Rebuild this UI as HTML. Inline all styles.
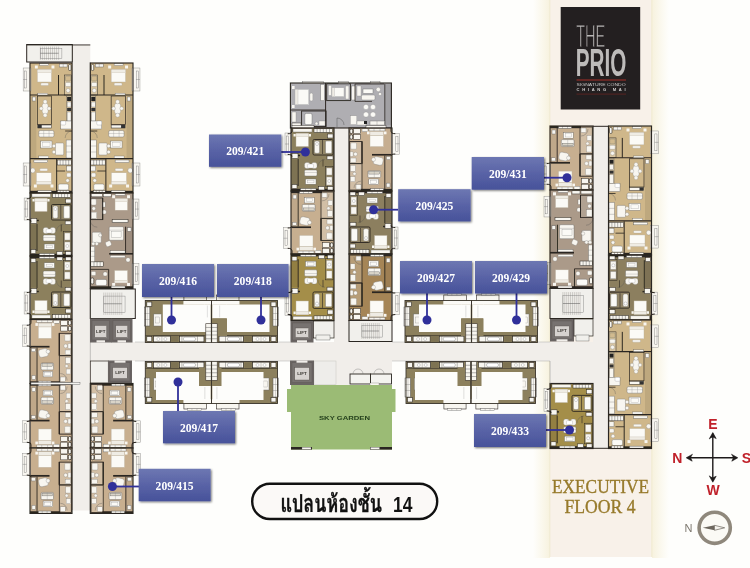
<!DOCTYPE html>
<html lang="th"><head><meta charset="utf-8"><title>แปลนห้องชั้น 14</title>
<style>
html,body{margin:0;padding:0;background:#fefefc;}
body{width:750px;height:568px;overflow:hidden;position:relative;font-family:"Liberation Sans","Loma","Noto Sans Thai","DejaVu Sans",sans-serif;}
svg{position:absolute;left:0;top:0;display:block;}
</style></head><body>
<svg width="750" height="568" viewBox="0 0 750 568">
<defs>
<linearGradient id="lg" x1="0" y1="0" x2="0" y2="1"><stop offset="0" stop-color="#6d77b2"/><stop offset="0.5" stop-color="#5963a6"/><stop offset="1" stop-color="#47529a"/></linearGradient>
<filter id="sh" x="-10%" y="-10%" width="125%" height="135%"><feGaussianBlur in="SourceAlpha" stdDeviation="1.2"/><feOffset dx="0.6" dy="1.4"/><feComponentTransfer><feFuncA type="linear" slope="0.55"/></feComponentTransfer><feMerge><feMergeNode/><feMergeNode in="SourceGraphic"/></feMerge></filter>
<filter id="soft" x="0" y="0" width="100%" height="100%"><feGaussianBlur stdDeviation="0.6"/></filter>
<linearGradient id="bandL" x1="0" y1="0" x2="1" y2="0"><stop offset="0" stop-color="#f8f3e0" stop-opacity="0"/><stop offset="1" stop-color="#f7f2de" stop-opacity="1"/></linearGradient>
<linearGradient id="bandR" x1="0" y1="0" x2="1" y2="0"><stop offset="0" stop-color="#f7f2de" stop-opacity="1"/><stop offset="1" stop-color="#f8f3e0" stop-opacity="0"/></linearGradient>
</defs>
<rect width="750" height="568" fill="#fefefc"/>
<!-- executive band -->
<rect x="533" y="0" width="17" height="558" fill="url(#bandL)"/>
<rect x="652" y="0" width="17" height="558" fill="url(#bandR)"/>
<rect x="549.5" y="0" width="102.5" height="557" fill="#f8f1e9"/>
<line x1="549.8" y1="0" x2="549.8" y2="557" stroke="#efe8cc" stroke-width="0.8"/>
<line x1="651.8" y1="0" x2="651.8" y2="557" stroke="#efe8cc" stroke-width="0.8"/>
<g filter="url(#soft)">
<rect x="72.30" y="44.50" width="18.00" height="466.00" fill="#f1eeea"/>
<rect x="72.00" y="342.00" width="540.00" height="19.00" fill="#f1eeea"/>
<rect x="334.00" y="128.00" width="15.00" height="257.00" fill="#f1eeea"/>
<rect x="593.00" y="126.00" width="15.50" height="322.00" fill="#f1eeea"/>
<rect x="550.00" y="361.00" width="43.00" height="22.50" fill="#f1eeea"/>
<rect x="336.00" y="360.00" width="56.00" height="14.50" fill="#f1eeea"/>
<rect x="314.00" y="361.00" width="22.00" height="23.50" fill="#eeedea" stroke="#c8c6c0" stroke-width="0.50"/>
<line x1="72.30" y1="44.50" x2="72.30" y2="510.00" stroke="#777" stroke-width="0.40"/>
<line x1="90.30" y1="62.00" x2="90.30" y2="510.00" stroke="#777" stroke-width="0.40"/>
<line x1="135.00" y1="342.00" x2="290.00" y2="342.00" stroke="#999" stroke-width="0.40"/>
<line x1="135.00" y1="361.00" x2="290.00" y2="361.00" stroke="#999" stroke-width="0.40"/>
<line x1="392.00" y1="342.00" x2="550.00" y2="342.00" stroke="#999" stroke-width="0.40"/>
<line x1="392.00" y1="361.00" x2="550.00" y2="361.00" stroke="#999" stroke-width="0.40"/>
<rect x="26.70" y="44.50" width="45.60" height="17.50" fill="#f1f0ec" stroke="#2b2620" stroke-width="1.00"/><line x1="40.38" y1="46.60" x2="40.38" y2="59.90" stroke="#8a8680" stroke-width="0.35"/><line x1="42.41" y1="46.60" x2="42.41" y2="59.90" stroke="#8a8680" stroke-width="0.35"/><line x1="44.43" y1="46.60" x2="44.43" y2="59.90" stroke="#8a8680" stroke-width="0.35"/><line x1="46.46" y1="46.60" x2="46.46" y2="59.90" stroke="#8a8680" stroke-width="0.35"/><line x1="48.49" y1="46.60" x2="48.49" y2="59.90" stroke="#8a8680" stroke-width="0.35"/><line x1="50.51" y1="46.60" x2="50.51" y2="59.90" stroke="#8a8680" stroke-width="0.35"/><line x1="52.54" y1="46.60" x2="52.54" y2="59.90" stroke="#8a8680" stroke-width="0.35"/><line x1="54.57" y1="46.60" x2="54.57" y2="59.90" stroke="#8a8680" stroke-width="0.35"/><line x1="56.59" y1="46.60" x2="56.59" y2="59.90" stroke="#8a8680" stroke-width="0.35"/><line x1="58.62" y1="46.60" x2="58.62" y2="59.90" stroke="#8a8680" stroke-width="0.35"/><rect x="40.38" y="48.70" width="21.52" height="9.62" fill="none" stroke="#777" stroke-width="0.40"/><line x1="40.38" y1="53.25" x2="58.62" y2="53.25" stroke="#555" stroke-width="0.50"/>
<rect x="26.70" y="44.50" width="63.60" height="0.90" fill="#2b2620"/>
<g transform="matrix(0.97674 0 0 1.00000 30.000 63.000)"><rect x="0.00" y="0.00" width="43.00" height="130.00" fill="#cfb78a"/><rect x="-7.00" y="5.00" width="8.00" height="23.00" fill="#f8f6f0" stroke="#8a8a88" stroke-width="0.45"/><rect x="-5.50" y="8.00" width="2.20" height="17.00" fill="none" stroke="#777" stroke-width="0.40"/><line x1="-7.00" y1="16.50" x2="-3.00" y2="16.50" stroke="#777" stroke-width="0.40"/><rect x="-7.00" y="100.00" width="8.00" height="23.00" fill="#f8f6f0" stroke="#8a8a88" stroke-width="0.45"/><rect x="-5.50" y="103.00" width="2.20" height="17.00" fill="none" stroke="#777" stroke-width="0.40"/><line x1="-7.00" y1="111.50" x2="-3.00" y2="111.50" stroke="#777" stroke-width="0.40"/><rect x="7.50" y="6.50" width="14.50" height="12.50" fill="#fbfaf6" stroke="#b8ae9c" stroke-width="0.40"/><rect x="7.50" y="6.50" width="14.50" height="3.00" fill="#efece4" stroke="#b8ae9c" stroke-width="0.30"/><rect x="5.00" y="2.50" width="3.00" height="3.00" fill="#f8f6f0"/><rect x="22.00" y="2.50" width="3.00" height="3.00" fill="#f8f6f0"/><rect x="11.00" y="20.00" width="8.00" height="2.40" fill="#f8f6f0" stroke="#999" stroke-width="0.30" rx="1.00"/><rect x="10.00" y="0.40" width="9.00" height="2.20" fill="#f8f6f0" stroke="#666" stroke-width="0.40"/><rect x="30.00" y="1.00" width="8.00" height="3.00" fill="#f8f6f0" stroke="#555" stroke-width="0.40"/><line x1="34.00" y1="1.00" x2="34.00" y2="4.00" stroke="#555" stroke-width="0.30"/><rect x="39.50" y="1.50" width="2.50" height="6.00" fill="#f8f6f0" stroke="#2b2620" stroke-width="0.60" rx="1.00"/><rect x="35.50" y="12.00" width="7.00" height="20.00" fill="#d8c5a1" stroke="#2b2620" stroke-width="0.50"/><rect x="36.30" y="13.00" width="5.50" height="5.00" fill="#d1ba8f" stroke="#776" stroke-width="0.40" rx="1.00"/><rect x="36.30" y="19.50" width="5.50" height="4.00" fill="#f8f6f0" stroke="#777" stroke-width="0.30" rx="1.00"/><circle cx="39.00" cy="27.50" r="2.00" fill="#f8f6f0" stroke="#777" stroke-width="0.30"/><line x1="29.20" y1="12.00" x2="29.20" y2="32.00" stroke="#2b2620" stroke-width="1.00"/><line x1="0.00" y1="32.00" x2="43.00" y2="32.00" stroke="#2b2620" stroke-width="1.10"/><rect x="8.00" y="30.20" width="10.00" height="1.80" fill="#f8f6f0" stroke="#555" stroke-width="0.30"/><rect x="0.50" y="33.00" width="6.00" height="62.00" fill="#bea87e"/><rect x="2.50" y="34.00" width="3.30" height="4.00" fill="#f8f6f0" stroke="#666" stroke-width="0.40"/><rect x="7.50" y="33.00" width="14.50" height="28.50" fill="none" stroke="#2b2620" stroke-width="0.70"/><rect x="12.50" y="40.00" width="6.00" height="11.00" fill="#f8f6f0" stroke="#888" stroke-width="0.30" rx="2.50"/><circle cx="15.50" cy="38.80" r="2.00" fill="#f8f6f0" stroke="#888" stroke-width="0.30"/><circle cx="15.50" cy="52.20" r="2.00" fill="#f8f6f0" stroke="#888" stroke-width="0.30"/><circle cx="11.50" cy="45.50" r="1.80" fill="#f8f6f0" stroke="#888" stroke-width="0.30"/><circle cx="19.50" cy="45.50" r="1.80" fill="#f8f6f0" stroke="#888" stroke-width="0.30"/><rect x="37.50" y="33.00" width="5.00" height="26.00" fill="#d8c5a1" stroke="#555" stroke-width="0.40"/><rect x="38.00" y="34.00" width="4.00" height="4.00" fill="#222"/><rect x="38.00" y="39.00" width="4.00" height="5.00" fill="#f8f6f0" stroke="#555" stroke-width="0.30"/><rect x="38.00" y="45.00" width="4.00" height="3.00" fill="#333"/><rect x="38.00" y="49.00" width="4.00" height="9.00" fill="#f8f6f0" stroke="#555" stroke-width="0.30"/><rect x="31.50" y="58.00" width="11.00" height="8.00" fill="#f8f6f0" stroke="#666" stroke-width="0.40"/><rect x="31.50" y="58.00" width="5.00" height="4.00" fill="#fff" stroke="#888" stroke-width="0.30" rx="1.00"/><rect x="8.00" y="62.00" width="14.00" height="3.00" fill="#f8f6f0" stroke="#2b2620" stroke-width="0.50"/><rect x="8.00" y="62.00" width="4.00" height="3.00" fill="#333"/><path d="M43 68 A7 7 0 0 0 36 75" fill="none" stroke="#555" stroke-width="0.35"/><line x1="36.00" y1="68.00" x2="43.00" y2="68.00" stroke="#2b2620" stroke-width="0.80"/><rect x="9.00" y="67.50" width="15.50" height="6.50" fill="#f8f6f0" stroke="#666" stroke-width="0.40" rx="1.50"/><line x1="9.00" y1="70.50" x2="24.50" y2="70.50" stroke="#888" stroke-width="0.30"/><line x1="14.00" y1="67.50" x2="14.00" y2="74.00" stroke="#888" stroke-width="0.30"/><line x1="19.50" y1="67.50" x2="19.50" y2="74.00" stroke="#888" stroke-width="0.30"/><rect x="11.00" y="78.00" width="11.50" height="7.00" fill="#fbfaf6" stroke="#666" stroke-width="0.40"/><rect x="13.00" y="79.50" width="7.50" height="4.00" fill="none" stroke="#999" stroke-width="0.30"/><rect x="26.00" y="80.00" width="8.50" height="12.00" fill="#f8f6f0" stroke="#777" stroke-width="0.40" rx="1.00"/><circle cx="24.50" cy="83.00" r="1.80" fill="#f8f6f0" stroke="#777" stroke-width="0.30"/><circle cx="24.50" cy="89.00" r="1.80" fill="#f8f6f0" stroke="#777" stroke-width="0.30"/><rect x="37.00" y="77.00" width="5.50" height="18.00" fill="#f8f6f0" stroke="#666" stroke-width="0.40"/><line x1="37.00" y1="83.00" x2="42.50" y2="83.00" stroke="#666" stroke-width="0.30"/><line x1="37.00" y1="89.00" x2="42.50" y2="89.00" stroke="#666" stroke-width="0.30"/><rect x="9.00" y="93.00" width="10.00" height="2.20" fill="#f8f6f0" stroke="#555" stroke-width="0.30"/><line x1="0.00" y1="95.70" x2="43.00" y2="95.70" stroke="#2b2620" stroke-width="1.20"/><rect x="4.00" y="97.00" width="14.00" height="2.60" fill="#f8f6f0" stroke="#555" stroke-width="0.40"/><rect x="10.00" y="105.50" width="8.00" height="2.40" fill="#f8f6f0" stroke="#999" stroke-width="0.30" rx="1.00"/><rect x="6.50" y="109.80" width="15.30" height="11.50" fill="#fbfaf6" stroke="#b8ae9c" stroke-width="0.40"/><rect x="6.50" y="118.30" width="15.30" height="3.00" fill="#efece4" stroke="#b8ae9c" stroke-width="0.30"/><rect x="4.00" y="121.50" width="3.00" height="3.00" fill="#f8f6f0"/><rect x="21.00" y="121.50" width="3.00" height="3.00" fill="#f8f6f0"/><circle cx="2.80" cy="107.50" r="2.40" fill="#f8f6f0" stroke="#777" stroke-width="0.30"/><line x1="27.30" y1="96.00" x2="27.30" y2="130.00" stroke="#2b2620" stroke-width="1.00"/><rect x="28.00" y="97.00" width="14.50" height="5.00" fill="#f8f6f0" stroke="#2b2620" stroke-width="0.50"/><line x1="30.90" y1="97.00" x2="30.90" y2="102.00" stroke="#444" stroke-width="0.40"/><line x1="33.80" y1="97.00" x2="33.80" y2="102.00" stroke="#444" stroke-width="0.40"/><line x1="36.70" y1="97.00" x2="36.70" y2="102.00" stroke="#444" stroke-width="0.40"/><line x1="39.60" y1="97.00" x2="39.60" y2="102.00" stroke="#444" stroke-width="0.40"/><line x1="27.30" y1="108.00" x2="36.00" y2="108.00" stroke="#2b2620" stroke-width="0.80"/><rect x="37.50" y="103.00" width="5.00" height="5.00" fill="#f8f6f0" stroke="#555" stroke-width="0.40"/><rect x="37.50" y="110.00" width="4.50" height="4.00" fill="#f8f6f0" stroke="#777" stroke-width="0.30" rx="1.00"/><circle cx="38.50" cy="117.50" r="1.80" fill="#f8f6f0" stroke="#777" stroke-width="0.30"/><rect x="29.00" y="121.00" width="10.50" height="6.00" fill="#fbfaf6" stroke="#666" stroke-width="0.40" rx="1.50"/><rect x="0.00" y="127.80" width="43.00" height="2.20" fill="#2b2620"/><rect x="8.00" y="127.60" width="14.00" height="2.20" fill="#f8f6f0" stroke="#555" stroke-width="0.40"/><rect x="28.00" y="127.40" width="12.00" height="2.40" fill="#f8f6f0" stroke="#2b2620" stroke-width="0.40"/><line x1="31.00" y1="127.40" x2="31.00" y2="129.80" stroke="#444" stroke-width="0.40"/><line x1="34.00" y1="127.40" x2="34.00" y2="129.80" stroke="#444" stroke-width="0.40"/><line x1="37.00" y1="127.40" x2="37.00" y2="129.80" stroke="#444" stroke-width="0.40"/><rect x="0.00" y="0.00" width="43.00" height="130.00" fill="none" stroke="#2b2620" stroke-width="1.15"/></g>
<g transform="matrix(-0.99302 0 0 1.00000 133.000 63.000)"><rect x="0.00" y="0.00" width="43.00" height="130.00" fill="#cfb78a"/><rect x="-7.00" y="5.00" width="8.00" height="23.00" fill="#f8f6f0" stroke="#8a8a88" stroke-width="0.45"/><rect x="-5.50" y="8.00" width="2.20" height="17.00" fill="none" stroke="#777" stroke-width="0.40"/><line x1="-7.00" y1="16.50" x2="-3.00" y2="16.50" stroke="#777" stroke-width="0.40"/><rect x="-7.00" y="100.00" width="8.00" height="23.00" fill="#f8f6f0" stroke="#8a8a88" stroke-width="0.45"/><rect x="-5.50" y="103.00" width="2.20" height="17.00" fill="none" stroke="#777" stroke-width="0.40"/><line x1="-7.00" y1="111.50" x2="-3.00" y2="111.50" stroke="#777" stroke-width="0.40"/><rect x="7.50" y="6.50" width="14.50" height="12.50" fill="#fbfaf6" stroke="#b8ae9c" stroke-width="0.40"/><rect x="7.50" y="6.50" width="14.50" height="3.00" fill="#efece4" stroke="#b8ae9c" stroke-width="0.30"/><rect x="5.00" y="2.50" width="3.00" height="3.00" fill="#f8f6f0"/><rect x="22.00" y="2.50" width="3.00" height="3.00" fill="#f8f6f0"/><rect x="11.00" y="20.00" width="8.00" height="2.40" fill="#f8f6f0" stroke="#999" stroke-width="0.30" rx="1.00"/><rect x="10.00" y="0.40" width="9.00" height="2.20" fill="#f8f6f0" stroke="#666" stroke-width="0.40"/><rect x="30.00" y="1.00" width="8.00" height="3.00" fill="#f8f6f0" stroke="#555" stroke-width="0.40"/><line x1="34.00" y1="1.00" x2="34.00" y2="4.00" stroke="#555" stroke-width="0.30"/><rect x="39.50" y="1.50" width="2.50" height="6.00" fill="#f8f6f0" stroke="#2b2620" stroke-width="0.60" rx="1.00"/><rect x="35.50" y="12.00" width="7.00" height="20.00" fill="#d8c5a1" stroke="#2b2620" stroke-width="0.50"/><rect x="36.30" y="13.00" width="5.50" height="5.00" fill="#d1ba8f" stroke="#776" stroke-width="0.40" rx="1.00"/><rect x="36.30" y="19.50" width="5.50" height="4.00" fill="#f8f6f0" stroke="#777" stroke-width="0.30" rx="1.00"/><circle cx="39.00" cy="27.50" r="2.00" fill="#f8f6f0" stroke="#777" stroke-width="0.30"/><line x1="29.20" y1="12.00" x2="29.20" y2="32.00" stroke="#2b2620" stroke-width="1.00"/><line x1="0.00" y1="32.00" x2="43.00" y2="32.00" stroke="#2b2620" stroke-width="1.10"/><rect x="8.00" y="30.20" width="10.00" height="1.80" fill="#f8f6f0" stroke="#555" stroke-width="0.30"/><rect x="0.50" y="33.00" width="6.00" height="62.00" fill="#bea87e"/><rect x="2.50" y="34.00" width="3.30" height="4.00" fill="#f8f6f0" stroke="#666" stroke-width="0.40"/><rect x="7.50" y="33.00" width="14.50" height="28.50" fill="none" stroke="#2b2620" stroke-width="0.70"/><rect x="12.50" y="40.00" width="6.00" height="11.00" fill="#f8f6f0" stroke="#888" stroke-width="0.30" rx="2.50"/><circle cx="15.50" cy="38.80" r="2.00" fill="#f8f6f0" stroke="#888" stroke-width="0.30"/><circle cx="15.50" cy="52.20" r="2.00" fill="#f8f6f0" stroke="#888" stroke-width="0.30"/><circle cx="11.50" cy="45.50" r="1.80" fill="#f8f6f0" stroke="#888" stroke-width="0.30"/><circle cx="19.50" cy="45.50" r="1.80" fill="#f8f6f0" stroke="#888" stroke-width="0.30"/><rect x="37.50" y="33.00" width="5.00" height="26.00" fill="#d8c5a1" stroke="#555" stroke-width="0.40"/><rect x="38.00" y="34.00" width="4.00" height="4.00" fill="#222"/><rect x="38.00" y="39.00" width="4.00" height="5.00" fill="#f8f6f0" stroke="#555" stroke-width="0.30"/><rect x="38.00" y="45.00" width="4.00" height="3.00" fill="#333"/><rect x="38.00" y="49.00" width="4.00" height="9.00" fill="#f8f6f0" stroke="#555" stroke-width="0.30"/><rect x="31.50" y="58.00" width="11.00" height="8.00" fill="#f8f6f0" stroke="#666" stroke-width="0.40"/><rect x="31.50" y="58.00" width="5.00" height="4.00" fill="#fff" stroke="#888" stroke-width="0.30" rx="1.00"/><rect x="8.00" y="62.00" width="14.00" height="3.00" fill="#f8f6f0" stroke="#2b2620" stroke-width="0.50"/><rect x="8.00" y="62.00" width="4.00" height="3.00" fill="#333"/><path d="M43 68 A7 7 0 0 0 36 75" fill="none" stroke="#555" stroke-width="0.35"/><line x1="36.00" y1="68.00" x2="43.00" y2="68.00" stroke="#2b2620" stroke-width="0.80"/><rect x="9.00" y="67.50" width="15.50" height="6.50" fill="#f8f6f0" stroke="#666" stroke-width="0.40" rx="1.50"/><line x1="9.00" y1="70.50" x2="24.50" y2="70.50" stroke="#888" stroke-width="0.30"/><line x1="14.00" y1="67.50" x2="14.00" y2="74.00" stroke="#888" stroke-width="0.30"/><line x1="19.50" y1="67.50" x2="19.50" y2="74.00" stroke="#888" stroke-width="0.30"/><rect x="11.00" y="78.00" width="11.50" height="7.00" fill="#fbfaf6" stroke="#666" stroke-width="0.40"/><rect x="13.00" y="79.50" width="7.50" height="4.00" fill="none" stroke="#999" stroke-width="0.30"/><rect x="26.00" y="80.00" width="8.50" height="12.00" fill="#f8f6f0" stroke="#777" stroke-width="0.40" rx="1.00"/><circle cx="24.50" cy="83.00" r="1.80" fill="#f8f6f0" stroke="#777" stroke-width="0.30"/><circle cx="24.50" cy="89.00" r="1.80" fill="#f8f6f0" stroke="#777" stroke-width="0.30"/><rect x="37.00" y="77.00" width="5.50" height="18.00" fill="#f8f6f0" stroke="#666" stroke-width="0.40"/><line x1="37.00" y1="83.00" x2="42.50" y2="83.00" stroke="#666" stroke-width="0.30"/><line x1="37.00" y1="89.00" x2="42.50" y2="89.00" stroke="#666" stroke-width="0.30"/><rect x="9.00" y="93.00" width="10.00" height="2.20" fill="#f8f6f0" stroke="#555" stroke-width="0.30"/><line x1="0.00" y1="95.70" x2="43.00" y2="95.70" stroke="#2b2620" stroke-width="1.20"/><rect x="4.00" y="97.00" width="14.00" height="2.60" fill="#f8f6f0" stroke="#555" stroke-width="0.40"/><rect x="10.00" y="105.50" width="8.00" height="2.40" fill="#f8f6f0" stroke="#999" stroke-width="0.30" rx="1.00"/><rect x="6.50" y="109.80" width="15.30" height="11.50" fill="#fbfaf6" stroke="#b8ae9c" stroke-width="0.40"/><rect x="6.50" y="118.30" width="15.30" height="3.00" fill="#efece4" stroke="#b8ae9c" stroke-width="0.30"/><rect x="4.00" y="121.50" width="3.00" height="3.00" fill="#f8f6f0"/><rect x="21.00" y="121.50" width="3.00" height="3.00" fill="#f8f6f0"/><circle cx="2.80" cy="107.50" r="2.40" fill="#f8f6f0" stroke="#777" stroke-width="0.30"/><line x1="27.30" y1="96.00" x2="27.30" y2="130.00" stroke="#2b2620" stroke-width="1.00"/><rect x="28.00" y="97.00" width="14.50" height="5.00" fill="#f8f6f0" stroke="#2b2620" stroke-width="0.50"/><line x1="30.90" y1="97.00" x2="30.90" y2="102.00" stroke="#444" stroke-width="0.40"/><line x1="33.80" y1="97.00" x2="33.80" y2="102.00" stroke="#444" stroke-width="0.40"/><line x1="36.70" y1="97.00" x2="36.70" y2="102.00" stroke="#444" stroke-width="0.40"/><line x1="39.60" y1="97.00" x2="39.60" y2="102.00" stroke="#444" stroke-width="0.40"/><line x1="27.30" y1="108.00" x2="36.00" y2="108.00" stroke="#2b2620" stroke-width="0.80"/><rect x="37.50" y="103.00" width="5.00" height="5.00" fill="#f8f6f0" stroke="#555" stroke-width="0.40"/><rect x="37.50" y="110.00" width="4.50" height="4.00" fill="#f8f6f0" stroke="#777" stroke-width="0.30" rx="1.00"/><circle cx="38.50" cy="117.50" r="1.80" fill="#f8f6f0" stroke="#777" stroke-width="0.30"/><rect x="29.00" y="121.00" width="10.50" height="6.00" fill="#fbfaf6" stroke="#666" stroke-width="0.40" rx="1.50"/><rect x="0.00" y="127.80" width="43.00" height="2.20" fill="#2b2620"/><rect x="8.00" y="127.60" width="14.00" height="2.20" fill="#f8f6f0" stroke="#555" stroke-width="0.40"/><rect x="28.00" y="127.40" width="12.00" height="2.40" fill="#f8f6f0" stroke="#2b2620" stroke-width="0.40"/><line x1="31.00" y1="127.40" x2="31.00" y2="129.80" stroke="#444" stroke-width="0.40"/><line x1="34.00" y1="127.40" x2="34.00" y2="129.80" stroke="#444" stroke-width="0.40"/><line x1="37.00" y1="127.40" x2="37.00" y2="129.80" stroke="#444" stroke-width="0.40"/><rect x="0.00" y="0.00" width="43.00" height="130.00" fill="none" stroke="#2b2620" stroke-width="1.15"/></g>
<g transform="matrix(0.97674 0 0 1.00000 30.000 193.000)"><rect x="0.00" y="0.00" width="43.00" height="63.00" fill="#8c805d"/><rect x="-6.00" y="5.00" width="6.50" height="22.00" fill="#f8f6f0" stroke="#8a8a88" stroke-width="0.45"/><rect x="-4.50" y="8.00" width="2.20" height="16.00" fill="none" stroke="#777" stroke-width="0.40"/><line x1="-6.00" y1="16.00" x2="-2.00" y2="16.00" stroke="#777" stroke-width="0.40"/><rect x="2.00" y="0.80" width="19.00" height="3.20" fill="#f8f6f0" stroke="#666" stroke-width="0.40"/><rect x="23.00" y="0.80" width="18.50" height="3.60" fill="#f8f6f0" stroke="#2b2620" stroke-width="0.50"/><line x1="26.10" y1="0.80" x2="26.10" y2="4.40" stroke="#444" stroke-width="0.40"/><line x1="29.20" y1="0.80" x2="29.20" y2="4.40" stroke="#444" stroke-width="0.40"/><line x1="32.30" y1="0.80" x2="32.30" y2="4.40" stroke="#444" stroke-width="0.40"/><line x1="35.40" y1="0.80" x2="35.40" y2="4.40" stroke="#444" stroke-width="0.40"/><line x1="38.50" y1="0.80" x2="38.50" y2="4.40" stroke="#444" stroke-width="0.40"/><rect x="5.00" y="5.50" width="12.50" height="13.00" fill="#fbfaf6" stroke="#b8ae9c" stroke-width="0.40"/><rect x="5.00" y="5.50" width="12.50" height="3.00" fill="#efece4" stroke="#b8ae9c" stroke-width="0.30"/><rect x="2.50" y="6.00" width="2.20" height="2.50" fill="#f8f6f0"/><rect x="17.80" y="6.00" width="2.20" height="2.50" fill="#f8f6f0"/><rect x="22.00" y="11.50" width="20.00" height="15.50" fill="#948868" stroke="#2b2620" stroke-width="0.90" rx="1.20"/><rect x="23.50" y="13.00" width="5.00" height="12.30" fill="#f8f6f0" stroke="#777" stroke-width="0.40" rx="1.50"/><circle cx="26.00" cy="16.00" r="1.50" fill="#fff" stroke="#777" stroke-width="0.30"/><rect x="34.50" y="13.00" width="6.30" height="12.30" fill="#fbfaf6" stroke="#666" stroke-width="0.40" rx="1.00"/><line x1="31.50" y1="12.00" x2="31.50" y2="26.00" stroke="#2b2620" stroke-width="0.60"/><rect x="36.50" y="6.00" width="5.50" height="4.00" fill="#f8f6f0" stroke="#2b2620" stroke-width="0.50"/><rect x="36.00" y="28.00" width="6.00" height="3.60" fill="#f8f6f0" stroke="#2b2620" stroke-width="0.50"/><line x1="0.00" y1="27.50" x2="9.00" y2="27.50" stroke="#2b2620" stroke-width="1.40"/><rect x="1.00" y="25.50" width="6.00" height="5.00" fill="#f8f6f0" stroke="#2b2620" stroke-width="0.50"/><rect x="0.50" y="31.50" width="6.50" height="26.50" fill="#7e7353"/><line x1="7.20" y1="31.00" x2="7.20" y2="58.00" stroke="#2b2620" stroke-width="0.90"/><rect x="13.50" y="34.50" width="5.50" height="6.00" fill="#f8f6f0" stroke="#777" stroke-width="0.30" rx="2.00"/><rect x="20.50" y="34.50" width="5.50" height="6.00" fill="#f8f6f0" stroke="#777" stroke-width="0.30" rx="2.00"/><rect x="16.50" y="36.00" width="6.00" height="4.00" fill="#fff" stroke="#999" stroke-width="0.30" rx="1.00"/><rect x="13.50" y="42.00" width="12.50" height="6.00" fill="#f8f6f0" stroke="#666" stroke-width="0.40" rx="1.20"/><line x1="13.50" y1="44.50" x2="26.00" y2="44.50" stroke="#888" stroke-width="0.30"/><rect x="14.50" y="51.00" width="10.50" height="5.20" fill="#fbfaf6" stroke="#666" stroke-width="0.40"/><rect x="16.50" y="52.30" width="6.50" height="2.60" fill="none" stroke="#999" stroke-width="0.30"/><rect x="34.50" y="38.50" width="7.50" height="20.00" fill="#948868" stroke="#2b2620" stroke-width="0.50"/><rect x="35.50" y="40.00" width="5.50" height="7.00" fill="#f8f6f0" stroke="#777" stroke-width="0.30"/><rect x="35.50" y="49.00" width="5.50" height="8.00" fill="#f8f6f0" stroke="#777" stroke-width="0.30"/><circle cx="38.20" cy="53.00" r="1.50" fill="#fff" stroke="#777" stroke-width="0.30"/><path d="M34 31.5 A7 7 0 0 0 27 38.5" fill="none" stroke="#555" stroke-width="0.35"/><line x1="32.00" y1="31.50" x2="32.00" y2="38.50" stroke="#2b2620" stroke-width="0.60"/><rect x="0.00" y="60.80" width="43.00" height="2.20" fill="#2b2620"/><rect x="9.50" y="60.60" width="15.50" height="2.20" fill="#f8f6f0" stroke="#555" stroke-width="0.40"/><line x1="14.50" y1="60.60" x2="14.50" y2="62.80" stroke="#555" stroke-width="0.30"/><line x1="20.00" y1="60.60" x2="20.00" y2="62.80" stroke="#555" stroke-width="0.30"/><rect x="1.00" y="56.50" width="5.00" height="4.00" fill="#f8f6f0" stroke="#2b2620" stroke-width="0.50"/><rect x="36.50" y="58.50" width="5.50" height="3.50" fill="#f8f6f0" stroke="#2b2620" stroke-width="0.50"/><rect x="27.50" y="58.50" width="6.00" height="3.50" fill="#f8f6f0" stroke="#2b2620" stroke-width="0.50"/><path d="M-3.3 5.8 Q1 5.8 1 3 V0 M-3.3 26.4 Q1 26.4 1 28.5" fill="none" stroke="#2b2620" stroke-width="1.0"/><rect x="0.00" y="0.00" width="43.00" height="63.00" fill="none" stroke="#2b2620" stroke-width="1.15"/></g>
<g transform="matrix(0.97674 0 0 -1.00000 30.000 319.000)"><rect x="0.00" y="0.00" width="43.00" height="63.00" fill="#8c805d"/><rect x="-6.00" y="5.00" width="6.50" height="22.00" fill="#f8f6f0" stroke="#8a8a88" stroke-width="0.45"/><rect x="-4.50" y="8.00" width="2.20" height="16.00" fill="none" stroke="#777" stroke-width="0.40"/><line x1="-6.00" y1="16.00" x2="-2.00" y2="16.00" stroke="#777" stroke-width="0.40"/><rect x="2.00" y="0.80" width="19.00" height="3.20" fill="#f8f6f0" stroke="#666" stroke-width="0.40"/><rect x="23.00" y="0.80" width="18.50" height="3.60" fill="#f8f6f0" stroke="#2b2620" stroke-width="0.50"/><line x1="26.10" y1="0.80" x2="26.10" y2="4.40" stroke="#444" stroke-width="0.40"/><line x1="29.20" y1="0.80" x2="29.20" y2="4.40" stroke="#444" stroke-width="0.40"/><line x1="32.30" y1="0.80" x2="32.30" y2="4.40" stroke="#444" stroke-width="0.40"/><line x1="35.40" y1="0.80" x2="35.40" y2="4.40" stroke="#444" stroke-width="0.40"/><line x1="38.50" y1="0.80" x2="38.50" y2="4.40" stroke="#444" stroke-width="0.40"/><rect x="5.00" y="5.50" width="12.50" height="13.00" fill="#fbfaf6" stroke="#b8ae9c" stroke-width="0.40"/><rect x="5.00" y="5.50" width="12.50" height="3.00" fill="#efece4" stroke="#b8ae9c" stroke-width="0.30"/><rect x="2.50" y="6.00" width="2.20" height="2.50" fill="#f8f6f0"/><rect x="17.80" y="6.00" width="2.20" height="2.50" fill="#f8f6f0"/><rect x="22.00" y="11.50" width="20.00" height="15.50" fill="#948868" stroke="#2b2620" stroke-width="0.90" rx="1.20"/><rect x="23.50" y="13.00" width="5.00" height="12.30" fill="#f8f6f0" stroke="#777" stroke-width="0.40" rx="1.50"/><circle cx="26.00" cy="16.00" r="1.50" fill="#fff" stroke="#777" stroke-width="0.30"/><rect x="34.50" y="13.00" width="6.30" height="12.30" fill="#fbfaf6" stroke="#666" stroke-width="0.40" rx="1.00"/><line x1="31.50" y1="12.00" x2="31.50" y2="26.00" stroke="#2b2620" stroke-width="0.60"/><rect x="36.50" y="6.00" width="5.50" height="4.00" fill="#f8f6f0" stroke="#2b2620" stroke-width="0.50"/><rect x="36.00" y="28.00" width="6.00" height="3.60" fill="#f8f6f0" stroke="#2b2620" stroke-width="0.50"/><line x1="0.00" y1="27.50" x2="9.00" y2="27.50" stroke="#2b2620" stroke-width="1.40"/><rect x="1.00" y="25.50" width="6.00" height="5.00" fill="#f8f6f0" stroke="#2b2620" stroke-width="0.50"/><rect x="0.50" y="31.50" width="6.50" height="26.50" fill="#7e7353"/><line x1="7.20" y1="31.00" x2="7.20" y2="58.00" stroke="#2b2620" stroke-width="0.90"/><rect x="13.50" y="34.50" width="5.50" height="6.00" fill="#f8f6f0" stroke="#777" stroke-width="0.30" rx="2.00"/><rect x="20.50" y="34.50" width="5.50" height="6.00" fill="#f8f6f0" stroke="#777" stroke-width="0.30" rx="2.00"/><rect x="16.50" y="36.00" width="6.00" height="4.00" fill="#fff" stroke="#999" stroke-width="0.30" rx="1.00"/><rect x="13.50" y="42.00" width="12.50" height="6.00" fill="#f8f6f0" stroke="#666" stroke-width="0.40" rx="1.20"/><line x1="13.50" y1="44.50" x2="26.00" y2="44.50" stroke="#888" stroke-width="0.30"/><rect x="14.50" y="51.00" width="10.50" height="5.20" fill="#fbfaf6" stroke="#666" stroke-width="0.40"/><rect x="16.50" y="52.30" width="6.50" height="2.60" fill="none" stroke="#999" stroke-width="0.30"/><rect x="34.50" y="38.50" width="7.50" height="20.00" fill="#948868" stroke="#2b2620" stroke-width="0.50"/><rect x="35.50" y="40.00" width="5.50" height="7.00" fill="#f8f6f0" stroke="#777" stroke-width="0.30"/><rect x="35.50" y="49.00" width="5.50" height="8.00" fill="#f8f6f0" stroke="#777" stroke-width="0.30"/><circle cx="38.20" cy="53.00" r="1.50" fill="#fff" stroke="#777" stroke-width="0.30"/><path d="M34 31.5 A7 7 0 0 0 27 38.5" fill="none" stroke="#555" stroke-width="0.35"/><line x1="32.00" y1="31.50" x2="32.00" y2="38.50" stroke="#2b2620" stroke-width="0.60"/><rect x="0.00" y="60.80" width="43.00" height="2.20" fill="#2b2620"/><rect x="9.50" y="60.60" width="15.50" height="2.20" fill="#f8f6f0" stroke="#555" stroke-width="0.40"/><line x1="14.50" y1="60.60" x2="14.50" y2="62.80" stroke="#555" stroke-width="0.30"/><line x1="20.00" y1="60.60" x2="20.00" y2="62.80" stroke="#555" stroke-width="0.30"/><rect x="1.00" y="56.50" width="5.00" height="4.00" fill="#f8f6f0" stroke="#2b2620" stroke-width="0.50"/><rect x="36.50" y="58.50" width="5.50" height="3.50" fill="#f8f6f0" stroke="#2b2620" stroke-width="0.50"/><rect x="27.50" y="58.50" width="6.00" height="3.50" fill="#f8f6f0" stroke="#2b2620" stroke-width="0.50"/><path d="M-3.3 5.8 Q1 5.8 1 3 V0 M-3.3 26.4 Q1 26.4 1 28.5" fill="none" stroke="#2b2620" stroke-width="1.0"/><rect x="0.00" y="0.00" width="43.00" height="63.00" fill="none" stroke="#2b2620" stroke-width="1.15"/></g>
<g transform="matrix(-0.99302 0 0 1.00526 133.000 193.000)"><rect x="0.00" y="0.00" width="43.00" height="95.00" fill="#ab9a89"/><rect x="-6.00" y="6.00" width="7.00" height="20.00" fill="#f8f6f0" stroke="#8a8a88" stroke-width="0.45"/><rect x="-4.50" y="9.00" width="2.20" height="14.00" fill="none" stroke="#777" stroke-width="0.40"/><line x1="-6.00" y1="16.00" x2="-2.00" y2="16.00" stroke="#777" stroke-width="0.40"/><rect x="-6.00" y="70.00" width="7.00" height="21.00" fill="#f8f6f0" stroke="#8a8a88" stroke-width="0.45"/><rect x="-4.50" y="73.00" width="2.20" height="15.00" fill="none" stroke="#777" stroke-width="0.40"/><line x1="-6.00" y1="80.50" x2="-2.00" y2="80.50" stroke="#777" stroke-width="0.40"/><rect x="5.50" y="5.60" width="12.60" height="11.50" fill="#fbfaf6" stroke="#b8ae9c" stroke-width="0.40"/><rect x="5.50" y="5.60" width="12.60" height="2.80" fill="#efece4" stroke="#b8ae9c" stroke-width="0.30"/><rect x="3.00" y="2.20" width="3.00" height="3.00" fill="#f8f6f0"/><rect x="18.00" y="2.20" width="3.00" height="3.00" fill="#f8f6f0"/><rect x="8.00" y="0.40" width="10.00" height="2.00" fill="#f8f6f0" stroke="#666" stroke-width="0.40"/><rect x="22.00" y="0.80" width="8.00" height="3.00" fill="#f8f6f0" stroke="#2b2620" stroke-width="0.40"/><rect x="31.00" y="0.80" width="11.00" height="3.00" fill="#f8f6f0" stroke="#2b2620" stroke-width="0.40"/><rect x="30.50" y="5.00" width="12.00" height="21.50" fill="#b1a292" stroke="#2b2620" stroke-width="0.80"/><rect x="37.00" y="6.00" width="5.00" height="6.00" fill="#f8f6f0" stroke="#777" stroke-width="0.30" rx="1.00"/><circle cx="39.50" cy="15.50" r="1.80" fill="#f8f6f0" stroke="#777" stroke-width="0.30"/><rect x="36.50" y="19.00" width="5.50" height="6.50" fill="#f8f6f0" stroke="#777" stroke-width="0.30"/><rect x="28.00" y="9.00" width="2.50" height="5.00" fill="#f8f6f0" stroke="#666" stroke-width="0.30"/><rect x="27.00" y="17.00" width="4.00" height="4.00" fill="#f8f6f0" stroke="#777" stroke-width="0.30" rx="1.50"/><line x1="30.50" y1="5.00" x2="30.50" y2="26.50" stroke="#2b2620" stroke-width="1.00"/><rect x="5.00" y="26.50" width="16.00" height="3.00" fill="#f8f6f0" stroke="#2b2620" stroke-width="0.50"/><path d="M43 27 A7 7 0 0 1 36 34" fill="none" stroke="#555" stroke-width="0.35"/><rect x="1.00" y="33.50" width="6.50" height="26.50" fill="#9d8d7e"/><line x1="7.50" y1="33.50" x2="7.50" y2="60.00" stroke="#2b2620" stroke-width="0.90"/><rect x="2.00" y="34.50" width="3.50" height="3.50" fill="#f8f6f0" stroke="#666" stroke-width="0.40"/><rect x="9.50" y="33.50" width="14.50" height="13.50" fill="#f8f6f0" stroke="#666" stroke-width="0.40" rx="1.20"/><rect x="12.00" y="38.00" width="10.00" height="6.00" fill="#fbfaf6" stroke="#888" stroke-width="0.30"/><line x1="9.50" y1="37.00" x2="24.00" y2="37.00" stroke="#888" stroke-width="0.30"/><rect x="22.00" y="48.00" width="5.50" height="5.00" fill="#f8f6f0" stroke="#777" stroke-width="0.30" rx="1.50" transform="rotate(25 24.7 50.5)"/><rect x="32.00" y="39.00" width="9.00" height="10.50" fill="#f8f6f0" stroke="#777" stroke-width="0.40" rx="1.00"/><circle cx="33.00" cy="42.00" r="1.70" fill="#f8f6f0" stroke="#777" stroke-width="0.30"/><circle cx="36.50" cy="50.50" r="1.70" fill="#f8f6f0" stroke="#777" stroke-width="0.30"/><circle cx="40.00" cy="50.50" r="1.70" fill="#f8f6f0" stroke="#777" stroke-width="0.30"/><rect x="38.50" y="53.00" width="4.00" height="16.00" fill="#f8f6f0" stroke="#666" stroke-width="0.40"/><line x1="38.50" y1="58.00" x2="42.50" y2="58.00" stroke="#666" stroke-width="0.30"/><line x1="38.50" y1="63.00" x2="42.50" y2="63.00" stroke="#666" stroke-width="0.30"/><rect x="8.00" y="57.50" width="15.00" height="2.20" fill="#f8f6f0" stroke="#555" stroke-width="0.30"/><line x1="0.00" y1="60.50" x2="24.00" y2="60.50" stroke="#2b2620" stroke-width="1.60"/><rect x="8.00" y="62.20" width="15.00" height="2.20" fill="#f8f6f0" stroke="#555" stroke-width="0.30"/><circle cx="5.00" cy="66.50" r="2.20" fill="#f8f6f0" stroke="#777" stroke-width="0.30"/><rect x="5.50" y="77.00" width="13.00" height="12.50" fill="#fbfaf6" stroke="#b8ae9c" stroke-width="0.40"/><rect x="5.50" y="86.70" width="13.00" height="2.80" fill="#efece4" stroke="#b8ae9c" stroke-width="0.30"/><rect x="3.00" y="89.50" width="3.00" height="3.00" fill="#f8f6f0"/><rect x="18.00" y="89.50" width="3.00" height="3.00" fill="#f8f6f0"/><rect x="30.00" y="68.50" width="12.50" height="4.50" fill="#f8f6f0" stroke="#2b2620" stroke-width="0.50"/><line x1="33.10" y1="68.50" x2="33.10" y2="73.00" stroke="#444" stroke-width="0.40"/><line x1="36.20" y1="68.50" x2="36.20" y2="73.00" stroke="#444" stroke-width="0.40"/><line x1="39.30" y1="68.50" x2="39.30" y2="73.00" stroke="#444" stroke-width="0.40"/><line x1="24.50" y1="76.00" x2="43.00" y2="76.00" stroke="#2b2620" stroke-width="0.80"/><line x1="24.50" y1="76.00" x2="24.50" y2="95.00" stroke="#2b2620" stroke-width="0.90"/><rect x="37.50" y="78.00" width="4.50" height="4.00" fill="#f8f6f0" stroke="#777" stroke-width="0.30" rx="1.00"/><rect x="26.00" y="78.50" width="4.00" height="4.00" fill="#f8f6f0" stroke="#777" stroke-width="0.30" rx="1.50"/><rect x="39.50" y="84.50" width="3.00" height="6.00" fill="#f8f6f0" stroke="#2b2620" stroke-width="0.60" rx="1.20"/><rect x="26.50" y="86.00" width="11.00" height="6.00" fill="#fbfaf6" stroke="#666" stroke-width="0.40" rx="1.50"/><rect x="0.00" y="92.80" width="43.00" height="2.20" fill="#2b2620"/><rect x="8.00" y="92.60" width="14.00" height="2.20" fill="#f8f6f0" stroke="#555" stroke-width="0.40"/><rect x="0.00" y="0.00" width="43.00" height="95.00" fill="none" stroke="#2b2620" stroke-width="1.15"/></g>
<rect x="90.30" y="289.00" width="45.00" height="29.50" fill="#f1f0ec" stroke="#2b2620" stroke-width="1.00"/><line x1="103.80" y1="292.54" x2="103.80" y2="314.96" stroke="#8a8680" stroke-width="0.35"/><line x1="105.80" y1="292.54" x2="105.80" y2="314.96" stroke="#8a8680" stroke-width="0.35"/><line x1="107.80" y1="292.54" x2="107.80" y2="314.96" stroke="#8a8680" stroke-width="0.35"/><line x1="109.80" y1="292.54" x2="109.80" y2="314.96" stroke="#8a8680" stroke-width="0.35"/><line x1="111.80" y1="292.54" x2="111.80" y2="314.96" stroke="#8a8680" stroke-width="0.35"/><line x1="113.80" y1="292.54" x2="113.80" y2="314.96" stroke="#8a8680" stroke-width="0.35"/><line x1="115.80" y1="292.54" x2="115.80" y2="314.96" stroke="#8a8680" stroke-width="0.35"/><line x1="117.80" y1="292.54" x2="117.80" y2="314.96" stroke="#8a8680" stroke-width="0.35"/><line x1="119.80" y1="292.54" x2="119.80" y2="314.96" stroke="#8a8680" stroke-width="0.35"/><line x1="121.80" y1="292.54" x2="121.80" y2="314.96" stroke="#8a8680" stroke-width="0.35"/><rect x="103.80" y="296.08" width="21.24" height="16.23" fill="none" stroke="#777" stroke-width="0.40"/><line x1="103.80" y1="303.75" x2="121.80" y2="303.75" stroke="#555" stroke-width="0.50"/>
<rect x="90.00" y="318.50" width="21.50" height="24.00" fill="#6a6563"/><rect x="92.00" y="320.50" width="17.50" height="19.50" fill="#777270" stroke="#5c5755" stroke-width="0.40"/><rect x="94.80" y="325.50" width="11.90" height="12.00" fill="#d6d2cf" stroke="#55504c" stroke-width="0.40"/><text x="100.75" y="332.60" font-family="Liberation Sans,sans-serif" font-size="3.2" font-weight="bold" fill="#3a3632" text-anchor="middle" textLength="9.4" lengthAdjust="spacingAndGlyphs">LIFT</text><rect x="96.50" y="340.30" width="8.50" height="2.20" fill="#f1eeea"/>
<rect x="111.00" y="318.50" width="21.50" height="24.00" fill="#6a6563"/><rect x="113.00" y="320.50" width="17.50" height="19.50" fill="#777270" stroke="#5c5755" stroke-width="0.40"/><rect x="115.80" y="325.50" width="11.90" height="12.00" fill="#d6d2cf" stroke="#55504c" stroke-width="0.40"/><text x="121.75" y="332.60" font-family="Liberation Sans,sans-serif" font-size="3.2" font-weight="bold" fill="#3a3632" text-anchor="middle" textLength="9.4" lengthAdjust="spacingAndGlyphs">LIFT</text><rect x="117.50" y="340.30" width="8.50" height="2.20" fill="#f1eeea"/>
<rect x="90.30" y="361.00" width="18.00" height="22.00" fill="#f1f0ec" stroke="#2b2620" stroke-width="0.70"/>
<rect x="108.00" y="360.50" width="24.00" height="23.00" fill="#6a6563"/><rect x="110.00" y="362.50" width="20.00" height="18.50" fill="#777270" stroke="#5c5755" stroke-width="0.40"/><rect x="112.80" y="367.50" width="14.40" height="11.00" fill="#d6d2cf" stroke="#55504c" stroke-width="0.40"/><text x="120.00" y="374.10" font-family="Liberation Sans,sans-serif" font-size="3.2" font-weight="bold" fill="#3a3632" text-anchor="middle" textLength="9.4" lengthAdjust="spacingAndGlyphs">LIFT</text><rect x="114.50" y="360.50" width="11.00" height="2.20" fill="#f1eeea"/>
<g transform="matrix(0.97674 0 0 1.00000 30.000 319.500)"><rect x="0.00" y="0.00" width="43.00" height="64.00" fill="#c8af8f"/><rect x="-7.50" y="5.50" width="8.00" height="21.50" fill="#f8f6f0" stroke="#8a8a88" stroke-width="0.45"/><rect x="-6.00" y="8.50" width="2.20" height="15.50" fill="none" stroke="#777" stroke-width="0.40"/><line x1="-7.50" y1="16.00" x2="-3.50" y2="16.00" stroke="#777" stroke-width="0.40"/><rect x="7.00" y="0.60" width="16.00" height="2.40" fill="#f8f6f0" stroke="#666" stroke-width="0.40"/><line x1="12.00" y1="0.60" x2="12.00" y2="3.00" stroke="#666" stroke-width="0.30"/><line x1="18.00" y1="0.60" x2="18.00" y2="3.00" stroke="#666" stroke-width="0.30"/><rect x="31.50" y="0.80" width="7.00" height="5.00" fill="#f8f6f0" stroke="#2b2620" stroke-width="0.50"/><rect x="31.50" y="6.60" width="7.00" height="5.00" fill="#f8f6f0" stroke="#2b2620" stroke-width="0.50"/><rect x="39.20" y="1.00" width="3.00" height="4.60" fill="#f8f6f0" stroke="#2b2620" stroke-width="0.80" rx="1.30"/><rect x="39.20" y="6.80" width="3.00" height="4.60" fill="#f8f6f0" stroke="#2b2620" stroke-width="0.80" rx="1.30"/><rect x="24.00" y="0.80" width="6.00" height="3.00" fill="#f8f6f0" stroke="#666" stroke-width="0.40"/><rect x="8.50" y="7.40" width="13.50" height="11.50" fill="#fbfaf6" stroke="#b8ae9c" stroke-width="0.40"/><rect x="8.50" y="3.60" width="13.50" height="3.80" fill="#efece4" stroke="#b8ae9c" stroke-width="0.30"/><rect x="5.50" y="3.60" width="2.60" height="2.80" fill="#f8f6f0"/><rect x="22.40" y="3.60" width="2.60" height="2.80" fill="#f8f6f0"/><rect x="30.00" y="13.80" width="12.30" height="22.20" fill="#d3bfa5" stroke="#2b2620" stroke-width="0.90"/><line x1="30.00" y1="13.80" x2="30.00" y2="36.00" stroke="#2b2620" stroke-width="1.30"/><rect x="35.50" y="15.00" width="5.80" height="6.50" fill="#f8f6f0" stroke="#777" stroke-width="0.30" rx="1.00"/><circle cx="36.50" cy="26.50" r="1.90" fill="#f8f6f0" stroke="#777" stroke-width="0.30"/><rect x="38.80" y="24.00" width="3.00" height="5.00" fill="#f8f6f0" stroke="#777" stroke-width="0.30" rx="1.00"/><rect x="36.00" y="30.50" width="5.50" height="4.50" fill="#f8f6f0" stroke="#777" stroke-width="0.30"/><line x1="0.50" y1="27.20" x2="20.00" y2="27.20" stroke="#2b2620" stroke-width="1.70"/><rect x="9.00" y="29.50" width="9.50" height="8.00" fill="#f8f6f0" stroke="#777" stroke-width="0.35" rx="2.50" transform="rotate(-12 13.7 33.5)"/><circle cx="18.50" cy="32.00" r="2.00" fill="#f8f6f0" stroke="#777" stroke-width="0.30"/><rect x="30.00" y="36.30" width="12.30" height="26.70" fill="#d3bfa5" stroke="#2b2620" stroke-width="0.80"/><rect x="36.50" y="38.00" width="5.00" height="6.00" fill="#f8f6f0" stroke="#777" stroke-width="0.30"/><circle cx="37.50" cy="46.50" r="1.60" fill="#f8f6f0" stroke="#777" stroke-width="0.30"/><rect x="37.00" y="49.50" width="4.50" height="5.00" fill="#f8f6f0" stroke="#777" stroke-width="0.30"/><path d="M31 54 A7 7 0 0 1 38 61" fill="none" stroke="#555" stroke-width="0.35"/><rect x="31.00" y="57.50" width="5.00" height="4.50" fill="#f8f6f0" stroke="#666" stroke-width="0.30"/><rect x="0.50" y="28.50" width="6.50" height="33.50" fill="#c0a889"/><line x1="7.20" y1="28.00" x2="7.20" y2="62.00" stroke="#2b2620" stroke-width="0.90"/><rect x="2.00" y="56.00" width="3.60" height="4.00" fill="#f8f6f0" stroke="#666" stroke-width="0.40"/><rect x="1.50" y="29.00" width="4.00" height="3.20" fill="#f8f6f0" stroke="#666" stroke-width="0.40"/><rect x="11.30" y="43.40" width="12.80" height="7.00" fill="#f8f6f0" stroke="#555" stroke-width="0.40" rx="1.20"/><rect x="12.30" y="44.20" width="10.80" height="2.60" fill="#d9d4c8" stroke="#444" stroke-width="0.30"/><line x1="17.70" y1="43.40" x2="17.70" y2="50.40" stroke="#888" stroke-width="0.30"/><rect x="13.40" y="51.80" width="9.80" height="5.60" fill="#fbfaf6" stroke="#666" stroke-width="0.40"/><rect x="15.20" y="53.00" width="6.20" height="3.20" fill="none" stroke="#999" stroke-width="0.30"/><rect x="0.00" y="61.80" width="31.00" height="2.20" fill="#2b2620"/><rect x="8.50" y="61.60" width="13.00" height="2.20" fill="#f8f6f0" stroke="#555" stroke-width="0.40"/><line x1="12.50" y1="61.60" x2="12.50" y2="63.80" stroke="#555" stroke-width="0.30"/><line x1="17.50" y1="61.60" x2="17.50" y2="63.80" stroke="#555" stroke-width="0.30"/><path d="M-3.3 5.8 Q1 5.8 1 3 V0 M-3.3 26.4 Q1 26.4 1 28.5" fill="none" stroke="#2b2620" stroke-width="1.0"/><rect x="0.00" y="0.00" width="43.00" height="64.00" fill="none" stroke="#2b2620" stroke-width="1.15"/></g>
<g transform="matrix(0.97674 0 0 -1.00781 30.000 448.000)"><rect x="0.00" y="0.00" width="43.00" height="64.00" fill="#c8af8f"/><rect x="-7.50" y="5.50" width="8.00" height="21.50" fill="#f8f6f0" stroke="#8a8a88" stroke-width="0.45"/><rect x="-6.00" y="8.50" width="2.20" height="15.50" fill="none" stroke="#777" stroke-width="0.40"/><line x1="-7.50" y1="16.00" x2="-3.50" y2="16.00" stroke="#777" stroke-width="0.40"/><rect x="7.00" y="0.60" width="16.00" height="2.40" fill="#f8f6f0" stroke="#666" stroke-width="0.40"/><line x1="12.00" y1="0.60" x2="12.00" y2="3.00" stroke="#666" stroke-width="0.30"/><line x1="18.00" y1="0.60" x2="18.00" y2="3.00" stroke="#666" stroke-width="0.30"/><rect x="31.50" y="0.80" width="7.00" height="5.00" fill="#f8f6f0" stroke="#2b2620" stroke-width="0.50"/><rect x="31.50" y="6.60" width="7.00" height="5.00" fill="#f8f6f0" stroke="#2b2620" stroke-width="0.50"/><rect x="39.20" y="1.00" width="3.00" height="4.60" fill="#f8f6f0" stroke="#2b2620" stroke-width="0.80" rx="1.30"/><rect x="39.20" y="6.80" width="3.00" height="4.60" fill="#f8f6f0" stroke="#2b2620" stroke-width="0.80" rx="1.30"/><rect x="24.00" y="0.80" width="6.00" height="3.00" fill="#f8f6f0" stroke="#666" stroke-width="0.40"/><rect x="8.50" y="7.40" width="13.50" height="11.50" fill="#fbfaf6" stroke="#b8ae9c" stroke-width="0.40"/><rect x="8.50" y="3.60" width="13.50" height="3.80" fill="#efece4" stroke="#b8ae9c" stroke-width="0.30"/><rect x="5.50" y="3.60" width="2.60" height="2.80" fill="#f8f6f0"/><rect x="22.40" y="3.60" width="2.60" height="2.80" fill="#f8f6f0"/><rect x="30.00" y="13.80" width="12.30" height="22.20" fill="#d3bfa5" stroke="#2b2620" stroke-width="0.90"/><line x1="30.00" y1="13.80" x2="30.00" y2="36.00" stroke="#2b2620" stroke-width="1.30"/><rect x="35.50" y="15.00" width="5.80" height="6.50" fill="#f8f6f0" stroke="#777" stroke-width="0.30" rx="1.00"/><circle cx="36.50" cy="26.50" r="1.90" fill="#f8f6f0" stroke="#777" stroke-width="0.30"/><rect x="38.80" y="24.00" width="3.00" height="5.00" fill="#f8f6f0" stroke="#777" stroke-width="0.30" rx="1.00"/><rect x="36.00" y="30.50" width="5.50" height="4.50" fill="#f8f6f0" stroke="#777" stroke-width="0.30"/><line x1="0.50" y1="27.20" x2="20.00" y2="27.20" stroke="#2b2620" stroke-width="1.70"/><rect x="9.00" y="29.50" width="9.50" height="8.00" fill="#f8f6f0" stroke="#777" stroke-width="0.35" rx="2.50" transform="rotate(-12 13.7 33.5)"/><circle cx="18.50" cy="32.00" r="2.00" fill="#f8f6f0" stroke="#777" stroke-width="0.30"/><rect x="30.00" y="36.30" width="12.30" height="26.70" fill="#d3bfa5" stroke="#2b2620" stroke-width="0.80"/><rect x="36.50" y="38.00" width="5.00" height="6.00" fill="#f8f6f0" stroke="#777" stroke-width="0.30"/><circle cx="37.50" cy="46.50" r="1.60" fill="#f8f6f0" stroke="#777" stroke-width="0.30"/><rect x="37.00" y="49.50" width="4.50" height="5.00" fill="#f8f6f0" stroke="#777" stroke-width="0.30"/><path d="M31 54 A7 7 0 0 1 38 61" fill="none" stroke="#555" stroke-width="0.35"/><rect x="31.00" y="57.50" width="5.00" height="4.50" fill="#f8f6f0" stroke="#666" stroke-width="0.30"/><rect x="0.50" y="28.50" width="6.50" height="33.50" fill="#c0a889"/><line x1="7.20" y1="28.00" x2="7.20" y2="62.00" stroke="#2b2620" stroke-width="0.90"/><rect x="2.00" y="56.00" width="3.60" height="4.00" fill="#f8f6f0" stroke="#666" stroke-width="0.40"/><rect x="1.50" y="29.00" width="4.00" height="3.20" fill="#f8f6f0" stroke="#666" stroke-width="0.40"/><rect x="11.30" y="43.40" width="12.80" height="7.00" fill="#f8f6f0" stroke="#555" stroke-width="0.40" rx="1.20"/><rect x="12.30" y="44.20" width="10.80" height="2.60" fill="#d9d4c8" stroke="#444" stroke-width="0.30"/><line x1="17.70" y1="43.40" x2="17.70" y2="50.40" stroke="#888" stroke-width="0.30"/><rect x="13.40" y="51.80" width="9.80" height="5.60" fill="#fbfaf6" stroke="#666" stroke-width="0.40"/><rect x="15.20" y="53.00" width="6.20" height="3.20" fill="none" stroke="#999" stroke-width="0.30"/><rect x="0.00" y="61.80" width="31.00" height="2.20" fill="#2b2620"/><rect x="8.50" y="61.60" width="13.00" height="2.20" fill="#f8f6f0" stroke="#555" stroke-width="0.40"/><line x1="12.50" y1="61.60" x2="12.50" y2="63.80" stroke="#555" stroke-width="0.30"/><line x1="17.50" y1="61.60" x2="17.50" y2="63.80" stroke="#555" stroke-width="0.30"/><path d="M-3.3 5.8 Q1 5.8 1 3 V0 M-3.3 26.4 Q1 26.4 1 28.5" fill="none" stroke="#2b2620" stroke-width="1.0"/><rect x="0.00" y="0.00" width="43.00" height="64.00" fill="none" stroke="#2b2620" stroke-width="1.15"/></g>
<g transform="matrix(0.97674 0 0 1.02344 30.000 448.000)"><rect x="0.00" y="0.00" width="43.00" height="64.00" fill="#c8af8f"/><rect x="-7.50" y="5.50" width="8.00" height="21.50" fill="#f8f6f0" stroke="#8a8a88" stroke-width="0.45"/><rect x="-6.00" y="8.50" width="2.20" height="15.50" fill="none" stroke="#777" stroke-width="0.40"/><line x1="-7.50" y1="16.00" x2="-3.50" y2="16.00" stroke="#777" stroke-width="0.40"/><rect x="7.00" y="0.60" width="16.00" height="2.40" fill="#f8f6f0" stroke="#666" stroke-width="0.40"/><line x1="12.00" y1="0.60" x2="12.00" y2="3.00" stroke="#666" stroke-width="0.30"/><line x1="18.00" y1="0.60" x2="18.00" y2="3.00" stroke="#666" stroke-width="0.30"/><rect x="31.50" y="0.80" width="7.00" height="5.00" fill="#f8f6f0" stroke="#2b2620" stroke-width="0.50"/><rect x="31.50" y="6.60" width="7.00" height="5.00" fill="#f8f6f0" stroke="#2b2620" stroke-width="0.50"/><rect x="39.20" y="1.00" width="3.00" height="4.60" fill="#f8f6f0" stroke="#2b2620" stroke-width="0.80" rx="1.30"/><rect x="39.20" y="6.80" width="3.00" height="4.60" fill="#f8f6f0" stroke="#2b2620" stroke-width="0.80" rx="1.30"/><rect x="24.00" y="0.80" width="6.00" height="3.00" fill="#f8f6f0" stroke="#666" stroke-width="0.40"/><rect x="8.50" y="7.40" width="13.50" height="11.50" fill="#fbfaf6" stroke="#b8ae9c" stroke-width="0.40"/><rect x="8.50" y="3.60" width="13.50" height="3.80" fill="#efece4" stroke="#b8ae9c" stroke-width="0.30"/><rect x="5.50" y="3.60" width="2.60" height="2.80" fill="#f8f6f0"/><rect x="22.40" y="3.60" width="2.60" height="2.80" fill="#f8f6f0"/><rect x="30.00" y="13.80" width="12.30" height="22.20" fill="#d3bfa5" stroke="#2b2620" stroke-width="0.90"/><line x1="30.00" y1="13.80" x2="30.00" y2="36.00" stroke="#2b2620" stroke-width="1.30"/><rect x="35.50" y="15.00" width="5.80" height="6.50" fill="#f8f6f0" stroke="#777" stroke-width="0.30" rx="1.00"/><circle cx="36.50" cy="26.50" r="1.90" fill="#f8f6f0" stroke="#777" stroke-width="0.30"/><rect x="38.80" y="24.00" width="3.00" height="5.00" fill="#f8f6f0" stroke="#777" stroke-width="0.30" rx="1.00"/><rect x="36.00" y="30.50" width="5.50" height="4.50" fill="#f8f6f0" stroke="#777" stroke-width="0.30"/><line x1="0.50" y1="27.20" x2="20.00" y2="27.20" stroke="#2b2620" stroke-width="1.70"/><rect x="9.00" y="29.50" width="9.50" height="8.00" fill="#f8f6f0" stroke="#777" stroke-width="0.35" rx="2.50" transform="rotate(-12 13.7 33.5)"/><circle cx="18.50" cy="32.00" r="2.00" fill="#f8f6f0" stroke="#777" stroke-width="0.30"/><rect x="30.00" y="36.30" width="12.30" height="26.70" fill="#d3bfa5" stroke="#2b2620" stroke-width="0.80"/><rect x="36.50" y="38.00" width="5.00" height="6.00" fill="#f8f6f0" stroke="#777" stroke-width="0.30"/><circle cx="37.50" cy="46.50" r="1.60" fill="#f8f6f0" stroke="#777" stroke-width="0.30"/><rect x="37.00" y="49.50" width="4.50" height="5.00" fill="#f8f6f0" stroke="#777" stroke-width="0.30"/><path d="M31 54 A7 7 0 0 1 38 61" fill="none" stroke="#555" stroke-width="0.35"/><rect x="31.00" y="57.50" width="5.00" height="4.50" fill="#f8f6f0" stroke="#666" stroke-width="0.30"/><rect x="0.50" y="28.50" width="6.50" height="33.50" fill="#c0a889"/><line x1="7.20" y1="28.00" x2="7.20" y2="62.00" stroke="#2b2620" stroke-width="0.90"/><rect x="2.00" y="56.00" width="3.60" height="4.00" fill="#f8f6f0" stroke="#666" stroke-width="0.40"/><rect x="1.50" y="29.00" width="4.00" height="3.20" fill="#f8f6f0" stroke="#666" stroke-width="0.40"/><rect x="11.30" y="43.40" width="12.80" height="7.00" fill="#f8f6f0" stroke="#555" stroke-width="0.40" rx="1.20"/><rect x="12.30" y="44.20" width="10.80" height="2.60" fill="#d9d4c8" stroke="#444" stroke-width="0.30"/><line x1="17.70" y1="43.40" x2="17.70" y2="50.40" stroke="#888" stroke-width="0.30"/><rect x="13.40" y="51.80" width="9.80" height="5.60" fill="#fbfaf6" stroke="#666" stroke-width="0.40"/><rect x="15.20" y="53.00" width="6.20" height="3.20" fill="none" stroke="#999" stroke-width="0.30"/><rect x="0.00" y="61.80" width="31.00" height="2.20" fill="#2b2620"/><rect x="8.50" y="61.60" width="13.00" height="2.20" fill="#f8f6f0" stroke="#555" stroke-width="0.40"/><line x1="12.50" y1="61.60" x2="12.50" y2="63.80" stroke="#555" stroke-width="0.30"/><line x1="17.50" y1="61.60" x2="17.50" y2="63.80" stroke="#555" stroke-width="0.30"/><path d="M-3.3 5.8 Q1 5.8 1 3 V0 M-3.3 26.4 Q1 26.4 1 28.5" fill="none" stroke="#2b2620" stroke-width="1.0"/><rect x="0.00" y="0.00" width="43.00" height="64.00" fill="none" stroke="#2b2620" stroke-width="1.15"/></g>
<g transform="matrix(-0.99302 0 0 -1.00781 133.000 448.000)"><rect x="0.00" y="0.00" width="43.00" height="64.00" fill="#c8af8f"/><rect x="-7.50" y="5.50" width="8.00" height="21.50" fill="#f8f6f0" stroke="#8a8a88" stroke-width="0.45"/><rect x="-6.00" y="8.50" width="2.20" height="15.50" fill="none" stroke="#777" stroke-width="0.40"/><line x1="-7.50" y1="16.00" x2="-3.50" y2="16.00" stroke="#777" stroke-width="0.40"/><rect x="7.00" y="0.60" width="16.00" height="2.40" fill="#f8f6f0" stroke="#666" stroke-width="0.40"/><line x1="12.00" y1="0.60" x2="12.00" y2="3.00" stroke="#666" stroke-width="0.30"/><line x1="18.00" y1="0.60" x2="18.00" y2="3.00" stroke="#666" stroke-width="0.30"/><rect x="31.50" y="0.80" width="7.00" height="5.00" fill="#f8f6f0" stroke="#2b2620" stroke-width="0.50"/><rect x="31.50" y="6.60" width="7.00" height="5.00" fill="#f8f6f0" stroke="#2b2620" stroke-width="0.50"/><rect x="39.20" y="1.00" width="3.00" height="4.60" fill="#f8f6f0" stroke="#2b2620" stroke-width="0.80" rx="1.30"/><rect x="39.20" y="6.80" width="3.00" height="4.60" fill="#f8f6f0" stroke="#2b2620" stroke-width="0.80" rx="1.30"/><rect x="24.00" y="0.80" width="6.00" height="3.00" fill="#f8f6f0" stroke="#666" stroke-width="0.40"/><rect x="8.50" y="7.40" width="13.50" height="11.50" fill="#fbfaf6" stroke="#b8ae9c" stroke-width="0.40"/><rect x="8.50" y="3.60" width="13.50" height="3.80" fill="#efece4" stroke="#b8ae9c" stroke-width="0.30"/><rect x="5.50" y="3.60" width="2.60" height="2.80" fill="#f8f6f0"/><rect x="22.40" y="3.60" width="2.60" height="2.80" fill="#f8f6f0"/><rect x="30.00" y="13.80" width="12.30" height="22.20" fill="#d3bfa5" stroke="#2b2620" stroke-width="0.90"/><line x1="30.00" y1="13.80" x2="30.00" y2="36.00" stroke="#2b2620" stroke-width="1.30"/><rect x="35.50" y="15.00" width="5.80" height="6.50" fill="#f8f6f0" stroke="#777" stroke-width="0.30" rx="1.00"/><circle cx="36.50" cy="26.50" r="1.90" fill="#f8f6f0" stroke="#777" stroke-width="0.30"/><rect x="38.80" y="24.00" width="3.00" height="5.00" fill="#f8f6f0" stroke="#777" stroke-width="0.30" rx="1.00"/><rect x="36.00" y="30.50" width="5.50" height="4.50" fill="#f8f6f0" stroke="#777" stroke-width="0.30"/><line x1="0.50" y1="27.20" x2="20.00" y2="27.20" stroke="#2b2620" stroke-width="1.70"/><rect x="9.00" y="29.50" width="9.50" height="8.00" fill="#f8f6f0" stroke="#777" stroke-width="0.35" rx="2.50" transform="rotate(-12 13.7 33.5)"/><circle cx="18.50" cy="32.00" r="2.00" fill="#f8f6f0" stroke="#777" stroke-width="0.30"/><rect x="30.00" y="36.30" width="12.30" height="26.70" fill="#d3bfa5" stroke="#2b2620" stroke-width="0.80"/><rect x="36.50" y="38.00" width="5.00" height="6.00" fill="#f8f6f0" stroke="#777" stroke-width="0.30"/><circle cx="37.50" cy="46.50" r="1.60" fill="#f8f6f0" stroke="#777" stroke-width="0.30"/><rect x="37.00" y="49.50" width="4.50" height="5.00" fill="#f8f6f0" stroke="#777" stroke-width="0.30"/><path d="M31 54 A7 7 0 0 1 38 61" fill="none" stroke="#555" stroke-width="0.35"/><rect x="31.00" y="57.50" width="5.00" height="4.50" fill="#f8f6f0" stroke="#666" stroke-width="0.30"/><rect x="0.50" y="28.50" width="6.50" height="33.50" fill="#c0a889"/><line x1="7.20" y1="28.00" x2="7.20" y2="62.00" stroke="#2b2620" stroke-width="0.90"/><rect x="2.00" y="56.00" width="3.60" height="4.00" fill="#f8f6f0" stroke="#666" stroke-width="0.40"/><rect x="1.50" y="29.00" width="4.00" height="3.20" fill="#f8f6f0" stroke="#666" stroke-width="0.40"/><rect x="11.30" y="43.40" width="12.80" height="7.00" fill="#f8f6f0" stroke="#555" stroke-width="0.40" rx="1.20"/><rect x="12.30" y="44.20" width="10.80" height="2.60" fill="#d9d4c8" stroke="#444" stroke-width="0.30"/><line x1="17.70" y1="43.40" x2="17.70" y2="50.40" stroke="#888" stroke-width="0.30"/><rect x="13.40" y="51.80" width="9.80" height="5.60" fill="#fbfaf6" stroke="#666" stroke-width="0.40"/><rect x="15.20" y="53.00" width="6.20" height="3.20" fill="none" stroke="#999" stroke-width="0.30"/><rect x="0.00" y="61.80" width="31.00" height="2.20" fill="#2b2620"/><rect x="8.50" y="61.60" width="13.00" height="2.20" fill="#f8f6f0" stroke="#555" stroke-width="0.40"/><line x1="12.50" y1="61.60" x2="12.50" y2="63.80" stroke="#555" stroke-width="0.30"/><line x1="17.50" y1="61.60" x2="17.50" y2="63.80" stroke="#555" stroke-width="0.30"/><path d="M-3.3 5.8 Q1 5.8 1 3 V0 M-3.3 26.4 Q1 26.4 1 28.5" fill="none" stroke="#2b2620" stroke-width="1.0"/><rect x="0.00" y="0.00" width="43.00" height="64.00" fill="none" stroke="#2b2620" stroke-width="1.15"/></g>
<g transform="matrix(-0.99302 0 0 1.02344 133.000 448.000)"><rect x="0.00" y="0.00" width="43.00" height="64.00" fill="#c8af8f"/><rect x="-7.50" y="5.50" width="8.00" height="21.50" fill="#f8f6f0" stroke="#8a8a88" stroke-width="0.45"/><rect x="-6.00" y="8.50" width="2.20" height="15.50" fill="none" stroke="#777" stroke-width="0.40"/><line x1="-7.50" y1="16.00" x2="-3.50" y2="16.00" stroke="#777" stroke-width="0.40"/><rect x="7.00" y="0.60" width="16.00" height="2.40" fill="#f8f6f0" stroke="#666" stroke-width="0.40"/><line x1="12.00" y1="0.60" x2="12.00" y2="3.00" stroke="#666" stroke-width="0.30"/><line x1="18.00" y1="0.60" x2="18.00" y2="3.00" stroke="#666" stroke-width="0.30"/><rect x="31.50" y="0.80" width="7.00" height="5.00" fill="#f8f6f0" stroke="#2b2620" stroke-width="0.50"/><rect x="31.50" y="6.60" width="7.00" height="5.00" fill="#f8f6f0" stroke="#2b2620" stroke-width="0.50"/><rect x="39.20" y="1.00" width="3.00" height="4.60" fill="#f8f6f0" stroke="#2b2620" stroke-width="0.80" rx="1.30"/><rect x="39.20" y="6.80" width="3.00" height="4.60" fill="#f8f6f0" stroke="#2b2620" stroke-width="0.80" rx="1.30"/><rect x="24.00" y="0.80" width="6.00" height="3.00" fill="#f8f6f0" stroke="#666" stroke-width="0.40"/><rect x="8.50" y="7.40" width="13.50" height="11.50" fill="#fbfaf6" stroke="#b8ae9c" stroke-width="0.40"/><rect x="8.50" y="3.60" width="13.50" height="3.80" fill="#efece4" stroke="#b8ae9c" stroke-width="0.30"/><rect x="5.50" y="3.60" width="2.60" height="2.80" fill="#f8f6f0"/><rect x="22.40" y="3.60" width="2.60" height="2.80" fill="#f8f6f0"/><rect x="30.00" y="13.80" width="12.30" height="22.20" fill="#d3bfa5" stroke="#2b2620" stroke-width="0.90"/><line x1="30.00" y1="13.80" x2="30.00" y2="36.00" stroke="#2b2620" stroke-width="1.30"/><rect x="35.50" y="15.00" width="5.80" height="6.50" fill="#f8f6f0" stroke="#777" stroke-width="0.30" rx="1.00"/><circle cx="36.50" cy="26.50" r="1.90" fill="#f8f6f0" stroke="#777" stroke-width="0.30"/><rect x="38.80" y="24.00" width="3.00" height="5.00" fill="#f8f6f0" stroke="#777" stroke-width="0.30" rx="1.00"/><rect x="36.00" y="30.50" width="5.50" height="4.50" fill="#f8f6f0" stroke="#777" stroke-width="0.30"/><line x1="0.50" y1="27.20" x2="20.00" y2="27.20" stroke="#2b2620" stroke-width="1.70"/><rect x="9.00" y="29.50" width="9.50" height="8.00" fill="#f8f6f0" stroke="#777" stroke-width="0.35" rx="2.50" transform="rotate(-12 13.7 33.5)"/><circle cx="18.50" cy="32.00" r="2.00" fill="#f8f6f0" stroke="#777" stroke-width="0.30"/><rect x="30.00" y="36.30" width="12.30" height="26.70" fill="#d3bfa5" stroke="#2b2620" stroke-width="0.80"/><rect x="36.50" y="38.00" width="5.00" height="6.00" fill="#f8f6f0" stroke="#777" stroke-width="0.30"/><circle cx="37.50" cy="46.50" r="1.60" fill="#f8f6f0" stroke="#777" stroke-width="0.30"/><rect x="37.00" y="49.50" width="4.50" height="5.00" fill="#f8f6f0" stroke="#777" stroke-width="0.30"/><path d="M31 54 A7 7 0 0 1 38 61" fill="none" stroke="#555" stroke-width="0.35"/><rect x="31.00" y="57.50" width="5.00" height="4.50" fill="#f8f6f0" stroke="#666" stroke-width="0.30"/><rect x="0.50" y="28.50" width="6.50" height="33.50" fill="#c0a889"/><line x1="7.20" y1="28.00" x2="7.20" y2="62.00" stroke="#2b2620" stroke-width="0.90"/><rect x="2.00" y="56.00" width="3.60" height="4.00" fill="#f8f6f0" stroke="#666" stroke-width="0.40"/><rect x="1.50" y="29.00" width="4.00" height="3.20" fill="#f8f6f0" stroke="#666" stroke-width="0.40"/><rect x="11.30" y="43.40" width="12.80" height="7.00" fill="#f8f6f0" stroke="#555" stroke-width="0.40" rx="1.20"/><rect x="12.30" y="44.20" width="10.80" height="2.60" fill="#d9d4c8" stroke="#444" stroke-width="0.30"/><line x1="17.70" y1="43.40" x2="17.70" y2="50.40" stroke="#888" stroke-width="0.30"/><rect x="13.40" y="51.80" width="9.80" height="5.60" fill="#fbfaf6" stroke="#666" stroke-width="0.40"/><rect x="15.20" y="53.00" width="6.20" height="3.20" fill="none" stroke="#999" stroke-width="0.30"/><rect x="0.00" y="61.80" width="31.00" height="2.20" fill="#2b2620"/><rect x="8.50" y="61.60" width="13.00" height="2.20" fill="#f8f6f0" stroke="#555" stroke-width="0.40"/><line x1="12.50" y1="61.60" x2="12.50" y2="63.80" stroke="#555" stroke-width="0.30"/><line x1="17.50" y1="61.60" x2="17.50" y2="63.80" stroke="#555" stroke-width="0.30"/><path d="M-3.3 5.8 Q1 5.8 1 3 V0 M-3.3 26.4 Q1 26.4 1 28.5" fill="none" stroke="#2b2620" stroke-width="1.0"/><rect x="0.00" y="0.00" width="43.00" height="64.00" fill="none" stroke="#2b2620" stroke-width="1.15"/></g>
<rect x="31.00" y="382.40" width="49.00" height="2.00" fill="#f4f3ef" stroke="#555" stroke-width="0.40"/>
<rect x="290.40" y="83.00" width="101.00" height="45.00" fill="#afaeb2"/><rect x="384.80" y="84.00" width="6.20" height="41.00" fill="#a1a0a3"/><line x1="384.80" y1="84.00" x2="384.80" y2="125.00" stroke="#2b2620" stroke-width="0.80"/><rect x="295.00" y="89.40" width="13.80" height="15.20" fill="#fbfaf6" stroke="#aaa" stroke-width="0.40"/><rect x="295.00" y="89.40" width="3.00" height="15.20" fill="#efece4" stroke="#aaa" stroke-width="0.30"/><rect x="309.80" y="93.00" width="3.00" height="8.00" fill="#f8f6f0" stroke="#888" stroke-width="0.30" rx="1.50"/><rect x="292.00" y="86.00" width="2.60" height="3.00" fill="#f8f6f0"/><rect x="292.00" y="105.00" width="2.60" height="3.00" fill="#f8f6f0"/><rect x="320.80" y="84.60" width="3.40" height="16.00" fill="#f8f6f0" stroke="#777" stroke-width="0.40"/><line x1="325.60" y1="83.00" x2="325.60" y2="127.00" stroke="#2b2620" stroke-width="1.00"/><rect x="326.70" y="83.80" width="23.70" height="16.80" fill="none" stroke="#2b2620" stroke-width="0.90"/><rect x="332.00" y="87.80" width="12.00" height="8.80" fill="#fbfaf6" stroke="#aaa" stroke-width="0.40"/><rect x="332.00" y="87.80" width="2.60" height="8.80" fill="#efece4" stroke="#aaa" stroke-width="0.30"/><rect x="328.50" y="85.50" width="3.00" height="10.00" fill="#f8f6f0" stroke="#888" stroke-width="0.30"/><rect x="345.50" y="86.00" width="3.40" height="13.00" fill="#f8f6f0" stroke="#888" stroke-width="0.30"/><rect x="351.80" y="86.00" width="3.80" height="14.00" fill="#f8f6f0" stroke="#777" stroke-width="0.40"/><path d="M355 101.4 V84 H384" fill="none" stroke="#2b2620" stroke-width="0.8"/><line x1="355.00" y1="101.40" x2="372.00" y2="101.40" stroke="#2b2620" stroke-width="0.80"/><rect x="363.00" y="89.00" width="10.00" height="4.40" fill="#fbfaf6" stroke="#666" stroke-width="0.40"/><rect x="361.50" y="95.00" width="13.50" height="5.00" fill="#f8f6f0" stroke="#777" stroke-width="0.40" rx="1.20"/><rect x="357.00" y="86.00" width="4.00" height="10.00" fill="#f8f6f0" stroke="#888" stroke-width="0.30"/><circle cx="378.30" cy="89.50" r="2.20" fill="#f8f6f0" stroke="#777" stroke-width="0.30"/><circle cx="380.00" cy="94.00" r="1.60" fill="#f8f6f0" stroke="#777" stroke-width="0.30"/><circle cx="366.00" cy="107.00" r="2.60" fill="#fbfaf6" stroke="#888" stroke-width="0.30"/><circle cx="373.00" cy="107.00" r="2.60" fill="#fbfaf6" stroke="#888" stroke-width="0.30"/><circle cx="366.00" cy="114.50" r="2.60" fill="#fbfaf6" stroke="#888" stroke-width="0.30"/><circle cx="373.00" cy="114.50" r="2.60" fill="#fbfaf6" stroke="#888" stroke-width="0.30"/><line x1="290.40" y1="110.00" x2="326.00" y2="110.00" stroke="#2b2620" stroke-width="0.90"/><rect x="301.60" y="111.00" width="24.50" height="15.50" fill="none" stroke="#2b2620" stroke-width="0.90"/><rect x="304.80" y="113.40" width="7.20" height="11.20" fill="#fbfaf6" stroke="#666" stroke-width="0.40" rx="1.50"/><rect x="292.00" y="112.00" width="4.00" height="10.00" fill="#f8f6f0" stroke="#777" stroke-width="0.30"/><rect x="292.00" y="123.00" width="9.00" height="3.00" fill="#f8f6f0" stroke="#2b2620" stroke-width="0.40"/><rect x="315.00" y="122.00" width="3.00" height="3.00" fill="#f8f6f0" stroke="#777" stroke-width="0.30" rx="1.50"/><rect x="319.00" y="121.00" width="6.00" height="4.50" fill="#f8f6f0" stroke="#777" stroke-width="0.30"/><rect x="350.40" y="115.80" width="6.40" height="8.80" fill="#f8f6f0" stroke="#888" stroke-width="0.30"/><rect x="357.00" y="121.00" width="9.00" height="4.00" fill="#f8f6f0" stroke="#777" stroke-width="0.30"/><rect x="364.00" y="121.00" width="3.00" height="3.00" fill="#222"/><rect x="370.00" y="121.00" width="14.50" height="4.00" fill="#f8f6f0" stroke="#666" stroke-width="0.40"/><line x1="377.00" y1="121.00" x2="377.00" y2="125.00" stroke="#666" stroke-width="0.30"/><path d="M337 127 V118 A7 7 0 0 1 344 125" fill="none" stroke="#444" stroke-width="0.4"/><rect x="302.40" y="81.20" width="20.80" height="2.60" fill="#f8f6f0" stroke="#666" stroke-width="0.40"/><rect x="338.40" y="81.20" width="10.40" height="2.60" fill="#f8f6f0" stroke="#666" stroke-width="0.40"/><rect x="370.40" y="81.20" width="9.60" height="2.60" fill="#f8f6f0" stroke="#666" stroke-width="0.40"/><rect x="290.40" y="83.00" width="101.00" height="45.00" fill="none" stroke="#2b2620" stroke-width="1.10"/><rect x="292.00" y="125.50" width="22.00" height="2.50" fill="#f8f6f0" stroke="#2b2620" stroke-width="0.40"/><rect x="366.00" y="125.50" width="20.00" height="2.50" fill="#f8f6f0" stroke="#2b2620" stroke-width="0.40"/>
<g transform="matrix(1.00000 0 0 1.00000 291.000 128.000)"><rect x="0.00" y="0.00" width="43.00" height="63.00" fill="#8c805d"/><rect x="-6.00" y="5.00" width="6.50" height="22.00" fill="#f8f6f0" stroke="#8a8a88" stroke-width="0.45"/><rect x="-4.50" y="8.00" width="2.20" height="16.00" fill="none" stroke="#777" stroke-width="0.40"/><line x1="-6.00" y1="16.00" x2="-2.00" y2="16.00" stroke="#777" stroke-width="0.40"/><rect x="2.00" y="0.80" width="19.00" height="3.20" fill="#f8f6f0" stroke="#666" stroke-width="0.40"/><rect x="23.00" y="0.80" width="18.50" height="3.60" fill="#f8f6f0" stroke="#2b2620" stroke-width="0.50"/><line x1="26.10" y1="0.80" x2="26.10" y2="4.40" stroke="#444" stroke-width="0.40"/><line x1="29.20" y1="0.80" x2="29.20" y2="4.40" stroke="#444" stroke-width="0.40"/><line x1="32.30" y1="0.80" x2="32.30" y2="4.40" stroke="#444" stroke-width="0.40"/><line x1="35.40" y1="0.80" x2="35.40" y2="4.40" stroke="#444" stroke-width="0.40"/><line x1="38.50" y1="0.80" x2="38.50" y2="4.40" stroke="#444" stroke-width="0.40"/><rect x="5.00" y="5.50" width="12.50" height="13.00" fill="#fbfaf6" stroke="#b8ae9c" stroke-width="0.40"/><rect x="5.00" y="5.50" width="12.50" height="3.00" fill="#efece4" stroke="#b8ae9c" stroke-width="0.30"/><rect x="2.50" y="6.00" width="2.20" height="2.50" fill="#f8f6f0"/><rect x="17.80" y="6.00" width="2.20" height="2.50" fill="#f8f6f0"/><rect x="22.00" y="11.50" width="20.00" height="15.50" fill="#948868" stroke="#2b2620" stroke-width="0.90" rx="1.20"/><rect x="23.50" y="13.00" width="5.00" height="12.30" fill="#f8f6f0" stroke="#777" stroke-width="0.40" rx="1.50"/><circle cx="26.00" cy="16.00" r="1.50" fill="#fff" stroke="#777" stroke-width="0.30"/><rect x="34.50" y="13.00" width="6.30" height="12.30" fill="#fbfaf6" stroke="#666" stroke-width="0.40" rx="1.00"/><line x1="31.50" y1="12.00" x2="31.50" y2="26.00" stroke="#2b2620" stroke-width="0.60"/><rect x="36.50" y="6.00" width="5.50" height="4.00" fill="#f8f6f0" stroke="#2b2620" stroke-width="0.50"/><rect x="36.00" y="28.00" width="6.00" height="3.60" fill="#f8f6f0" stroke="#2b2620" stroke-width="0.50"/><line x1="0.00" y1="27.50" x2="9.00" y2="27.50" stroke="#2b2620" stroke-width="1.40"/><rect x="1.00" y="25.50" width="6.00" height="5.00" fill="#f8f6f0" stroke="#2b2620" stroke-width="0.50"/><rect x="0.50" y="31.50" width="6.50" height="26.50" fill="#7e7353"/><line x1="7.20" y1="31.00" x2="7.20" y2="58.00" stroke="#2b2620" stroke-width="0.90"/><rect x="13.50" y="34.50" width="5.50" height="6.00" fill="#f8f6f0" stroke="#777" stroke-width="0.30" rx="2.00"/><rect x="20.50" y="34.50" width="5.50" height="6.00" fill="#f8f6f0" stroke="#777" stroke-width="0.30" rx="2.00"/><rect x="16.50" y="36.00" width="6.00" height="4.00" fill="#fff" stroke="#999" stroke-width="0.30" rx="1.00"/><rect x="13.50" y="42.00" width="12.50" height="6.00" fill="#f8f6f0" stroke="#666" stroke-width="0.40" rx="1.20"/><line x1="13.50" y1="44.50" x2="26.00" y2="44.50" stroke="#888" stroke-width="0.30"/><rect x="14.50" y="51.00" width="10.50" height="5.20" fill="#fbfaf6" stroke="#666" stroke-width="0.40"/><rect x="16.50" y="52.30" width="6.50" height="2.60" fill="none" stroke="#999" stroke-width="0.30"/><rect x="34.50" y="38.50" width="7.50" height="20.00" fill="#948868" stroke="#2b2620" stroke-width="0.50"/><rect x="35.50" y="40.00" width="5.50" height="7.00" fill="#f8f6f0" stroke="#777" stroke-width="0.30"/><rect x="35.50" y="49.00" width="5.50" height="8.00" fill="#f8f6f0" stroke="#777" stroke-width="0.30"/><circle cx="38.20" cy="53.00" r="1.50" fill="#fff" stroke="#777" stroke-width="0.30"/><path d="M34 31.5 A7 7 0 0 0 27 38.5" fill="none" stroke="#555" stroke-width="0.35"/><line x1="32.00" y1="31.50" x2="32.00" y2="38.50" stroke="#2b2620" stroke-width="0.60"/><rect x="0.00" y="60.80" width="43.00" height="2.20" fill="#2b2620"/><rect x="9.50" y="60.60" width="15.50" height="2.20" fill="#f8f6f0" stroke="#555" stroke-width="0.40"/><line x1="14.50" y1="60.60" x2="14.50" y2="62.80" stroke="#555" stroke-width="0.30"/><line x1="20.00" y1="60.60" x2="20.00" y2="62.80" stroke="#555" stroke-width="0.30"/><rect x="1.00" y="56.50" width="5.00" height="4.00" fill="#f8f6f0" stroke="#2b2620" stroke-width="0.50"/><rect x="36.50" y="58.50" width="5.50" height="3.50" fill="#f8f6f0" stroke="#2b2620" stroke-width="0.50"/><rect x="27.50" y="58.50" width="6.00" height="3.50" fill="#f8f6f0" stroke="#2b2620" stroke-width="0.50"/><path d="M-3.3 5.8 Q1 5.8 1 3 V0 M-3.3 26.4 Q1 26.4 1 28.5" fill="none" stroke="#2b2620" stroke-width="1.0"/><rect x="0.00" y="0.00" width="43.00" height="63.00" fill="none" stroke="#2b2620" stroke-width="1.15"/></g>
<g transform="matrix(-1.00000 0 0 0.98438 392.000 128.000)"><rect x="0.00" y="0.00" width="43.00" height="64.00" fill="#c6ae90"/><rect x="-7.50" y="5.50" width="8.00" height="21.50" fill="#f8f6f0" stroke="#8a8a88" stroke-width="0.45"/><rect x="-6.00" y="8.50" width="2.20" height="15.50" fill="none" stroke="#777" stroke-width="0.40"/><line x1="-7.50" y1="16.00" x2="-3.50" y2="16.00" stroke="#777" stroke-width="0.40"/><rect x="7.00" y="0.60" width="16.00" height="2.40" fill="#f8f6f0" stroke="#666" stroke-width="0.40"/><line x1="12.00" y1="0.60" x2="12.00" y2="3.00" stroke="#666" stroke-width="0.30"/><line x1="18.00" y1="0.60" x2="18.00" y2="3.00" stroke="#666" stroke-width="0.30"/><rect x="31.50" y="0.80" width="7.00" height="5.00" fill="#f8f6f0" stroke="#2b2620" stroke-width="0.50"/><rect x="31.50" y="6.60" width="7.00" height="5.00" fill="#f8f6f0" stroke="#2b2620" stroke-width="0.50"/><rect x="39.20" y="1.00" width="3.00" height="4.60" fill="#f8f6f0" stroke="#2b2620" stroke-width="0.80" rx="1.30"/><rect x="39.20" y="6.80" width="3.00" height="4.60" fill="#f8f6f0" stroke="#2b2620" stroke-width="0.80" rx="1.30"/><rect x="24.00" y="0.80" width="6.00" height="3.00" fill="#f8f6f0" stroke="#666" stroke-width="0.40"/><rect x="8.50" y="7.40" width="13.50" height="11.50" fill="#fbfaf6" stroke="#b8ae9c" stroke-width="0.40"/><rect x="8.50" y="3.60" width="13.50" height="3.80" fill="#efece4" stroke="#b8ae9c" stroke-width="0.30"/><rect x="5.50" y="3.60" width="2.60" height="2.80" fill="#f8f6f0"/><rect x="22.40" y="3.60" width="2.60" height="2.80" fill="#f8f6f0"/><rect x="30.00" y="13.80" width="12.30" height="22.20" fill="#d1bea6" stroke="#2b2620" stroke-width="0.90"/><line x1="30.00" y1="13.80" x2="30.00" y2="36.00" stroke="#2b2620" stroke-width="1.30"/><rect x="35.50" y="15.00" width="5.80" height="6.50" fill="#f8f6f0" stroke="#777" stroke-width="0.30" rx="1.00"/><circle cx="36.50" cy="26.50" r="1.90" fill="#f8f6f0" stroke="#777" stroke-width="0.30"/><rect x="38.80" y="24.00" width="3.00" height="5.00" fill="#f8f6f0" stroke="#777" stroke-width="0.30" rx="1.00"/><rect x="36.00" y="30.50" width="5.50" height="4.50" fill="#f8f6f0" stroke="#777" stroke-width="0.30"/><line x1="0.50" y1="27.20" x2="20.00" y2="27.20" stroke="#2b2620" stroke-width="1.70"/><rect x="9.00" y="29.50" width="9.50" height="8.00" fill="#f8f6f0" stroke="#777" stroke-width="0.35" rx="2.50" transform="rotate(-12 13.7 33.5)"/><circle cx="18.50" cy="32.00" r="2.00" fill="#f8f6f0" stroke="#777" stroke-width="0.30"/><rect x="30.00" y="36.30" width="12.30" height="26.70" fill="#d1bea6" stroke="#2b2620" stroke-width="0.80"/><rect x="36.50" y="38.00" width="5.00" height="6.00" fill="#f8f6f0" stroke="#777" stroke-width="0.30"/><circle cx="37.50" cy="46.50" r="1.60" fill="#f8f6f0" stroke="#777" stroke-width="0.30"/><rect x="37.00" y="49.50" width="4.50" height="5.00" fill="#f8f6f0" stroke="#777" stroke-width="0.30"/><path d="M31 54 A7 7 0 0 1 38 61" fill="none" stroke="#555" stroke-width="0.35"/><rect x="31.00" y="57.50" width="5.00" height="4.50" fill="#f8f6f0" stroke="#666" stroke-width="0.30"/><rect x="0.50" y="28.50" width="6.50" height="33.50" fill="#bea78a"/><line x1="7.20" y1="28.00" x2="7.20" y2="62.00" stroke="#2b2620" stroke-width="0.90"/><rect x="2.00" y="56.00" width="3.60" height="4.00" fill="#f8f6f0" stroke="#666" stroke-width="0.40"/><rect x="1.50" y="29.00" width="4.00" height="3.20" fill="#f8f6f0" stroke="#666" stroke-width="0.40"/><rect x="11.30" y="43.40" width="12.80" height="7.00" fill="#f8f6f0" stroke="#555" stroke-width="0.40" rx="1.20"/><rect x="12.30" y="44.20" width="10.80" height="2.60" fill="#d9d4c8" stroke="#444" stroke-width="0.30"/><line x1="17.70" y1="43.40" x2="17.70" y2="50.40" stroke="#888" stroke-width="0.30"/><rect x="13.40" y="51.80" width="9.80" height="5.60" fill="#fbfaf6" stroke="#666" stroke-width="0.40"/><rect x="15.20" y="53.00" width="6.20" height="3.20" fill="none" stroke="#999" stroke-width="0.30"/><rect x="0.00" y="61.80" width="31.00" height="2.20" fill="#2b2620"/><rect x="8.50" y="61.60" width="13.00" height="2.20" fill="#f8f6f0" stroke="#555" stroke-width="0.40"/><line x1="12.50" y1="61.60" x2="12.50" y2="63.80" stroke="#555" stroke-width="0.30"/><line x1="17.50" y1="61.60" x2="17.50" y2="63.80" stroke="#555" stroke-width="0.30"/><path d="M-3.3 5.8 Q1 5.8 1 3 V0 M-3.3 26.4 Q1 26.4 1 28.5" fill="none" stroke="#2b2620" stroke-width="1.0"/><rect x="0.00" y="0.00" width="43.00" height="64.00" fill="none" stroke="#2b2620" stroke-width="1.15"/></g>
<g transform="matrix(1.00000 0 0 -0.98438 291.000 254.000)"><rect x="0.00" y="0.00" width="43.00" height="64.00" fill="#c7af90"/><rect x="-7.50" y="5.50" width="8.00" height="21.50" fill="#f8f6f0" stroke="#8a8a88" stroke-width="0.45"/><rect x="-6.00" y="8.50" width="2.20" height="15.50" fill="none" stroke="#777" stroke-width="0.40"/><line x1="-7.50" y1="16.00" x2="-3.50" y2="16.00" stroke="#777" stroke-width="0.40"/><rect x="7.00" y="0.60" width="16.00" height="2.40" fill="#f8f6f0" stroke="#666" stroke-width="0.40"/><line x1="12.00" y1="0.60" x2="12.00" y2="3.00" stroke="#666" stroke-width="0.30"/><line x1="18.00" y1="0.60" x2="18.00" y2="3.00" stroke="#666" stroke-width="0.30"/><rect x="31.50" y="0.80" width="7.00" height="5.00" fill="#f8f6f0" stroke="#2b2620" stroke-width="0.50"/><rect x="31.50" y="6.60" width="7.00" height="5.00" fill="#f8f6f0" stroke="#2b2620" stroke-width="0.50"/><rect x="39.20" y="1.00" width="3.00" height="4.60" fill="#f8f6f0" stroke="#2b2620" stroke-width="0.80" rx="1.30"/><rect x="39.20" y="6.80" width="3.00" height="4.60" fill="#f8f6f0" stroke="#2b2620" stroke-width="0.80" rx="1.30"/><rect x="24.00" y="0.80" width="6.00" height="3.00" fill="#f8f6f0" stroke="#666" stroke-width="0.40"/><rect x="8.50" y="7.40" width="13.50" height="11.50" fill="#fbfaf6" stroke="#b8ae9c" stroke-width="0.40"/><rect x="8.50" y="3.60" width="13.50" height="3.80" fill="#efece4" stroke="#b8ae9c" stroke-width="0.30"/><rect x="5.50" y="3.60" width="2.60" height="2.80" fill="#f8f6f0"/><rect x="22.40" y="3.60" width="2.60" height="2.80" fill="#f8f6f0"/><rect x="30.00" y="13.80" width="12.30" height="22.20" fill="#d2bfa6" stroke="#2b2620" stroke-width="0.90"/><line x1="30.00" y1="13.80" x2="30.00" y2="36.00" stroke="#2b2620" stroke-width="1.30"/><rect x="35.50" y="15.00" width="5.80" height="6.50" fill="#f8f6f0" stroke="#777" stroke-width="0.30" rx="1.00"/><circle cx="36.50" cy="26.50" r="1.90" fill="#f8f6f0" stroke="#777" stroke-width="0.30"/><rect x="38.80" y="24.00" width="3.00" height="5.00" fill="#f8f6f0" stroke="#777" stroke-width="0.30" rx="1.00"/><rect x="36.00" y="30.50" width="5.50" height="4.50" fill="#f8f6f0" stroke="#777" stroke-width="0.30"/><line x1="0.50" y1="27.20" x2="20.00" y2="27.20" stroke="#2b2620" stroke-width="1.70"/><rect x="9.00" y="29.50" width="9.50" height="8.00" fill="#f8f6f0" stroke="#777" stroke-width="0.35" rx="2.50" transform="rotate(-12 13.7 33.5)"/><circle cx="18.50" cy="32.00" r="2.00" fill="#f8f6f0" stroke="#777" stroke-width="0.30"/><rect x="30.00" y="36.30" width="12.30" height="26.70" fill="#d2bfa6" stroke="#2b2620" stroke-width="0.80"/><rect x="36.50" y="38.00" width="5.00" height="6.00" fill="#f8f6f0" stroke="#777" stroke-width="0.30"/><circle cx="37.50" cy="46.50" r="1.60" fill="#f8f6f0" stroke="#777" stroke-width="0.30"/><rect x="37.00" y="49.50" width="4.50" height="5.00" fill="#f8f6f0" stroke="#777" stroke-width="0.30"/><path d="M31 54 A7 7 0 0 1 38 61" fill="none" stroke="#555" stroke-width="0.35"/><rect x="31.00" y="57.50" width="5.00" height="4.50" fill="#f8f6f0" stroke="#666" stroke-width="0.30"/><rect x="0.50" y="28.50" width="6.50" height="33.50" fill="#bfa88a"/><line x1="7.20" y1="28.00" x2="7.20" y2="62.00" stroke="#2b2620" stroke-width="0.90"/><rect x="2.00" y="56.00" width="3.60" height="4.00" fill="#f8f6f0" stroke="#666" stroke-width="0.40"/><rect x="1.50" y="29.00" width="4.00" height="3.20" fill="#f8f6f0" stroke="#666" stroke-width="0.40"/><rect x="11.30" y="43.40" width="12.80" height="7.00" fill="#f8f6f0" stroke="#555" stroke-width="0.40" rx="1.20"/><rect x="12.30" y="44.20" width="10.80" height="2.60" fill="#d9d4c8" stroke="#444" stroke-width="0.30"/><line x1="17.70" y1="43.40" x2="17.70" y2="50.40" stroke="#888" stroke-width="0.30"/><rect x="13.40" y="51.80" width="9.80" height="5.60" fill="#fbfaf6" stroke="#666" stroke-width="0.40"/><rect x="15.20" y="53.00" width="6.20" height="3.20" fill="none" stroke="#999" stroke-width="0.30"/><rect x="0.00" y="61.80" width="31.00" height="2.20" fill="#2b2620"/><rect x="8.50" y="61.60" width="13.00" height="2.20" fill="#f8f6f0" stroke="#555" stroke-width="0.40"/><line x1="12.50" y1="61.60" x2="12.50" y2="63.80" stroke="#555" stroke-width="0.30"/><line x1="17.50" y1="61.60" x2="17.50" y2="63.80" stroke="#555" stroke-width="0.30"/><path d="M-3.3 5.8 Q1 5.8 1 3 V0 M-3.3 26.4 Q1 26.4 1 28.5" fill="none" stroke="#2b2620" stroke-width="1.0"/><rect x="0.00" y="0.00" width="43.00" height="64.00" fill="none" stroke="#2b2620" stroke-width="1.15"/></g>
<g transform="matrix(-1.00000 0 0 -1.00000 392.000 254.000)"><rect x="0.00" y="0.00" width="43.00" height="63.00" fill="#8c7f5e"/><rect x="-6.00" y="5.00" width="6.50" height="22.00" fill="#f8f6f0" stroke="#8a8a88" stroke-width="0.45"/><rect x="-4.50" y="8.00" width="2.20" height="16.00" fill="none" stroke="#777" stroke-width="0.40"/><line x1="-6.00" y1="16.00" x2="-2.00" y2="16.00" stroke="#777" stroke-width="0.40"/><rect x="2.00" y="0.80" width="19.00" height="3.20" fill="#f8f6f0" stroke="#666" stroke-width="0.40"/><rect x="23.00" y="0.80" width="18.50" height="3.60" fill="#f8f6f0" stroke="#2b2620" stroke-width="0.50"/><line x1="26.10" y1="0.80" x2="26.10" y2="4.40" stroke="#444" stroke-width="0.40"/><line x1="29.20" y1="0.80" x2="29.20" y2="4.40" stroke="#444" stroke-width="0.40"/><line x1="32.30" y1="0.80" x2="32.30" y2="4.40" stroke="#444" stroke-width="0.40"/><line x1="35.40" y1="0.80" x2="35.40" y2="4.40" stroke="#444" stroke-width="0.40"/><line x1="38.50" y1="0.80" x2="38.50" y2="4.40" stroke="#444" stroke-width="0.40"/><rect x="5.00" y="5.50" width="12.50" height="13.00" fill="#fbfaf6" stroke="#b8ae9c" stroke-width="0.40"/><rect x="5.00" y="5.50" width="12.50" height="3.00" fill="#efece4" stroke="#b8ae9c" stroke-width="0.30"/><rect x="2.50" y="6.00" width="2.20" height="2.50" fill="#f8f6f0"/><rect x="17.80" y="6.00" width="2.20" height="2.50" fill="#f8f6f0"/><rect x="22.00" y="11.50" width="20.00" height="15.50" fill="#948769" stroke="#2b2620" stroke-width="0.90" rx="1.20"/><rect x="23.50" y="13.00" width="5.00" height="12.30" fill="#f8f6f0" stroke="#777" stroke-width="0.40" rx="1.50"/><circle cx="26.00" cy="16.00" r="1.50" fill="#fff" stroke="#777" stroke-width="0.30"/><rect x="34.50" y="13.00" width="6.30" height="12.30" fill="#fbfaf6" stroke="#666" stroke-width="0.40" rx="1.00"/><line x1="31.50" y1="12.00" x2="31.50" y2="26.00" stroke="#2b2620" stroke-width="0.60"/><rect x="36.50" y="6.00" width="5.50" height="4.00" fill="#f8f6f0" stroke="#2b2620" stroke-width="0.50"/><rect x="36.00" y="28.00" width="6.00" height="3.60" fill="#f8f6f0" stroke="#2b2620" stroke-width="0.50"/><line x1="0.00" y1="27.50" x2="9.00" y2="27.50" stroke="#2b2620" stroke-width="1.40"/><rect x="1.00" y="25.50" width="6.00" height="5.00" fill="#f8f6f0" stroke="#2b2620" stroke-width="0.50"/><rect x="0.50" y="31.50" width="6.50" height="26.50" fill="#7e7254"/><line x1="7.20" y1="31.00" x2="7.20" y2="58.00" stroke="#2b2620" stroke-width="0.90"/><rect x="13.50" y="34.50" width="5.50" height="6.00" fill="#f8f6f0" stroke="#777" stroke-width="0.30" rx="2.00"/><rect x="20.50" y="34.50" width="5.50" height="6.00" fill="#f8f6f0" stroke="#777" stroke-width="0.30" rx="2.00"/><rect x="16.50" y="36.00" width="6.00" height="4.00" fill="#fff" stroke="#999" stroke-width="0.30" rx="1.00"/><rect x="13.50" y="42.00" width="12.50" height="6.00" fill="#f8f6f0" stroke="#666" stroke-width="0.40" rx="1.20"/><line x1="13.50" y1="44.50" x2="26.00" y2="44.50" stroke="#888" stroke-width="0.30"/><rect x="14.50" y="51.00" width="10.50" height="5.20" fill="#fbfaf6" stroke="#666" stroke-width="0.40"/><rect x="16.50" y="52.30" width="6.50" height="2.60" fill="none" stroke="#999" stroke-width="0.30"/><rect x="34.50" y="38.50" width="7.50" height="20.00" fill="#948769" stroke="#2b2620" stroke-width="0.50"/><rect x="35.50" y="40.00" width="5.50" height="7.00" fill="#f8f6f0" stroke="#777" stroke-width="0.30"/><rect x="35.50" y="49.00" width="5.50" height="8.00" fill="#f8f6f0" stroke="#777" stroke-width="0.30"/><circle cx="38.20" cy="53.00" r="1.50" fill="#fff" stroke="#777" stroke-width="0.30"/><path d="M34 31.5 A7 7 0 0 0 27 38.5" fill="none" stroke="#555" stroke-width="0.35"/><line x1="32.00" y1="31.50" x2="32.00" y2="38.50" stroke="#2b2620" stroke-width="0.60"/><rect x="0.00" y="60.80" width="43.00" height="2.20" fill="#2b2620"/><rect x="9.50" y="60.60" width="15.50" height="2.20" fill="#f8f6f0" stroke="#555" stroke-width="0.40"/><line x1="14.50" y1="60.60" x2="14.50" y2="62.80" stroke="#555" stroke-width="0.30"/><line x1="20.00" y1="60.60" x2="20.00" y2="62.80" stroke="#555" stroke-width="0.30"/><rect x="1.00" y="56.50" width="5.00" height="4.00" fill="#f8f6f0" stroke="#2b2620" stroke-width="0.50"/><rect x="36.50" y="58.50" width="5.50" height="3.50" fill="#f8f6f0" stroke="#2b2620" stroke-width="0.50"/><rect x="27.50" y="58.50" width="6.00" height="3.50" fill="#f8f6f0" stroke="#2b2620" stroke-width="0.50"/><path d="M-3.3 5.8 Q1 5.8 1 3 V0 M-3.3 26.4 Q1 26.4 1 28.5" fill="none" stroke="#2b2620" stroke-width="1.0"/><rect x="0.00" y="0.00" width="43.00" height="63.00" fill="none" stroke="#2b2620" stroke-width="1.15"/></g>
<g transform="matrix(1.00000 0 0 -1.05556 291.000 320.500)"><rect x="0.00" y="0.00" width="43.00" height="63.00" fill="#a48e4a"/><rect x="-6.00" y="5.00" width="6.50" height="22.00" fill="#f8f6f0" stroke="#8a8a88" stroke-width="0.45"/><rect x="-4.50" y="8.00" width="2.20" height="16.00" fill="none" stroke="#777" stroke-width="0.40"/><line x1="-6.00" y1="16.00" x2="-2.00" y2="16.00" stroke="#777" stroke-width="0.40"/><rect x="2.00" y="0.80" width="19.00" height="3.20" fill="#f8f6f0" stroke="#666" stroke-width="0.40"/><rect x="23.00" y="0.80" width="18.50" height="3.60" fill="#f8f6f0" stroke="#2b2620" stroke-width="0.50"/><line x1="26.10" y1="0.80" x2="26.10" y2="4.40" stroke="#444" stroke-width="0.40"/><line x1="29.20" y1="0.80" x2="29.20" y2="4.40" stroke="#444" stroke-width="0.40"/><line x1="32.30" y1="0.80" x2="32.30" y2="4.40" stroke="#444" stroke-width="0.40"/><line x1="35.40" y1="0.80" x2="35.40" y2="4.40" stroke="#444" stroke-width="0.40"/><line x1="38.50" y1="0.80" x2="38.50" y2="4.40" stroke="#444" stroke-width="0.40"/><rect x="5.00" y="5.50" width="12.50" height="13.00" fill="#fbfaf6" stroke="#b8ae9c" stroke-width="0.40"/><rect x="5.00" y="5.50" width="12.50" height="3.00" fill="#efece4" stroke="#b8ae9c" stroke-width="0.30"/><rect x="2.50" y="6.00" width="2.20" height="2.50" fill="#f8f6f0"/><rect x="17.80" y="6.00" width="2.20" height="2.50" fill="#f8f6f0"/><rect x="22.00" y="11.50" width="20.00" height="15.50" fill="#aa9556" stroke="#2b2620" stroke-width="0.90" rx="1.20"/><rect x="23.50" y="13.00" width="5.00" height="12.30" fill="#f8f6f0" stroke="#777" stroke-width="0.40" rx="1.50"/><circle cx="26.00" cy="16.00" r="1.50" fill="#fff" stroke="#777" stroke-width="0.30"/><rect x="34.50" y="13.00" width="6.30" height="12.30" fill="#fbfaf6" stroke="#666" stroke-width="0.40" rx="1.00"/><line x1="31.50" y1="12.00" x2="31.50" y2="26.00" stroke="#2b2620" stroke-width="0.60"/><rect x="36.50" y="6.00" width="5.50" height="4.00" fill="#f8f6f0" stroke="#2b2620" stroke-width="0.50"/><rect x="36.00" y="28.00" width="6.00" height="3.60" fill="#f8f6f0" stroke="#2b2620" stroke-width="0.50"/><line x1="0.00" y1="27.50" x2="9.00" y2="27.50" stroke="#2b2620" stroke-width="1.40"/><rect x="1.00" y="25.50" width="6.00" height="5.00" fill="#f8f6f0" stroke="#2b2620" stroke-width="0.50"/><rect x="0.50" y="31.50" width="6.50" height="26.50" fill="#937f42"/><line x1="7.20" y1="31.00" x2="7.20" y2="58.00" stroke="#2b2620" stroke-width="0.90"/><rect x="13.50" y="34.50" width="5.50" height="6.00" fill="#f8f6f0" stroke="#777" stroke-width="0.30" rx="2.00"/><rect x="20.50" y="34.50" width="5.50" height="6.00" fill="#f8f6f0" stroke="#777" stroke-width="0.30" rx="2.00"/><rect x="16.50" y="36.00" width="6.00" height="4.00" fill="#fff" stroke="#999" stroke-width="0.30" rx="1.00"/><rect x="13.50" y="42.00" width="12.50" height="6.00" fill="#f8f6f0" stroke="#666" stroke-width="0.40" rx="1.20"/><line x1="13.50" y1="44.50" x2="26.00" y2="44.50" stroke="#888" stroke-width="0.30"/><rect x="14.50" y="51.00" width="10.50" height="5.20" fill="#fbfaf6" stroke="#666" stroke-width="0.40"/><rect x="16.50" y="52.30" width="6.50" height="2.60" fill="none" stroke="#999" stroke-width="0.30"/><rect x="34.50" y="38.50" width="7.50" height="20.00" fill="#aa9556" stroke="#2b2620" stroke-width="0.50"/><rect x="35.50" y="40.00" width="5.50" height="7.00" fill="#f8f6f0" stroke="#777" stroke-width="0.30"/><rect x="35.50" y="49.00" width="5.50" height="8.00" fill="#f8f6f0" stroke="#777" stroke-width="0.30"/><circle cx="38.20" cy="53.00" r="1.50" fill="#fff" stroke="#777" stroke-width="0.30"/><path d="M34 31.5 A7 7 0 0 0 27 38.5" fill="none" stroke="#555" stroke-width="0.35"/><line x1="32.00" y1="31.50" x2="32.00" y2="38.50" stroke="#2b2620" stroke-width="0.60"/><rect x="0.00" y="60.80" width="43.00" height="2.20" fill="#2b2620"/><rect x="9.50" y="60.60" width="15.50" height="2.20" fill="#f8f6f0" stroke="#555" stroke-width="0.40"/><line x1="14.50" y1="60.60" x2="14.50" y2="62.80" stroke="#555" stroke-width="0.30"/><line x1="20.00" y1="60.60" x2="20.00" y2="62.80" stroke="#555" stroke-width="0.30"/><rect x="1.00" y="56.50" width="5.00" height="4.00" fill="#f8f6f0" stroke="#2b2620" stroke-width="0.50"/><rect x="36.50" y="58.50" width="5.50" height="3.50" fill="#f8f6f0" stroke="#2b2620" stroke-width="0.50"/><rect x="27.50" y="58.50" width="6.00" height="3.50" fill="#f8f6f0" stroke="#2b2620" stroke-width="0.50"/><path d="M-3.3 5.8 Q1 5.8 1 3 V0 M-3.3 26.4 Q1 26.4 1 28.5" fill="none" stroke="#2b2620" stroke-width="1.0"/><rect x="0.00" y="0.00" width="43.00" height="63.00" fill="none" stroke="#2b2620" stroke-width="1.15"/></g>
<g transform="matrix(-1.00000 0 0 -1.03906 392.000 320.500)"><rect x="0.00" y="0.00" width="43.00" height="64.00" fill="#a58556"/><rect x="-7.50" y="5.50" width="8.00" height="21.50" fill="#f8f6f0" stroke="#8a8a88" stroke-width="0.45"/><rect x="-6.00" y="8.50" width="2.20" height="15.50" fill="none" stroke="#777" stroke-width="0.40"/><line x1="-7.50" y1="16.00" x2="-3.50" y2="16.00" stroke="#777" stroke-width="0.40"/><rect x="7.00" y="0.60" width="16.00" height="2.40" fill="#f8f6f0" stroke="#666" stroke-width="0.40"/><line x1="12.00" y1="0.60" x2="12.00" y2="3.00" stroke="#666" stroke-width="0.30"/><line x1="18.00" y1="0.60" x2="18.00" y2="3.00" stroke="#666" stroke-width="0.30"/><rect x="31.50" y="0.80" width="7.00" height="5.00" fill="#f8f6f0" stroke="#2b2620" stroke-width="0.50"/><rect x="31.50" y="6.60" width="7.00" height="5.00" fill="#f8f6f0" stroke="#2b2620" stroke-width="0.50"/><rect x="39.20" y="1.00" width="3.00" height="4.60" fill="#f8f6f0" stroke="#2b2620" stroke-width="0.80" rx="1.30"/><rect x="39.20" y="6.80" width="3.00" height="4.60" fill="#f8f6f0" stroke="#2b2620" stroke-width="0.80" rx="1.30"/><rect x="24.00" y="0.80" width="6.00" height="3.00" fill="#f8f6f0" stroke="#666" stroke-width="0.40"/><rect x="8.50" y="7.40" width="13.50" height="11.50" fill="#fbfaf6" stroke="#b8ae9c" stroke-width="0.40"/><rect x="8.50" y="3.60" width="13.50" height="3.80" fill="#efece4" stroke="#b8ae9c" stroke-width="0.30"/><rect x="5.50" y="3.60" width="2.60" height="2.80" fill="#f8f6f0"/><rect x="22.40" y="3.60" width="2.60" height="2.80" fill="#f8f6f0"/><rect x="30.00" y="13.80" width="12.30" height="22.20" fill="#b79d77" stroke="#2b2620" stroke-width="0.90"/><line x1="30.00" y1="13.80" x2="30.00" y2="36.00" stroke="#2b2620" stroke-width="1.30"/><rect x="35.50" y="15.00" width="5.80" height="6.50" fill="#f8f6f0" stroke="#777" stroke-width="0.30" rx="1.00"/><circle cx="36.50" cy="26.50" r="1.90" fill="#f8f6f0" stroke="#777" stroke-width="0.30"/><rect x="38.80" y="24.00" width="3.00" height="5.00" fill="#f8f6f0" stroke="#777" stroke-width="0.30" rx="1.00"/><rect x="36.00" y="30.50" width="5.50" height="4.50" fill="#f8f6f0" stroke="#777" stroke-width="0.30"/><line x1="0.50" y1="27.20" x2="20.00" y2="27.20" stroke="#2b2620" stroke-width="1.70"/><rect x="9.00" y="29.50" width="9.50" height="8.00" fill="#f8f6f0" stroke="#777" stroke-width="0.35" rx="2.50" transform="rotate(-12 13.7 33.5)"/><circle cx="18.50" cy="32.00" r="2.00" fill="#f8f6f0" stroke="#777" stroke-width="0.30"/><rect x="30.00" y="36.30" width="12.30" height="26.70" fill="#b79d77" stroke="#2b2620" stroke-width="0.80"/><rect x="36.50" y="38.00" width="5.00" height="6.00" fill="#f8f6f0" stroke="#777" stroke-width="0.30"/><circle cx="37.50" cy="46.50" r="1.60" fill="#f8f6f0" stroke="#777" stroke-width="0.30"/><rect x="37.00" y="49.50" width="4.50" height="5.00" fill="#f8f6f0" stroke="#777" stroke-width="0.30"/><path d="M31 54 A7 7 0 0 1 38 61" fill="none" stroke="#555" stroke-width="0.35"/><rect x="31.00" y="57.50" width="5.00" height="4.50" fill="#f8f6f0" stroke="#666" stroke-width="0.30"/><rect x="0.50" y="28.50" width="6.50" height="33.50" fill="#9e7f52"/><line x1="7.20" y1="28.00" x2="7.20" y2="62.00" stroke="#2b2620" stroke-width="0.90"/><rect x="2.00" y="56.00" width="3.60" height="4.00" fill="#f8f6f0" stroke="#666" stroke-width="0.40"/><rect x="1.50" y="29.00" width="4.00" height="3.20" fill="#f8f6f0" stroke="#666" stroke-width="0.40"/><rect x="11.30" y="43.40" width="12.80" height="7.00" fill="#f8f6f0" stroke="#555" stroke-width="0.40" rx="1.20"/><rect x="12.30" y="44.20" width="10.80" height="2.60" fill="#d9d4c8" stroke="#444" stroke-width="0.30"/><line x1="17.70" y1="43.40" x2="17.70" y2="50.40" stroke="#888" stroke-width="0.30"/><rect x="13.40" y="51.80" width="9.80" height="5.60" fill="#fbfaf6" stroke="#666" stroke-width="0.40"/><rect x="15.20" y="53.00" width="6.20" height="3.20" fill="none" stroke="#999" stroke-width="0.30"/><rect x="0.00" y="61.80" width="31.00" height="2.20" fill="#2b2620"/><rect x="8.50" y="61.60" width="13.00" height="2.20" fill="#f8f6f0" stroke="#555" stroke-width="0.40"/><line x1="12.50" y1="61.60" x2="12.50" y2="63.80" stroke="#555" stroke-width="0.30"/><line x1="17.50" y1="61.60" x2="17.50" y2="63.80" stroke="#555" stroke-width="0.30"/><path d="M-3.3 5.8 Q1 5.8 1 3 V0 M-3.3 26.4 Q1 26.4 1 28.5" fill="none" stroke="#2b2620" stroke-width="1.0"/><rect x="0.00" y="0.00" width="43.00" height="64.00" fill="none" stroke="#2b2620" stroke-width="1.15"/></g>
<rect x="290.50" y="321.00" width="23.00" height="21.50" fill="#6a6563"/><rect x="292.50" y="323.00" width="19.00" height="17.00" fill="#777270" stroke="#5c5755" stroke-width="0.40"/><rect x="295.30" y="328.00" width="13.40" height="9.50" fill="#d6d2cf" stroke="#55504c" stroke-width="0.40"/><text x="302.00" y="333.85" font-family="Liberation Sans,sans-serif" font-size="3.2" font-weight="bold" fill="#3a3632" text-anchor="middle" textLength="9.4" lengthAdjust="spacingAndGlyphs">LIFT</text><rect x="297.00" y="340.30" width="10.00" height="2.20" fill="#f1eeea"/>
<rect x="313.50" y="321.00" width="20.50" height="17.00" fill="#f1f0ec" stroke="#2b2620" stroke-width="0.70"/>
<rect x="316.00" y="335.00" width="14.00" height="5.00" fill="#f1f0ec" stroke="#555" stroke-width="0.40"/>
<rect x="349.00" y="320.50" width="43.00" height="21.00" fill="#f1f0ec" stroke="#2b2620" stroke-width="1.00"/><line x1="361.90" y1="323.02" x2="361.90" y2="338.98" stroke="#8a8680" stroke-width="0.35"/><line x1="363.81" y1="323.02" x2="363.81" y2="338.98" stroke="#8a8680" stroke-width="0.35"/><line x1="365.72" y1="323.02" x2="365.72" y2="338.98" stroke="#8a8680" stroke-width="0.35"/><line x1="367.63" y1="323.02" x2="367.63" y2="338.98" stroke="#8a8680" stroke-width="0.35"/><line x1="369.54" y1="323.02" x2="369.54" y2="338.98" stroke="#8a8680" stroke-width="0.35"/><line x1="371.46" y1="323.02" x2="371.46" y2="338.98" stroke="#8a8680" stroke-width="0.35"/><line x1="373.37" y1="323.02" x2="373.37" y2="338.98" stroke="#8a8680" stroke-width="0.35"/><line x1="375.28" y1="323.02" x2="375.28" y2="338.98" stroke="#8a8680" stroke-width="0.35"/><line x1="377.19" y1="323.02" x2="377.19" y2="338.98" stroke="#8a8680" stroke-width="0.35"/><line x1="379.10" y1="323.02" x2="379.10" y2="338.98" stroke="#8a8680" stroke-width="0.35"/><rect x="361.90" y="325.54" width="20.30" height="11.55" fill="none" stroke="#777" stroke-width="0.40"/><line x1="361.90" y1="331.00" x2="379.10" y2="331.00" stroke="#555" stroke-width="0.50"/>
<rect x="290.00" y="360.50" width="24.00" height="24.50" fill="#6a6563"/><rect x="292.00" y="362.50" width="20.00" height="20.00" fill="#777270" stroke="#5c5755" stroke-width="0.40"/><rect x="294.80" y="367.50" width="14.40" height="12.50" fill="#d6d2cf" stroke="#55504c" stroke-width="0.40"/><text x="302.00" y="374.85" font-family="Liberation Sans,sans-serif" font-size="3.2" font-weight="bold" fill="#3a3632" text-anchor="middle" textLength="9.4" lengthAdjust="spacingAndGlyphs">LIFT</text><rect x="296.50" y="360.50" width="11.00" height="2.20" fill="#f1eeea"/>
<rect x="350.00" y="374.00" width="20.50" height="10.00" fill="#f4f3ef" stroke="#2b2620" stroke-width="0.90"/>
<rect x="370.50" y="374.00" width="21.00" height="10.00" fill="#f4f3ef" stroke="#2b2620" stroke-width="0.90"/>
<path d="M353 374 A5 5 0 0 1 358 369 M363 374 A5 5 0 0 0 358 369 M374 374 A5 5 0 0 1 379 369 M384 374 A5 5 0 0 0 379 369" fill="none" stroke="#666" stroke-width="0.35"/>
<rect x="370.00" y="383.00" width="9.00" height="2.50" fill="#f8f6f0" stroke="#666" stroke-width="0.30"/>
<rect x="291.00" y="385.00" width="101.00" height="64.50" fill="#9bbb75"/>
<rect x="287.00" y="389.00" width="108.50" height="23.00" fill="#9bbb75"/>
<rect x="291.00" y="447.00" width="21.00" height="2.60" fill="#2b2620"/>
<rect x="302.00" y="447.20" width="9.00" height="2.20" fill="#f8f6f0" stroke="#666" stroke-width="0.30"/>
<rect x="370.00" y="447.00" width="22.00" height="2.60" fill="#2b2620"/>
<rect x="370.50" y="447.20" width="9.00" height="2.20" fill="#f8f6f0" stroke="#666" stroke-width="0.30"/>
<g transform="matrix(1.00303 0 0 1.00000 145.300 300.500)"><rect x="0.00" y="0.00" width="66.00" height="42.00" fill="#8c805d"/><rect x="38.50" y="-5.50" width="22.50" height="6.00" fill="#f8f6f0" stroke="#2b2620" stroke-width="0.60"/><rect x="42.00" y="-6.80" width="14.00" height="1.60" fill="#f8f6f0" stroke="#666" stroke-width="0.40"/><line x1="46.50" y1="-6.80" x2="46.50" y2="-5.20" stroke="#666" stroke-width="0.30"/><line x1="51.50" y1="-6.80" x2="51.50" y2="-5.20" stroke="#666" stroke-width="0.30"/><rect x="38.00" y="0.00" width="28.00" height="4.20" fill="#fbfaf6"/><rect x="-1.00" y="6.50" width="5.50" height="19.00" fill="#f8f6f0" stroke="#555" stroke-width="0.50"/><line x1="-1.00" y1="13.00" x2="4.50" y2="13.00" stroke="#666" stroke-width="0.30"/><line x1="-1.00" y1="19.00" x2="4.50" y2="19.00" stroke="#666" stroke-width="0.30"/><line x1="2.00" y1="6.50" x2="2.00" y2="25.50" stroke="#777" stroke-width="0.30"/><rect x="1.50" y="1.50" width="5.00" height="4.50" fill="#f8f6f0" stroke="#2b2620" stroke-width="0.60"/><rect x="1.50" y="36.00" width="5.00" height="5.00" fill="#f8f6f0" stroke="#2b2620" stroke-width="0.60"/><rect x="8.50" y="13.50" width="7.50" height="12.00" fill="#f8f6f0" stroke="#666" stroke-width="0.40"/><rect x="10.30" y="16.50" width="4.00" height="6.00" fill="none" stroke="#888" stroke-width="0.30"/><rect x="8.00" y="35.60" width="17.00" height="5.80" fill="#f8f6f0" stroke="#2b2620" stroke-width="0.70"/><circle cx="13.00" cy="38.50" r="1.50" fill="#fff" stroke="#777" stroke-width="0.30"/><circle cx="20.00" cy="38.50" r="1.50" fill="#fff" stroke="#777" stroke-width="0.30"/><line x1="16.50" y1="35.60" x2="16.50" y2="41.40" stroke="#666" stroke-width="0.30"/><rect x="25.50" y="35.00" width="7.50" height="6.50" fill="#7e7353"/><rect x="34.00" y="35.60" width="24.50" height="5.80" fill="#f8f6f0" stroke="#2b2620" stroke-width="0.70"/><rect x="38.00" y="36.60" width="12.00" height="3.80" fill="#fff" stroke="#666" stroke-width="0.40" rx="1.50"/><line x1="36.50" y1="35.60" x2="36.50" y2="41.40" stroke="#555" stroke-width="0.40"/><line x1="52.00" y1="35.60" x2="52.00" y2="41.40" stroke="#555" stroke-width="0.40"/><line x1="0.00" y1="35.00" x2="60.00" y2="35.00" stroke="#2b2620" stroke-width="0.50"/><rect x="0.00" y="0.00" width="66.00" height="42.00" fill="none" stroke="#3a342c" stroke-width="0.90"/></g>
<g transform="matrix(-1.00000 0 0 1.00000 277.500 300.500)"><rect x="0.00" y="0.00" width="66.00" height="42.00" fill="#8c805d"/><rect x="38.50" y="-5.50" width="22.50" height="6.00" fill="#f8f6f0" stroke="#2b2620" stroke-width="0.60"/><rect x="42.00" y="-6.80" width="14.00" height="1.60" fill="#f8f6f0" stroke="#666" stroke-width="0.40"/><line x1="46.50" y1="-6.80" x2="46.50" y2="-5.20" stroke="#666" stroke-width="0.30"/><line x1="51.50" y1="-6.80" x2="51.50" y2="-5.20" stroke="#666" stroke-width="0.30"/><rect x="38.00" y="0.00" width="28.00" height="4.20" fill="#fbfaf6"/><rect x="-1.00" y="6.50" width="5.50" height="19.00" fill="#f8f6f0" stroke="#555" stroke-width="0.50"/><line x1="-1.00" y1="13.00" x2="4.50" y2="13.00" stroke="#666" stroke-width="0.30"/><line x1="-1.00" y1="19.00" x2="4.50" y2="19.00" stroke="#666" stroke-width="0.30"/><line x1="2.00" y1="6.50" x2="2.00" y2="25.50" stroke="#777" stroke-width="0.30"/><rect x="1.50" y="1.50" width="5.00" height="4.50" fill="#f8f6f0" stroke="#2b2620" stroke-width="0.60"/><rect x="1.50" y="36.00" width="5.00" height="5.00" fill="#f8f6f0" stroke="#2b2620" stroke-width="0.60"/><rect x="8.50" y="13.50" width="7.50" height="12.00" fill="#f8f6f0" stroke="#666" stroke-width="0.40"/><rect x="10.30" y="16.50" width="4.00" height="6.00" fill="none" stroke="#888" stroke-width="0.30"/><rect x="8.00" y="35.60" width="17.00" height="5.80" fill="#f8f6f0" stroke="#2b2620" stroke-width="0.70"/><circle cx="13.00" cy="38.50" r="1.50" fill="#fff" stroke="#777" stroke-width="0.30"/><circle cx="20.00" cy="38.50" r="1.50" fill="#fff" stroke="#777" stroke-width="0.30"/><line x1="16.50" y1="35.60" x2="16.50" y2="41.40" stroke="#666" stroke-width="0.30"/><rect x="25.50" y="35.00" width="7.50" height="6.50" fill="#7e7353"/><rect x="34.00" y="35.60" width="24.50" height="5.80" fill="#f8f6f0" stroke="#2b2620" stroke-width="0.70"/><rect x="38.00" y="36.60" width="12.00" height="3.80" fill="#fff" stroke="#666" stroke-width="0.40" rx="1.50"/><line x1="36.50" y1="35.60" x2="36.50" y2="41.40" stroke="#555" stroke-width="0.40"/><line x1="52.00" y1="35.60" x2="52.00" y2="41.40" stroke="#555" stroke-width="0.40"/><line x1="0.00" y1="35.00" x2="60.00" y2="35.00" stroke="#2b2620" stroke-width="0.50"/><rect x="0.00" y="0.00" width="66.00" height="42.00" fill="none" stroke="#3a342c" stroke-width="0.90"/></g>
<g transform="matrix(1.00303 0 0 -1.00000 145.300 403.500)"><rect x="0.00" y="0.00" width="66.00" height="42.00" fill="#8c805d"/><rect x="38.50" y="-5.50" width="22.50" height="6.00" fill="#f8f6f0" stroke="#2b2620" stroke-width="0.60"/><rect x="42.00" y="-6.80" width="14.00" height="1.60" fill="#f8f6f0" stroke="#666" stroke-width="0.40"/><line x1="46.50" y1="-6.80" x2="46.50" y2="-5.20" stroke="#666" stroke-width="0.30"/><line x1="51.50" y1="-6.80" x2="51.50" y2="-5.20" stroke="#666" stroke-width="0.30"/><rect x="38.00" y="0.00" width="28.00" height="4.20" fill="#fbfaf6"/><rect x="-1.00" y="6.50" width="5.50" height="19.00" fill="#f8f6f0" stroke="#555" stroke-width="0.50"/><line x1="-1.00" y1="13.00" x2="4.50" y2="13.00" stroke="#666" stroke-width="0.30"/><line x1="-1.00" y1="19.00" x2="4.50" y2="19.00" stroke="#666" stroke-width="0.30"/><line x1="2.00" y1="6.50" x2="2.00" y2="25.50" stroke="#777" stroke-width="0.30"/><rect x="1.50" y="1.50" width="5.00" height="4.50" fill="#f8f6f0" stroke="#2b2620" stroke-width="0.60"/><rect x="1.50" y="36.00" width="5.00" height="5.00" fill="#f8f6f0" stroke="#2b2620" stroke-width="0.60"/><rect x="8.50" y="13.50" width="7.50" height="12.00" fill="#f8f6f0" stroke="#666" stroke-width="0.40"/><rect x="10.30" y="16.50" width="4.00" height="6.00" fill="none" stroke="#888" stroke-width="0.30"/><rect x="8.00" y="35.60" width="17.00" height="5.80" fill="#f8f6f0" stroke="#2b2620" stroke-width="0.70"/><circle cx="13.00" cy="38.50" r="1.50" fill="#fff" stroke="#777" stroke-width="0.30"/><circle cx="20.00" cy="38.50" r="1.50" fill="#fff" stroke="#777" stroke-width="0.30"/><line x1="16.50" y1="35.60" x2="16.50" y2="41.40" stroke="#666" stroke-width="0.30"/><rect x="25.50" y="35.00" width="7.50" height="6.50" fill="#7e7353"/><rect x="34.00" y="35.60" width="24.50" height="5.80" fill="#f8f6f0" stroke="#2b2620" stroke-width="0.70"/><rect x="38.00" y="36.60" width="12.00" height="3.80" fill="#fff" stroke="#666" stroke-width="0.40" rx="1.50"/><line x1="36.50" y1="35.60" x2="36.50" y2="41.40" stroke="#555" stroke-width="0.40"/><line x1="52.00" y1="35.60" x2="52.00" y2="41.40" stroke="#555" stroke-width="0.40"/><line x1="0.00" y1="35.00" x2="60.00" y2="35.00" stroke="#2b2620" stroke-width="0.50"/><rect x="0.00" y="0.00" width="66.00" height="42.00" fill="none" stroke="#3a342c" stroke-width="0.90"/></g>
<g transform="matrix(-1.00000 0 0 -1.00000 277.500 403.500)"><rect x="0.00" y="0.00" width="66.00" height="42.00" fill="#8c805d"/><rect x="38.50" y="-5.50" width="22.50" height="6.00" fill="#f8f6f0" stroke="#2b2620" stroke-width="0.60"/><rect x="42.00" y="-6.80" width="14.00" height="1.60" fill="#f8f6f0" stroke="#666" stroke-width="0.40"/><line x1="46.50" y1="-6.80" x2="46.50" y2="-5.20" stroke="#666" stroke-width="0.30"/><line x1="51.50" y1="-6.80" x2="51.50" y2="-5.20" stroke="#666" stroke-width="0.30"/><rect x="38.00" y="0.00" width="28.00" height="4.20" fill="#fbfaf6"/><rect x="-1.00" y="6.50" width="5.50" height="19.00" fill="#f8f6f0" stroke="#555" stroke-width="0.50"/><line x1="-1.00" y1="13.00" x2="4.50" y2="13.00" stroke="#666" stroke-width="0.30"/><line x1="-1.00" y1="19.00" x2="4.50" y2="19.00" stroke="#666" stroke-width="0.30"/><line x1="2.00" y1="6.50" x2="2.00" y2="25.50" stroke="#777" stroke-width="0.30"/><rect x="1.50" y="1.50" width="5.00" height="4.50" fill="#f8f6f0" stroke="#2b2620" stroke-width="0.60"/><rect x="1.50" y="36.00" width="5.00" height="5.00" fill="#f8f6f0" stroke="#2b2620" stroke-width="0.60"/><rect x="8.50" y="13.50" width="7.50" height="12.00" fill="#f8f6f0" stroke="#666" stroke-width="0.40"/><rect x="10.30" y="16.50" width="4.00" height="6.00" fill="none" stroke="#888" stroke-width="0.30"/><rect x="8.00" y="35.60" width="17.00" height="5.80" fill="#f8f6f0" stroke="#2b2620" stroke-width="0.70"/><circle cx="13.00" cy="38.50" r="1.50" fill="#fff" stroke="#777" stroke-width="0.30"/><circle cx="20.00" cy="38.50" r="1.50" fill="#fff" stroke="#777" stroke-width="0.30"/><line x1="16.50" y1="35.60" x2="16.50" y2="41.40" stroke="#666" stroke-width="0.30"/><rect x="25.50" y="35.00" width="7.50" height="6.50" fill="#7e7353"/><rect x="34.00" y="35.60" width="24.50" height="5.80" fill="#f8f6f0" stroke="#2b2620" stroke-width="0.70"/><rect x="38.00" y="36.60" width="12.00" height="3.80" fill="#fff" stroke="#666" stroke-width="0.40" rx="1.50"/><line x1="36.50" y1="35.60" x2="36.50" y2="41.40" stroke="#555" stroke-width="0.40"/><line x1="52.00" y1="35.60" x2="52.00" y2="41.40" stroke="#555" stroke-width="0.40"/><line x1="0.00" y1="35.00" x2="60.00" y2="35.00" stroke="#2b2620" stroke-width="0.50"/><rect x="0.00" y="0.00" width="66.00" height="42.00" fill="none" stroke="#3a342c" stroke-width="0.90"/></g>
<g transform="matrix(1.00758 0 0 1.00000 405.000 300.500)"><rect x="0.00" y="0.00" width="66.00" height="42.00" fill="#8c805d"/><rect x="38.50" y="-5.50" width="22.50" height="6.00" fill="#f8f6f0" stroke="#2b2620" stroke-width="0.60"/><rect x="42.00" y="-6.80" width="14.00" height="1.60" fill="#f8f6f0" stroke="#666" stroke-width="0.40"/><line x1="46.50" y1="-6.80" x2="46.50" y2="-5.20" stroke="#666" stroke-width="0.30"/><line x1="51.50" y1="-6.80" x2="51.50" y2="-5.20" stroke="#666" stroke-width="0.30"/><rect x="38.00" y="0.00" width="28.00" height="4.20" fill="#fbfaf6"/><rect x="-1.00" y="6.50" width="5.50" height="19.00" fill="#f8f6f0" stroke="#555" stroke-width="0.50"/><line x1="-1.00" y1="13.00" x2="4.50" y2="13.00" stroke="#666" stroke-width="0.30"/><line x1="-1.00" y1="19.00" x2="4.50" y2="19.00" stroke="#666" stroke-width="0.30"/><line x1="2.00" y1="6.50" x2="2.00" y2="25.50" stroke="#777" stroke-width="0.30"/><rect x="1.50" y="1.50" width="5.00" height="4.50" fill="#f8f6f0" stroke="#2b2620" stroke-width="0.60"/><rect x="1.50" y="36.00" width="5.00" height="5.00" fill="#f8f6f0" stroke="#2b2620" stroke-width="0.60"/><rect x="8.50" y="13.50" width="7.50" height="12.00" fill="#f8f6f0" stroke="#666" stroke-width="0.40"/><rect x="10.30" y="16.50" width="4.00" height="6.00" fill="none" stroke="#888" stroke-width="0.30"/><rect x="8.00" y="35.60" width="17.00" height="5.80" fill="#f8f6f0" stroke="#2b2620" stroke-width="0.70"/><circle cx="13.00" cy="38.50" r="1.50" fill="#fff" stroke="#777" stroke-width="0.30"/><circle cx="20.00" cy="38.50" r="1.50" fill="#fff" stroke="#777" stroke-width="0.30"/><line x1="16.50" y1="35.60" x2="16.50" y2="41.40" stroke="#666" stroke-width="0.30"/><rect x="25.50" y="35.00" width="7.50" height="6.50" fill="#7e7353"/><rect x="34.00" y="35.60" width="24.50" height="5.80" fill="#f8f6f0" stroke="#2b2620" stroke-width="0.70"/><rect x="38.00" y="36.60" width="12.00" height="3.80" fill="#fff" stroke="#666" stroke-width="0.40" rx="1.50"/><line x1="36.50" y1="35.60" x2="36.50" y2="41.40" stroke="#555" stroke-width="0.40"/><line x1="52.00" y1="35.60" x2="52.00" y2="41.40" stroke="#555" stroke-width="0.40"/><line x1="0.00" y1="35.00" x2="60.00" y2="35.00" stroke="#2b2620" stroke-width="0.50"/><rect x="0.00" y="0.00" width="66.00" height="42.00" fill="none" stroke="#3a342c" stroke-width="0.90"/></g>
<g transform="matrix(-1.00000 0 0 1.00000 537.500 300.500)"><rect x="0.00" y="0.00" width="66.00" height="42.00" fill="#8c805d"/><rect x="38.50" y="-5.50" width="22.50" height="6.00" fill="#f8f6f0" stroke="#2b2620" stroke-width="0.60"/><rect x="42.00" y="-6.80" width="14.00" height="1.60" fill="#f8f6f0" stroke="#666" stroke-width="0.40"/><line x1="46.50" y1="-6.80" x2="46.50" y2="-5.20" stroke="#666" stroke-width="0.30"/><line x1="51.50" y1="-6.80" x2="51.50" y2="-5.20" stroke="#666" stroke-width="0.30"/><rect x="38.00" y="0.00" width="28.00" height="4.20" fill="#fbfaf6"/><rect x="-1.00" y="6.50" width="5.50" height="19.00" fill="#f8f6f0" stroke="#555" stroke-width="0.50"/><line x1="-1.00" y1="13.00" x2="4.50" y2="13.00" stroke="#666" stroke-width="0.30"/><line x1="-1.00" y1="19.00" x2="4.50" y2="19.00" stroke="#666" stroke-width="0.30"/><line x1="2.00" y1="6.50" x2="2.00" y2="25.50" stroke="#777" stroke-width="0.30"/><rect x="1.50" y="1.50" width="5.00" height="4.50" fill="#f8f6f0" stroke="#2b2620" stroke-width="0.60"/><rect x="1.50" y="36.00" width="5.00" height="5.00" fill="#f8f6f0" stroke="#2b2620" stroke-width="0.60"/><rect x="8.50" y="13.50" width="7.50" height="12.00" fill="#f8f6f0" stroke="#666" stroke-width="0.40"/><rect x="10.30" y="16.50" width="4.00" height="6.00" fill="none" stroke="#888" stroke-width="0.30"/><rect x="8.00" y="35.60" width="17.00" height="5.80" fill="#f8f6f0" stroke="#2b2620" stroke-width="0.70"/><circle cx="13.00" cy="38.50" r="1.50" fill="#fff" stroke="#777" stroke-width="0.30"/><circle cx="20.00" cy="38.50" r="1.50" fill="#fff" stroke="#777" stroke-width="0.30"/><line x1="16.50" y1="35.60" x2="16.50" y2="41.40" stroke="#666" stroke-width="0.30"/><rect x="25.50" y="35.00" width="7.50" height="6.50" fill="#7e7353"/><rect x="34.00" y="35.60" width="24.50" height="5.80" fill="#f8f6f0" stroke="#2b2620" stroke-width="0.70"/><rect x="38.00" y="36.60" width="12.00" height="3.80" fill="#fff" stroke="#666" stroke-width="0.40" rx="1.50"/><line x1="36.50" y1="35.60" x2="36.50" y2="41.40" stroke="#555" stroke-width="0.40"/><line x1="52.00" y1="35.60" x2="52.00" y2="41.40" stroke="#555" stroke-width="0.40"/><line x1="0.00" y1="35.00" x2="60.00" y2="35.00" stroke="#2b2620" stroke-width="0.50"/><rect x="0.00" y="0.00" width="66.00" height="42.00" fill="none" stroke="#3a342c" stroke-width="0.90"/></g>
<g transform="matrix(0.98485 0 0 -1.00000 406.000 403.500)"><rect x="0.00" y="0.00" width="66.00" height="42.00" fill="#8c805d"/><rect x="38.50" y="-5.50" width="22.50" height="6.00" fill="#f8f6f0" stroke="#2b2620" stroke-width="0.60"/><rect x="42.00" y="-6.80" width="14.00" height="1.60" fill="#f8f6f0" stroke="#666" stroke-width="0.40"/><line x1="46.50" y1="-6.80" x2="46.50" y2="-5.20" stroke="#666" stroke-width="0.30"/><line x1="51.50" y1="-6.80" x2="51.50" y2="-5.20" stroke="#666" stroke-width="0.30"/><rect x="38.00" y="0.00" width="28.00" height="4.20" fill="#fbfaf6"/><rect x="-1.00" y="6.50" width="5.50" height="19.00" fill="#f8f6f0" stroke="#555" stroke-width="0.50"/><line x1="-1.00" y1="13.00" x2="4.50" y2="13.00" stroke="#666" stroke-width="0.30"/><line x1="-1.00" y1="19.00" x2="4.50" y2="19.00" stroke="#666" stroke-width="0.30"/><line x1="2.00" y1="6.50" x2="2.00" y2="25.50" stroke="#777" stroke-width="0.30"/><rect x="1.50" y="1.50" width="5.00" height="4.50" fill="#f8f6f0" stroke="#2b2620" stroke-width="0.60"/><rect x="1.50" y="36.00" width="5.00" height="5.00" fill="#f8f6f0" stroke="#2b2620" stroke-width="0.60"/><rect x="8.50" y="13.50" width="7.50" height="12.00" fill="#f8f6f0" stroke="#666" stroke-width="0.40"/><rect x="10.30" y="16.50" width="4.00" height="6.00" fill="none" stroke="#888" stroke-width="0.30"/><rect x="8.00" y="35.60" width="17.00" height="5.80" fill="#f8f6f0" stroke="#2b2620" stroke-width="0.70"/><circle cx="13.00" cy="38.50" r="1.50" fill="#fff" stroke="#777" stroke-width="0.30"/><circle cx="20.00" cy="38.50" r="1.50" fill="#fff" stroke="#777" stroke-width="0.30"/><line x1="16.50" y1="35.60" x2="16.50" y2="41.40" stroke="#666" stroke-width="0.30"/><rect x="25.50" y="35.00" width="7.50" height="6.50" fill="#7e7353"/><rect x="34.00" y="35.60" width="24.50" height="5.80" fill="#f8f6f0" stroke="#2b2620" stroke-width="0.70"/><rect x="38.00" y="36.60" width="12.00" height="3.80" fill="#fff" stroke="#666" stroke-width="0.40" rx="1.50"/><line x1="36.50" y1="35.60" x2="36.50" y2="41.40" stroke="#555" stroke-width="0.40"/><line x1="52.00" y1="35.60" x2="52.00" y2="41.40" stroke="#555" stroke-width="0.40"/><line x1="0.00" y1="35.00" x2="60.00" y2="35.00" stroke="#2b2620" stroke-width="0.50"/><rect x="0.00" y="0.00" width="66.00" height="42.00" fill="none" stroke="#3a342c" stroke-width="0.90"/></g>
<g transform="matrix(-0.97727 0 0 -1.00000 535.500 403.500)"><rect x="0.00" y="0.00" width="66.00" height="42.00" fill="#8c805d"/><rect x="38.50" y="-5.50" width="22.50" height="6.00" fill="#f8f6f0" stroke="#2b2620" stroke-width="0.60"/><rect x="42.00" y="-6.80" width="14.00" height="1.60" fill="#f8f6f0" stroke="#666" stroke-width="0.40"/><line x1="46.50" y1="-6.80" x2="46.50" y2="-5.20" stroke="#666" stroke-width="0.30"/><line x1="51.50" y1="-6.80" x2="51.50" y2="-5.20" stroke="#666" stroke-width="0.30"/><rect x="38.00" y="0.00" width="28.00" height="4.20" fill="#fbfaf6"/><rect x="-1.00" y="6.50" width="5.50" height="19.00" fill="#f8f6f0" stroke="#555" stroke-width="0.50"/><line x1="-1.00" y1="13.00" x2="4.50" y2="13.00" stroke="#666" stroke-width="0.30"/><line x1="-1.00" y1="19.00" x2="4.50" y2="19.00" stroke="#666" stroke-width="0.30"/><line x1="2.00" y1="6.50" x2="2.00" y2="25.50" stroke="#777" stroke-width="0.30"/><rect x="1.50" y="1.50" width="5.00" height="4.50" fill="#f8f6f0" stroke="#2b2620" stroke-width="0.60"/><rect x="1.50" y="36.00" width="5.00" height="5.00" fill="#f8f6f0" stroke="#2b2620" stroke-width="0.60"/><rect x="8.50" y="13.50" width="7.50" height="12.00" fill="#f8f6f0" stroke="#666" stroke-width="0.40"/><rect x="10.30" y="16.50" width="4.00" height="6.00" fill="none" stroke="#888" stroke-width="0.30"/><rect x="8.00" y="35.60" width="17.00" height="5.80" fill="#f8f6f0" stroke="#2b2620" stroke-width="0.70"/><circle cx="13.00" cy="38.50" r="1.50" fill="#fff" stroke="#777" stroke-width="0.30"/><circle cx="20.00" cy="38.50" r="1.50" fill="#fff" stroke="#777" stroke-width="0.30"/><line x1="16.50" y1="35.60" x2="16.50" y2="41.40" stroke="#666" stroke-width="0.30"/><rect x="25.50" y="35.00" width="7.50" height="6.50" fill="#7e7353"/><rect x="34.00" y="35.60" width="24.50" height="5.80" fill="#f8f6f0" stroke="#2b2620" stroke-width="0.70"/><rect x="38.00" y="36.60" width="12.00" height="3.80" fill="#fff" stroke="#666" stroke-width="0.40" rx="1.50"/><line x1="36.50" y1="35.60" x2="36.50" y2="41.40" stroke="#555" stroke-width="0.40"/><line x1="52.00" y1="35.60" x2="52.00" y2="41.40" stroke="#555" stroke-width="0.40"/><line x1="0.00" y1="35.00" x2="60.00" y2="35.00" stroke="#2b2620" stroke-width="0.50"/><rect x="0.00" y="0.00" width="66.00" height="42.00" fill="none" stroke="#3a342c" stroke-width="0.90"/></g>
<rect x="162.80" y="304.50" width="41.70" height="27.50" fill="#fdfdfb"/><rect x="204.00" y="304.50" width="6.70" height="27.50" fill="#fdfdfb"/><line x1="207.35" y1="305.50" x2="207.35" y2="317.40" stroke="#999" stroke-width="0.30"/><rect x="205.80" y="323.70" width="5.40" height="18.80" fill="#f8f6f0" stroke="#3a342c" stroke-width="0.60"/><line x1="205.80" y1="327.46" x2="211.20" y2="327.46" stroke="#444" stroke-width="0.40"/><line x1="205.80" y1="331.22" x2="211.20" y2="331.22" stroke="#444" stroke-width="0.40"/><line x1="205.80" y1="334.98" x2="211.20" y2="334.98" stroke="#444" stroke-width="0.40"/><line x1="205.80" y1="338.74" x2="211.20" y2="338.74" stroke="#444" stroke-width="0.40"/>
<rect x="226.50" y="304.50" width="43.00" height="27.50" fill="#fdfdfb"/><rect x="212.30" y="304.50" width="14.70" height="13.90" fill="#fdfdfb"/><rect x="212.30" y="318.40" width="14.70" height="17.60" fill="#8c805d"/><line x1="219.65" y1="305.50" x2="219.65" y2="317.40" stroke="#999" stroke-width="0.30"/><rect x="211.80" y="323.70" width="5.40" height="18.80" fill="#f8f6f0" stroke="#3a342c" stroke-width="0.60"/><line x1="211.80" y1="327.46" x2="217.20" y2="327.46" stroke="#444" stroke-width="0.40"/><line x1="211.80" y1="331.22" x2="217.20" y2="331.22" stroke="#444" stroke-width="0.40"/><line x1="211.80" y1="334.98" x2="217.20" y2="334.98" stroke="#444" stroke-width="0.40"/><line x1="211.80" y1="338.74" x2="217.20" y2="338.74" stroke="#444" stroke-width="0.40"/>
<rect x="156.00" y="372.00" width="43.50" height="28.00" fill="#fdfdfb"/><rect x="199.00" y="386.00" width="11.70" height="14.00" fill="#fdfdfb"/><rect x="199.00" y="367.50" width="11.70" height="18.50" fill="#8c805d"/><line x1="204.85" y1="387.00" x2="204.85" y2="399.00" stroke="#999" stroke-width="0.30"/><rect x="205.80" y="361.50" width="5.40" height="18.80" fill="#f8f6f0" stroke="#3a342c" stroke-width="0.60"/><line x1="205.80" y1="365.26" x2="211.20" y2="365.26" stroke="#444" stroke-width="0.40"/><line x1="205.80" y1="369.02" x2="211.20" y2="369.02" stroke="#444" stroke-width="0.40"/><line x1="205.80" y1="372.78" x2="211.20" y2="372.78" stroke="#444" stroke-width="0.40"/><line x1="205.80" y1="376.54" x2="211.20" y2="376.54" stroke="#444" stroke-width="0.40"/>
<rect x="221.00" y="372.00" width="42.50" height="28.00" fill="#fdfdfb"/><rect x="212.30" y="386.00" width="9.20" height="14.00" fill="#fdfdfb"/><rect x="212.30" y="367.50" width="9.20" height="18.50" fill="#8c805d"/><line x1="216.90" y1="387.00" x2="216.90" y2="399.00" stroke="#999" stroke-width="0.30"/><rect x="211.80" y="361.50" width="5.40" height="18.80" fill="#f8f6f0" stroke="#3a342c" stroke-width="0.60"/><line x1="211.80" y1="365.26" x2="217.20" y2="365.26" stroke="#444" stroke-width="0.40"/><line x1="211.80" y1="369.02" x2="217.20" y2="369.02" stroke="#444" stroke-width="0.40"/><line x1="211.80" y1="372.78" x2="217.20" y2="372.78" stroke="#444" stroke-width="0.40"/><line x1="211.80" y1="376.54" x2="217.20" y2="376.54" stroke="#444" stroke-width="0.40"/>
<rect x="419.00" y="304.50" width="42.50" height="27.50" fill="#fdfdfb"/><rect x="461.00" y="304.50" width="9.70" height="13.90" fill="#fdfdfb"/><rect x="461.00" y="318.40" width="9.70" height="17.60" fill="#8c805d"/><line x1="465.85" y1="305.50" x2="465.85" y2="317.40" stroke="#999" stroke-width="0.30"/><rect x="465.80" y="323.70" width="5.40" height="18.80" fill="#f8f6f0" stroke="#3a342c" stroke-width="0.60"/><line x1="465.80" y1="327.46" x2="471.20" y2="327.46" stroke="#444" stroke-width="0.40"/><line x1="465.80" y1="331.22" x2="471.20" y2="331.22" stroke="#444" stroke-width="0.40"/><line x1="465.80" y1="334.98" x2="471.20" y2="334.98" stroke="#444" stroke-width="0.40"/><line x1="465.80" y1="338.74" x2="471.20" y2="338.74" stroke="#444" stroke-width="0.40"/>
<rect x="483.00" y="304.50" width="42.50" height="27.50" fill="#fdfdfb"/><rect x="472.30" y="304.50" width="11.20" height="13.90" fill="#fdfdfb"/><rect x="472.30" y="318.40" width="11.20" height="17.60" fill="#8c805d"/><line x1="477.90" y1="305.50" x2="477.90" y2="317.40" stroke="#999" stroke-width="0.30"/><rect x="471.80" y="323.70" width="5.40" height="18.80" fill="#f8f6f0" stroke="#3a342c" stroke-width="0.60"/><line x1="471.80" y1="327.46" x2="477.20" y2="327.46" stroke="#444" stroke-width="0.40"/><line x1="471.80" y1="331.22" x2="477.20" y2="331.22" stroke="#444" stroke-width="0.40"/><line x1="471.80" y1="334.98" x2="477.20" y2="334.98" stroke="#444" stroke-width="0.40"/><line x1="471.80" y1="338.74" x2="477.20" y2="338.74" stroke="#444" stroke-width="0.40"/>
<rect x="415.00" y="372.00" width="43.00" height="28.00" fill="#fdfdfb"/><rect x="457.50" y="386.00" width="12.70" height="14.00" fill="#fdfdfb"/><rect x="457.50" y="367.50" width="12.70" height="18.50" fill="#8c805d"/><line x1="463.85" y1="387.00" x2="463.85" y2="399.00" stroke="#999" stroke-width="0.30"/><rect x="465.30" y="361.50" width="5.40" height="18.80" fill="#f8f6f0" stroke="#3a342c" stroke-width="0.60"/><line x1="465.30" y1="365.26" x2="470.70" y2="365.26" stroke="#444" stroke-width="0.40"/><line x1="465.30" y1="369.02" x2="470.70" y2="369.02" stroke="#444" stroke-width="0.40"/><line x1="465.30" y1="372.78" x2="470.70" y2="372.78" stroke="#444" stroke-width="0.40"/><line x1="465.30" y1="376.54" x2="470.70" y2="376.54" stroke="#444" stroke-width="0.40"/>
<rect x="481.00" y="372.00" width="41.50" height="28.00" fill="#fdfdfb"/><rect x="471.80" y="386.00" width="9.70" height="14.00" fill="#fdfdfb"/><rect x="471.80" y="367.50" width="9.70" height="18.50" fill="#8c805d"/><line x1="476.65" y1="387.00" x2="476.65" y2="399.00" stroke="#999" stroke-width="0.30"/><rect x="471.30" y="361.50" width="5.40" height="18.80" fill="#f8f6f0" stroke="#3a342c" stroke-width="0.60"/><line x1="471.30" y1="365.26" x2="476.70" y2="365.26" stroke="#444" stroke-width="0.40"/><line x1="471.30" y1="369.02" x2="476.70" y2="369.02" stroke="#444" stroke-width="0.40"/><line x1="471.30" y1="372.78" x2="476.70" y2="372.78" stroke="#444" stroke-width="0.40"/><line x1="471.30" y1="376.54" x2="476.70" y2="376.54" stroke="#444" stroke-width="0.40"/>
<line x1="211.50" y1="300.50" x2="211.50" y2="342.50" stroke="#3a342c" stroke-width="0.90"/>
<line x1="471.50" y1="300.50" x2="471.50" y2="342.50" stroke="#3a342c" stroke-width="0.90"/>
<line x1="211.50" y1="361.50" x2="211.50" y2="403.50" stroke="#3a342c" stroke-width="0.90"/>
<line x1="471.00" y1="361.50" x2="471.00" y2="403.50" stroke="#3a342c" stroke-width="0.90"/>
<g transform="matrix(1.00000 0 0 -1.00000 550.000 190.000)"><rect x="0.00" y="0.00" width="43.00" height="64.00" fill="#c7af90"/><rect x="-7.50" y="5.50" width="8.00" height="21.50" fill="#f8f6f0" stroke="#8a8a88" stroke-width="0.45"/><rect x="-6.00" y="8.50" width="2.20" height="15.50" fill="none" stroke="#777" stroke-width="0.40"/><line x1="-7.50" y1="16.00" x2="-3.50" y2="16.00" stroke="#777" stroke-width="0.40"/><rect x="7.00" y="0.60" width="16.00" height="2.40" fill="#f8f6f0" stroke="#666" stroke-width="0.40"/><line x1="12.00" y1="0.60" x2="12.00" y2="3.00" stroke="#666" stroke-width="0.30"/><line x1="18.00" y1="0.60" x2="18.00" y2="3.00" stroke="#666" stroke-width="0.30"/><rect x="31.50" y="0.80" width="7.00" height="5.00" fill="#f8f6f0" stroke="#2b2620" stroke-width="0.50"/><rect x="31.50" y="6.60" width="7.00" height="5.00" fill="#f8f6f0" stroke="#2b2620" stroke-width="0.50"/><rect x="39.20" y="1.00" width="3.00" height="4.60" fill="#f8f6f0" stroke="#2b2620" stroke-width="0.80" rx="1.30"/><rect x="39.20" y="6.80" width="3.00" height="4.60" fill="#f8f6f0" stroke="#2b2620" stroke-width="0.80" rx="1.30"/><rect x="24.00" y="0.80" width="6.00" height="3.00" fill="#f8f6f0" stroke="#666" stroke-width="0.40"/><rect x="8.50" y="7.40" width="13.50" height="11.50" fill="#fbfaf6" stroke="#b8ae9c" stroke-width="0.40"/><rect x="8.50" y="3.60" width="13.50" height="3.80" fill="#efece4" stroke="#b8ae9c" stroke-width="0.30"/><rect x="5.50" y="3.60" width="2.60" height="2.80" fill="#f8f6f0"/><rect x="22.40" y="3.60" width="2.60" height="2.80" fill="#f8f6f0"/><rect x="30.00" y="13.80" width="12.30" height="22.20" fill="#d2bfa6" stroke="#2b2620" stroke-width="0.90"/><line x1="30.00" y1="13.80" x2="30.00" y2="36.00" stroke="#2b2620" stroke-width="1.30"/><rect x="35.50" y="15.00" width="5.80" height="6.50" fill="#f8f6f0" stroke="#777" stroke-width="0.30" rx="1.00"/><circle cx="36.50" cy="26.50" r="1.90" fill="#f8f6f0" stroke="#777" stroke-width="0.30"/><rect x="38.80" y="24.00" width="3.00" height="5.00" fill="#f8f6f0" stroke="#777" stroke-width="0.30" rx="1.00"/><rect x="36.00" y="30.50" width="5.50" height="4.50" fill="#f8f6f0" stroke="#777" stroke-width="0.30"/><line x1="0.50" y1="27.20" x2="20.00" y2="27.20" stroke="#2b2620" stroke-width="1.70"/><rect x="9.00" y="29.50" width="9.50" height="8.00" fill="#f8f6f0" stroke="#777" stroke-width="0.35" rx="2.50" transform="rotate(-12 13.7 33.5)"/><circle cx="18.50" cy="32.00" r="2.00" fill="#f8f6f0" stroke="#777" stroke-width="0.30"/><rect x="30.00" y="36.30" width="12.30" height="26.70" fill="#d2bfa6" stroke="#2b2620" stroke-width="0.80"/><rect x="36.50" y="38.00" width="5.00" height="6.00" fill="#f8f6f0" stroke="#777" stroke-width="0.30"/><circle cx="37.50" cy="46.50" r="1.60" fill="#f8f6f0" stroke="#777" stroke-width="0.30"/><rect x="37.00" y="49.50" width="4.50" height="5.00" fill="#f8f6f0" stroke="#777" stroke-width="0.30"/><path d="M31 54 A7 7 0 0 1 38 61" fill="none" stroke="#555" stroke-width="0.35"/><rect x="31.00" y="57.50" width="5.00" height="4.50" fill="#f8f6f0" stroke="#666" stroke-width="0.30"/><rect x="0.50" y="28.50" width="6.50" height="33.50" fill="#bfa88a"/><line x1="7.20" y1="28.00" x2="7.20" y2="62.00" stroke="#2b2620" stroke-width="0.90"/><rect x="2.00" y="56.00" width="3.60" height="4.00" fill="#f8f6f0" stroke="#666" stroke-width="0.40"/><rect x="1.50" y="29.00" width="4.00" height="3.20" fill="#f8f6f0" stroke="#666" stroke-width="0.40"/><rect x="11.30" y="43.40" width="12.80" height="7.00" fill="#f8f6f0" stroke="#555" stroke-width="0.40" rx="1.20"/><rect x="12.30" y="44.20" width="10.80" height="2.60" fill="#d9d4c8" stroke="#444" stroke-width="0.30"/><line x1="17.70" y1="43.40" x2="17.70" y2="50.40" stroke="#888" stroke-width="0.30"/><rect x="13.40" y="51.80" width="9.80" height="5.60" fill="#fbfaf6" stroke="#666" stroke-width="0.40"/><rect x="15.20" y="53.00" width="6.20" height="3.20" fill="none" stroke="#999" stroke-width="0.30"/><rect x="0.00" y="61.80" width="31.00" height="2.20" fill="#2b2620"/><rect x="8.50" y="61.60" width="13.00" height="2.20" fill="#f8f6f0" stroke="#555" stroke-width="0.40"/><line x1="12.50" y1="61.60" x2="12.50" y2="63.80" stroke="#555" stroke-width="0.30"/><line x1="17.50" y1="61.60" x2="17.50" y2="63.80" stroke="#555" stroke-width="0.30"/><path d="M-3.3 5.8 Q1 5.8 1 3 V0 M-3.3 26.4 Q1 26.4 1 28.5" fill="none" stroke="#2b2620" stroke-width="1.0"/><rect x="0.00" y="0.00" width="43.00" height="64.00" fill="none" stroke="#2b2620" stroke-width="1.15"/></g>
<g transform="matrix(1.00000 0 0 1.03684 550.000 190.000)"><rect x="0.00" y="0.00" width="43.00" height="95.00" fill="#ab9a89"/><rect x="-6.00" y="6.00" width="7.00" height="20.00" fill="#f8f6f0" stroke="#8a8a88" stroke-width="0.45"/><rect x="-4.50" y="9.00" width="2.20" height="14.00" fill="none" stroke="#777" stroke-width="0.40"/><line x1="-6.00" y1="16.00" x2="-2.00" y2="16.00" stroke="#777" stroke-width="0.40"/><rect x="-6.00" y="70.00" width="7.00" height="21.00" fill="#f8f6f0" stroke="#8a8a88" stroke-width="0.45"/><rect x="-4.50" y="73.00" width="2.20" height="15.00" fill="none" stroke="#777" stroke-width="0.40"/><line x1="-6.00" y1="80.50" x2="-2.00" y2="80.50" stroke="#777" stroke-width="0.40"/><rect x="5.50" y="5.60" width="12.60" height="11.50" fill="#fbfaf6" stroke="#b8ae9c" stroke-width="0.40"/><rect x="5.50" y="5.60" width="12.60" height="2.80" fill="#efece4" stroke="#b8ae9c" stroke-width="0.30"/><rect x="3.00" y="2.20" width="3.00" height="3.00" fill="#f8f6f0"/><rect x="18.00" y="2.20" width="3.00" height="3.00" fill="#f8f6f0"/><rect x="8.00" y="0.40" width="10.00" height="2.00" fill="#f8f6f0" stroke="#666" stroke-width="0.40"/><rect x="22.00" y="0.80" width="8.00" height="3.00" fill="#f8f6f0" stroke="#2b2620" stroke-width="0.40"/><rect x="31.00" y="0.80" width="11.00" height="3.00" fill="#f8f6f0" stroke="#2b2620" stroke-width="0.40"/><rect x="30.50" y="5.00" width="12.00" height="21.50" fill="#b1a292" stroke="#2b2620" stroke-width="0.80"/><rect x="37.00" y="6.00" width="5.00" height="6.00" fill="#f8f6f0" stroke="#777" stroke-width="0.30" rx="1.00"/><circle cx="39.50" cy="15.50" r="1.80" fill="#f8f6f0" stroke="#777" stroke-width="0.30"/><rect x="36.50" y="19.00" width="5.50" height="6.50" fill="#f8f6f0" stroke="#777" stroke-width="0.30"/><rect x="28.00" y="9.00" width="2.50" height="5.00" fill="#f8f6f0" stroke="#666" stroke-width="0.30"/><rect x="27.00" y="17.00" width="4.00" height="4.00" fill="#f8f6f0" stroke="#777" stroke-width="0.30" rx="1.50"/><line x1="30.50" y1="5.00" x2="30.50" y2="26.50" stroke="#2b2620" stroke-width="1.00"/><rect x="5.00" y="26.50" width="16.00" height="3.00" fill="#f8f6f0" stroke="#2b2620" stroke-width="0.50"/><path d="M43 27 A7 7 0 0 1 36 34" fill="none" stroke="#555" stroke-width="0.35"/><rect x="1.00" y="33.50" width="6.50" height="26.50" fill="#9d8d7e"/><line x1="7.50" y1="33.50" x2="7.50" y2="60.00" stroke="#2b2620" stroke-width="0.90"/><rect x="2.00" y="34.50" width="3.50" height="3.50" fill="#f8f6f0" stroke="#666" stroke-width="0.40"/><rect x="9.50" y="33.50" width="14.50" height="13.50" fill="#f8f6f0" stroke="#666" stroke-width="0.40" rx="1.20"/><rect x="12.00" y="38.00" width="10.00" height="6.00" fill="#fbfaf6" stroke="#888" stroke-width="0.30"/><line x1="9.50" y1="37.00" x2="24.00" y2="37.00" stroke="#888" stroke-width="0.30"/><rect x="22.00" y="48.00" width="5.50" height="5.00" fill="#f8f6f0" stroke="#777" stroke-width="0.30" rx="1.50" transform="rotate(25 24.7 50.5)"/><rect x="32.00" y="39.00" width="9.00" height="10.50" fill="#f8f6f0" stroke="#777" stroke-width="0.40" rx="1.00"/><circle cx="33.00" cy="42.00" r="1.70" fill="#f8f6f0" stroke="#777" stroke-width="0.30"/><circle cx="36.50" cy="50.50" r="1.70" fill="#f8f6f0" stroke="#777" stroke-width="0.30"/><circle cx="40.00" cy="50.50" r="1.70" fill="#f8f6f0" stroke="#777" stroke-width="0.30"/><rect x="38.50" y="53.00" width="4.00" height="16.00" fill="#f8f6f0" stroke="#666" stroke-width="0.40"/><line x1="38.50" y1="58.00" x2="42.50" y2="58.00" stroke="#666" stroke-width="0.30"/><line x1="38.50" y1="63.00" x2="42.50" y2="63.00" stroke="#666" stroke-width="0.30"/><rect x="8.00" y="57.50" width="15.00" height="2.20" fill="#f8f6f0" stroke="#555" stroke-width="0.30"/><line x1="0.00" y1="60.50" x2="24.00" y2="60.50" stroke="#2b2620" stroke-width="1.60"/><rect x="8.00" y="62.20" width="15.00" height="2.20" fill="#f8f6f0" stroke="#555" stroke-width="0.30"/><circle cx="5.00" cy="66.50" r="2.20" fill="#f8f6f0" stroke="#777" stroke-width="0.30"/><rect x="5.50" y="77.00" width="13.00" height="12.50" fill="#fbfaf6" stroke="#b8ae9c" stroke-width="0.40"/><rect x="5.50" y="86.70" width="13.00" height="2.80" fill="#efece4" stroke="#b8ae9c" stroke-width="0.30"/><rect x="3.00" y="89.50" width="3.00" height="3.00" fill="#f8f6f0"/><rect x="18.00" y="89.50" width="3.00" height="3.00" fill="#f8f6f0"/><rect x="30.00" y="68.50" width="12.50" height="4.50" fill="#f8f6f0" stroke="#2b2620" stroke-width="0.50"/><line x1="33.10" y1="68.50" x2="33.10" y2="73.00" stroke="#444" stroke-width="0.40"/><line x1="36.20" y1="68.50" x2="36.20" y2="73.00" stroke="#444" stroke-width="0.40"/><line x1="39.30" y1="68.50" x2="39.30" y2="73.00" stroke="#444" stroke-width="0.40"/><line x1="24.50" y1="76.00" x2="43.00" y2="76.00" stroke="#2b2620" stroke-width="0.80"/><line x1="24.50" y1="76.00" x2="24.50" y2="95.00" stroke="#2b2620" stroke-width="0.90"/><rect x="37.50" y="78.00" width="4.50" height="4.00" fill="#f8f6f0" stroke="#777" stroke-width="0.30" rx="1.00"/><rect x="26.00" y="78.50" width="4.00" height="4.00" fill="#f8f6f0" stroke="#777" stroke-width="0.30" rx="1.50"/><rect x="39.50" y="84.50" width="3.00" height="6.00" fill="#f8f6f0" stroke="#2b2620" stroke-width="0.60" rx="1.20"/><rect x="26.50" y="86.00" width="11.00" height="6.00" fill="#fbfaf6" stroke="#666" stroke-width="0.40" rx="1.50"/><rect x="0.00" y="92.80" width="43.00" height="2.20" fill="#2b2620"/><rect x="8.00" y="92.60" width="14.00" height="2.20" fill="#f8f6f0" stroke="#555" stroke-width="0.40"/><rect x="0.00" y="0.00" width="43.00" height="95.00" fill="none" stroke="#2b2620" stroke-width="1.15"/></g>
<rect x="550.00" y="288.50" width="43.00" height="30.00" fill="#f1f0ec" stroke="#2b2620" stroke-width="1.00"/><line x1="562.90" y1="292.10" x2="562.90" y2="314.90" stroke="#8a8680" stroke-width="0.35"/><line x1="564.81" y1="292.10" x2="564.81" y2="314.90" stroke="#8a8680" stroke-width="0.35"/><line x1="566.72" y1="292.10" x2="566.72" y2="314.90" stroke="#8a8680" stroke-width="0.35"/><line x1="568.63" y1="292.10" x2="568.63" y2="314.90" stroke="#8a8680" stroke-width="0.35"/><line x1="570.54" y1="292.10" x2="570.54" y2="314.90" stroke="#8a8680" stroke-width="0.35"/><line x1="572.46" y1="292.10" x2="572.46" y2="314.90" stroke="#8a8680" stroke-width="0.35"/><line x1="574.37" y1="292.10" x2="574.37" y2="314.90" stroke="#8a8680" stroke-width="0.35"/><line x1="576.28" y1="292.10" x2="576.28" y2="314.90" stroke="#8a8680" stroke-width="0.35"/><line x1="578.19" y1="292.10" x2="578.19" y2="314.90" stroke="#8a8680" stroke-width="0.35"/><line x1="580.10" y1="292.10" x2="580.10" y2="314.90" stroke="#8a8680" stroke-width="0.35"/><rect x="562.90" y="295.70" width="20.30" height="16.50" fill="none" stroke="#777" stroke-width="0.40"/><line x1="562.90" y1="303.50" x2="580.10" y2="303.50" stroke="#555" stroke-width="0.50"/>
<rect x="550.00" y="319.00" width="24.00" height="22.50" fill="#6a6563"/><rect x="552.00" y="321.00" width="20.00" height="18.00" fill="#777270" stroke="#5c5755" stroke-width="0.40"/><rect x="554.80" y="326.00" width="14.40" height="10.50" fill="#d6d2cf" stroke="#55504c" stroke-width="0.40"/><text x="562.00" y="332.35" font-family="Liberation Sans,sans-serif" font-size="3.2" font-weight="bold" fill="#3a3632" text-anchor="middle" textLength="9.4" lengthAdjust="spacingAndGlyphs">LIFT</text><rect x="556.50" y="339.30" width="11.00" height="2.20" fill="#f1eeea"/>
<rect x="574.00" y="319.00" width="19.00" height="17.00" fill="#f1f0ec" stroke="#2b2620" stroke-width="0.70"/>
<rect x="576.00" y="335.00" width="13.00" height="6.00" fill="#f1f0ec" stroke="#555" stroke-width="0.40"/>
<g transform="matrix(-1.00000 0 0 0.99231 651.500 126.000)"><rect x="0.00" y="0.00" width="43.00" height="130.00" fill="#cfb78a"/><rect x="-7.00" y="5.00" width="8.00" height="23.00" fill="#f8f6f0" stroke="#8a8a88" stroke-width="0.45"/><rect x="-5.50" y="8.00" width="2.20" height="17.00" fill="none" stroke="#777" stroke-width="0.40"/><line x1="-7.00" y1="16.50" x2="-3.00" y2="16.50" stroke="#777" stroke-width="0.40"/><rect x="-7.00" y="100.00" width="8.00" height="23.00" fill="#f8f6f0" stroke="#8a8a88" stroke-width="0.45"/><rect x="-5.50" y="103.00" width="2.20" height="17.00" fill="none" stroke="#777" stroke-width="0.40"/><line x1="-7.00" y1="111.50" x2="-3.00" y2="111.50" stroke="#777" stroke-width="0.40"/><rect x="7.50" y="6.50" width="14.50" height="12.50" fill="#fbfaf6" stroke="#b8ae9c" stroke-width="0.40"/><rect x="7.50" y="6.50" width="14.50" height="3.00" fill="#efece4" stroke="#b8ae9c" stroke-width="0.30"/><rect x="5.00" y="2.50" width="3.00" height="3.00" fill="#f8f6f0"/><rect x="22.00" y="2.50" width="3.00" height="3.00" fill="#f8f6f0"/><rect x="11.00" y="20.00" width="8.00" height="2.40" fill="#f8f6f0" stroke="#999" stroke-width="0.30" rx="1.00"/><rect x="10.00" y="0.40" width="9.00" height="2.20" fill="#f8f6f0" stroke="#666" stroke-width="0.40"/><rect x="30.00" y="1.00" width="8.00" height="3.00" fill="#f8f6f0" stroke="#555" stroke-width="0.40"/><line x1="34.00" y1="1.00" x2="34.00" y2="4.00" stroke="#555" stroke-width="0.30"/><rect x="39.50" y="1.50" width="2.50" height="6.00" fill="#f8f6f0" stroke="#2b2620" stroke-width="0.60" rx="1.00"/><rect x="35.50" y="12.00" width="7.00" height="20.00" fill="#d8c5a1" stroke="#2b2620" stroke-width="0.50"/><rect x="36.30" y="13.00" width="5.50" height="5.00" fill="#d1ba8f" stroke="#776" stroke-width="0.40" rx="1.00"/><rect x="36.30" y="19.50" width="5.50" height="4.00" fill="#f8f6f0" stroke="#777" stroke-width="0.30" rx="1.00"/><circle cx="39.00" cy="27.50" r="2.00" fill="#f8f6f0" stroke="#777" stroke-width="0.30"/><line x1="29.20" y1="12.00" x2="29.20" y2="32.00" stroke="#2b2620" stroke-width="1.00"/><line x1="0.00" y1="32.00" x2="43.00" y2="32.00" stroke="#2b2620" stroke-width="1.10"/><rect x="8.00" y="30.20" width="10.00" height="1.80" fill="#f8f6f0" stroke="#555" stroke-width="0.30"/><rect x="0.50" y="33.00" width="6.00" height="62.00" fill="#bea87e"/><rect x="2.50" y="34.00" width="3.30" height="4.00" fill="#f8f6f0" stroke="#666" stroke-width="0.40"/><rect x="7.50" y="33.00" width="14.50" height="28.50" fill="none" stroke="#2b2620" stroke-width="0.70"/><rect x="12.50" y="40.00" width="6.00" height="11.00" fill="#f8f6f0" stroke="#888" stroke-width="0.30" rx="2.50"/><circle cx="15.50" cy="38.80" r="2.00" fill="#f8f6f0" stroke="#888" stroke-width="0.30"/><circle cx="15.50" cy="52.20" r="2.00" fill="#f8f6f0" stroke="#888" stroke-width="0.30"/><circle cx="11.50" cy="45.50" r="1.80" fill="#f8f6f0" stroke="#888" stroke-width="0.30"/><circle cx="19.50" cy="45.50" r="1.80" fill="#f8f6f0" stroke="#888" stroke-width="0.30"/><rect x="37.50" y="33.00" width="5.00" height="26.00" fill="#d8c5a1" stroke="#555" stroke-width="0.40"/><rect x="38.00" y="34.00" width="4.00" height="4.00" fill="#222"/><rect x="38.00" y="39.00" width="4.00" height="5.00" fill="#f8f6f0" stroke="#555" stroke-width="0.30"/><rect x="38.00" y="45.00" width="4.00" height="3.00" fill="#333"/><rect x="38.00" y="49.00" width="4.00" height="9.00" fill="#f8f6f0" stroke="#555" stroke-width="0.30"/><rect x="31.50" y="58.00" width="11.00" height="8.00" fill="#f8f6f0" stroke="#666" stroke-width="0.40"/><rect x="31.50" y="58.00" width="5.00" height="4.00" fill="#fff" stroke="#888" stroke-width="0.30" rx="1.00"/><rect x="8.00" y="62.00" width="14.00" height="3.00" fill="#f8f6f0" stroke="#2b2620" stroke-width="0.50"/><rect x="8.00" y="62.00" width="4.00" height="3.00" fill="#333"/><path d="M43 68 A7 7 0 0 0 36 75" fill="none" stroke="#555" stroke-width="0.35"/><line x1="36.00" y1="68.00" x2="43.00" y2="68.00" stroke="#2b2620" stroke-width="0.80"/><rect x="9.00" y="67.50" width="15.50" height="6.50" fill="#f8f6f0" stroke="#666" stroke-width="0.40" rx="1.50"/><line x1="9.00" y1="70.50" x2="24.50" y2="70.50" stroke="#888" stroke-width="0.30"/><line x1="14.00" y1="67.50" x2="14.00" y2="74.00" stroke="#888" stroke-width="0.30"/><line x1="19.50" y1="67.50" x2="19.50" y2="74.00" stroke="#888" stroke-width="0.30"/><rect x="11.00" y="78.00" width="11.50" height="7.00" fill="#fbfaf6" stroke="#666" stroke-width="0.40"/><rect x="13.00" y="79.50" width="7.50" height="4.00" fill="none" stroke="#999" stroke-width="0.30"/><rect x="26.00" y="80.00" width="8.50" height="12.00" fill="#f8f6f0" stroke="#777" stroke-width="0.40" rx="1.00"/><circle cx="24.50" cy="83.00" r="1.80" fill="#f8f6f0" stroke="#777" stroke-width="0.30"/><circle cx="24.50" cy="89.00" r="1.80" fill="#f8f6f0" stroke="#777" stroke-width="0.30"/><rect x="37.00" y="77.00" width="5.50" height="18.00" fill="#f8f6f0" stroke="#666" stroke-width="0.40"/><line x1="37.00" y1="83.00" x2="42.50" y2="83.00" stroke="#666" stroke-width="0.30"/><line x1="37.00" y1="89.00" x2="42.50" y2="89.00" stroke="#666" stroke-width="0.30"/><rect x="9.00" y="93.00" width="10.00" height="2.20" fill="#f8f6f0" stroke="#555" stroke-width="0.30"/><line x1="0.00" y1="95.70" x2="43.00" y2="95.70" stroke="#2b2620" stroke-width="1.20"/><rect x="4.00" y="97.00" width="14.00" height="2.60" fill="#f8f6f0" stroke="#555" stroke-width="0.40"/><rect x="10.00" y="105.50" width="8.00" height="2.40" fill="#f8f6f0" stroke="#999" stroke-width="0.30" rx="1.00"/><rect x="6.50" y="109.80" width="15.30" height="11.50" fill="#fbfaf6" stroke="#b8ae9c" stroke-width="0.40"/><rect x="6.50" y="118.30" width="15.30" height="3.00" fill="#efece4" stroke="#b8ae9c" stroke-width="0.30"/><rect x="4.00" y="121.50" width="3.00" height="3.00" fill="#f8f6f0"/><rect x="21.00" y="121.50" width="3.00" height="3.00" fill="#f8f6f0"/><circle cx="2.80" cy="107.50" r="2.40" fill="#f8f6f0" stroke="#777" stroke-width="0.30"/><line x1="27.30" y1="96.00" x2="27.30" y2="130.00" stroke="#2b2620" stroke-width="1.00"/><rect x="28.00" y="97.00" width="14.50" height="5.00" fill="#f8f6f0" stroke="#2b2620" stroke-width="0.50"/><line x1="30.90" y1="97.00" x2="30.90" y2="102.00" stroke="#444" stroke-width="0.40"/><line x1="33.80" y1="97.00" x2="33.80" y2="102.00" stroke="#444" stroke-width="0.40"/><line x1="36.70" y1="97.00" x2="36.70" y2="102.00" stroke="#444" stroke-width="0.40"/><line x1="39.60" y1="97.00" x2="39.60" y2="102.00" stroke="#444" stroke-width="0.40"/><line x1="27.30" y1="108.00" x2="36.00" y2="108.00" stroke="#2b2620" stroke-width="0.80"/><rect x="37.50" y="103.00" width="5.00" height="5.00" fill="#f8f6f0" stroke="#555" stroke-width="0.40"/><rect x="37.50" y="110.00" width="4.50" height="4.00" fill="#f8f6f0" stroke="#777" stroke-width="0.30" rx="1.00"/><circle cx="38.50" cy="117.50" r="1.80" fill="#f8f6f0" stroke="#777" stroke-width="0.30"/><rect x="29.00" y="121.00" width="10.50" height="6.00" fill="#fbfaf6" stroke="#666" stroke-width="0.40" rx="1.50"/><rect x="0.00" y="127.80" width="43.00" height="2.20" fill="#2b2620"/><rect x="8.00" y="127.60" width="14.00" height="2.20" fill="#f8f6f0" stroke="#555" stroke-width="0.40"/><rect x="28.00" y="127.40" width="12.00" height="2.40" fill="#f8f6f0" stroke="#2b2620" stroke-width="0.40"/><line x1="31.00" y1="127.40" x2="31.00" y2="129.80" stroke="#444" stroke-width="0.40"/><line x1="34.00" y1="127.40" x2="34.00" y2="129.80" stroke="#444" stroke-width="0.40"/><line x1="37.00" y1="127.40" x2="37.00" y2="129.80" stroke="#444" stroke-width="0.40"/><rect x="0.00" y="0.00" width="43.00" height="130.00" fill="none" stroke="#2b2620" stroke-width="1.15"/></g>
<g transform="matrix(-1.00000 0 0 -1.03175 651.500 320.000)"><rect x="0.00" y="0.00" width="43.00" height="63.00" fill="#8c7f5e"/><rect x="-6.00" y="5.00" width="6.50" height="22.00" fill="#f8f6f0" stroke="#8a8a88" stroke-width="0.45"/><rect x="-4.50" y="8.00" width="2.20" height="16.00" fill="none" stroke="#777" stroke-width="0.40"/><line x1="-6.00" y1="16.00" x2="-2.00" y2="16.00" stroke="#777" stroke-width="0.40"/><rect x="2.00" y="0.80" width="19.00" height="3.20" fill="#f8f6f0" stroke="#666" stroke-width="0.40"/><rect x="23.00" y="0.80" width="18.50" height="3.60" fill="#f8f6f0" stroke="#2b2620" stroke-width="0.50"/><line x1="26.10" y1="0.80" x2="26.10" y2="4.40" stroke="#444" stroke-width="0.40"/><line x1="29.20" y1="0.80" x2="29.20" y2="4.40" stroke="#444" stroke-width="0.40"/><line x1="32.30" y1="0.80" x2="32.30" y2="4.40" stroke="#444" stroke-width="0.40"/><line x1="35.40" y1="0.80" x2="35.40" y2="4.40" stroke="#444" stroke-width="0.40"/><line x1="38.50" y1="0.80" x2="38.50" y2="4.40" stroke="#444" stroke-width="0.40"/><rect x="5.00" y="5.50" width="12.50" height="13.00" fill="#fbfaf6" stroke="#b8ae9c" stroke-width="0.40"/><rect x="5.00" y="5.50" width="12.50" height="3.00" fill="#efece4" stroke="#b8ae9c" stroke-width="0.30"/><rect x="2.50" y="6.00" width="2.20" height="2.50" fill="#f8f6f0"/><rect x="17.80" y="6.00" width="2.20" height="2.50" fill="#f8f6f0"/><rect x="22.00" y="11.50" width="20.00" height="15.50" fill="#948769" stroke="#2b2620" stroke-width="0.90" rx="1.20"/><rect x="23.50" y="13.00" width="5.00" height="12.30" fill="#f8f6f0" stroke="#777" stroke-width="0.40" rx="1.50"/><circle cx="26.00" cy="16.00" r="1.50" fill="#fff" stroke="#777" stroke-width="0.30"/><rect x="34.50" y="13.00" width="6.30" height="12.30" fill="#fbfaf6" stroke="#666" stroke-width="0.40" rx="1.00"/><line x1="31.50" y1="12.00" x2="31.50" y2="26.00" stroke="#2b2620" stroke-width="0.60"/><rect x="36.50" y="6.00" width="5.50" height="4.00" fill="#f8f6f0" stroke="#2b2620" stroke-width="0.50"/><rect x="36.00" y="28.00" width="6.00" height="3.60" fill="#f8f6f0" stroke="#2b2620" stroke-width="0.50"/><line x1="0.00" y1="27.50" x2="9.00" y2="27.50" stroke="#2b2620" stroke-width="1.40"/><rect x="1.00" y="25.50" width="6.00" height="5.00" fill="#f8f6f0" stroke="#2b2620" stroke-width="0.50"/><rect x="0.50" y="31.50" width="6.50" height="26.50" fill="#7e7254"/><line x1="7.20" y1="31.00" x2="7.20" y2="58.00" stroke="#2b2620" stroke-width="0.90"/><rect x="13.50" y="34.50" width="5.50" height="6.00" fill="#f8f6f0" stroke="#777" stroke-width="0.30" rx="2.00"/><rect x="20.50" y="34.50" width="5.50" height="6.00" fill="#f8f6f0" stroke="#777" stroke-width="0.30" rx="2.00"/><rect x="16.50" y="36.00" width="6.00" height="4.00" fill="#fff" stroke="#999" stroke-width="0.30" rx="1.00"/><rect x="13.50" y="42.00" width="12.50" height="6.00" fill="#f8f6f0" stroke="#666" stroke-width="0.40" rx="1.20"/><line x1="13.50" y1="44.50" x2="26.00" y2="44.50" stroke="#888" stroke-width="0.30"/><rect x="14.50" y="51.00" width="10.50" height="5.20" fill="#fbfaf6" stroke="#666" stroke-width="0.40"/><rect x="16.50" y="52.30" width="6.50" height="2.60" fill="none" stroke="#999" stroke-width="0.30"/><rect x="34.50" y="38.50" width="7.50" height="20.00" fill="#948769" stroke="#2b2620" stroke-width="0.50"/><rect x="35.50" y="40.00" width="5.50" height="7.00" fill="#f8f6f0" stroke="#777" stroke-width="0.30"/><rect x="35.50" y="49.00" width="5.50" height="8.00" fill="#f8f6f0" stroke="#777" stroke-width="0.30"/><circle cx="38.20" cy="53.00" r="1.50" fill="#fff" stroke="#777" stroke-width="0.30"/><path d="M34 31.5 A7 7 0 0 0 27 38.5" fill="none" stroke="#555" stroke-width="0.35"/><line x1="32.00" y1="31.50" x2="32.00" y2="38.50" stroke="#2b2620" stroke-width="0.60"/><rect x="0.00" y="60.80" width="43.00" height="2.20" fill="#2b2620"/><rect x="9.50" y="60.60" width="15.50" height="2.20" fill="#f8f6f0" stroke="#555" stroke-width="0.40"/><line x1="14.50" y1="60.60" x2="14.50" y2="62.80" stroke="#555" stroke-width="0.30"/><line x1="20.00" y1="60.60" x2="20.00" y2="62.80" stroke="#555" stroke-width="0.30"/><rect x="1.00" y="56.50" width="5.00" height="4.00" fill="#f8f6f0" stroke="#2b2620" stroke-width="0.50"/><rect x="36.50" y="58.50" width="5.50" height="3.50" fill="#f8f6f0" stroke="#2b2620" stroke-width="0.50"/><rect x="27.50" y="58.50" width="6.00" height="3.50" fill="#f8f6f0" stroke="#2b2620" stroke-width="0.50"/><path d="M-3.3 5.8 Q1 5.8 1 3 V0 M-3.3 26.4 Q1 26.4 1 28.5" fill="none" stroke="#2b2620" stroke-width="1.0"/><rect x="0.00" y="0.00" width="43.00" height="63.00" fill="none" stroke="#2b2620" stroke-width="1.15"/></g>
<g transform="matrix(-1.00000 0 0 0.98846 651.500 320.000)"><rect x="0.00" y="0.00" width="43.00" height="130.00" fill="#cfb78a"/><rect x="-7.00" y="5.00" width="8.00" height="23.00" fill="#f8f6f0" stroke="#8a8a88" stroke-width="0.45"/><rect x="-5.50" y="8.00" width="2.20" height="17.00" fill="none" stroke="#777" stroke-width="0.40"/><line x1="-7.00" y1="16.50" x2="-3.00" y2="16.50" stroke="#777" stroke-width="0.40"/><rect x="-7.00" y="100.00" width="8.00" height="23.00" fill="#f8f6f0" stroke="#8a8a88" stroke-width="0.45"/><rect x="-5.50" y="103.00" width="2.20" height="17.00" fill="none" stroke="#777" stroke-width="0.40"/><line x1="-7.00" y1="111.50" x2="-3.00" y2="111.50" stroke="#777" stroke-width="0.40"/><rect x="7.50" y="6.50" width="14.50" height="12.50" fill="#fbfaf6" stroke="#b8ae9c" stroke-width="0.40"/><rect x="7.50" y="6.50" width="14.50" height="3.00" fill="#efece4" stroke="#b8ae9c" stroke-width="0.30"/><rect x="5.00" y="2.50" width="3.00" height="3.00" fill="#f8f6f0"/><rect x="22.00" y="2.50" width="3.00" height="3.00" fill="#f8f6f0"/><rect x="11.00" y="20.00" width="8.00" height="2.40" fill="#f8f6f0" stroke="#999" stroke-width="0.30" rx="1.00"/><rect x="10.00" y="0.40" width="9.00" height="2.20" fill="#f8f6f0" stroke="#666" stroke-width="0.40"/><rect x="30.00" y="1.00" width="8.00" height="3.00" fill="#f8f6f0" stroke="#555" stroke-width="0.40"/><line x1="34.00" y1="1.00" x2="34.00" y2="4.00" stroke="#555" stroke-width="0.30"/><rect x="39.50" y="1.50" width="2.50" height="6.00" fill="#f8f6f0" stroke="#2b2620" stroke-width="0.60" rx="1.00"/><rect x="35.50" y="12.00" width="7.00" height="20.00" fill="#d8c5a1" stroke="#2b2620" stroke-width="0.50"/><rect x="36.30" y="13.00" width="5.50" height="5.00" fill="#d1ba8f" stroke="#776" stroke-width="0.40" rx="1.00"/><rect x="36.30" y="19.50" width="5.50" height="4.00" fill="#f8f6f0" stroke="#777" stroke-width="0.30" rx="1.00"/><circle cx="39.00" cy="27.50" r="2.00" fill="#f8f6f0" stroke="#777" stroke-width="0.30"/><line x1="29.20" y1="12.00" x2="29.20" y2="32.00" stroke="#2b2620" stroke-width="1.00"/><line x1="0.00" y1="32.00" x2="43.00" y2="32.00" stroke="#2b2620" stroke-width="1.10"/><rect x="8.00" y="30.20" width="10.00" height="1.80" fill="#f8f6f0" stroke="#555" stroke-width="0.30"/><rect x="0.50" y="33.00" width="6.00" height="62.00" fill="#bea87e"/><rect x="2.50" y="34.00" width="3.30" height="4.00" fill="#f8f6f0" stroke="#666" stroke-width="0.40"/><rect x="7.50" y="33.00" width="14.50" height="28.50" fill="none" stroke="#2b2620" stroke-width="0.70"/><rect x="12.50" y="40.00" width="6.00" height="11.00" fill="#f8f6f0" stroke="#888" stroke-width="0.30" rx="2.50"/><circle cx="15.50" cy="38.80" r="2.00" fill="#f8f6f0" stroke="#888" stroke-width="0.30"/><circle cx="15.50" cy="52.20" r="2.00" fill="#f8f6f0" stroke="#888" stroke-width="0.30"/><circle cx="11.50" cy="45.50" r="1.80" fill="#f8f6f0" stroke="#888" stroke-width="0.30"/><circle cx="19.50" cy="45.50" r="1.80" fill="#f8f6f0" stroke="#888" stroke-width="0.30"/><rect x="37.50" y="33.00" width="5.00" height="26.00" fill="#d8c5a1" stroke="#555" stroke-width="0.40"/><rect x="38.00" y="34.00" width="4.00" height="4.00" fill="#222"/><rect x="38.00" y="39.00" width="4.00" height="5.00" fill="#f8f6f0" stroke="#555" stroke-width="0.30"/><rect x="38.00" y="45.00" width="4.00" height="3.00" fill="#333"/><rect x="38.00" y="49.00" width="4.00" height="9.00" fill="#f8f6f0" stroke="#555" stroke-width="0.30"/><rect x="31.50" y="58.00" width="11.00" height="8.00" fill="#f8f6f0" stroke="#666" stroke-width="0.40"/><rect x="31.50" y="58.00" width="5.00" height="4.00" fill="#fff" stroke="#888" stroke-width="0.30" rx="1.00"/><rect x="8.00" y="62.00" width="14.00" height="3.00" fill="#f8f6f0" stroke="#2b2620" stroke-width="0.50"/><rect x="8.00" y="62.00" width="4.00" height="3.00" fill="#333"/><path d="M43 68 A7 7 0 0 0 36 75" fill="none" stroke="#555" stroke-width="0.35"/><line x1="36.00" y1="68.00" x2="43.00" y2="68.00" stroke="#2b2620" stroke-width="0.80"/><rect x="9.00" y="67.50" width="15.50" height="6.50" fill="#f8f6f0" stroke="#666" stroke-width="0.40" rx="1.50"/><line x1="9.00" y1="70.50" x2="24.50" y2="70.50" stroke="#888" stroke-width="0.30"/><line x1="14.00" y1="67.50" x2="14.00" y2="74.00" stroke="#888" stroke-width="0.30"/><line x1="19.50" y1="67.50" x2="19.50" y2="74.00" stroke="#888" stroke-width="0.30"/><rect x="11.00" y="78.00" width="11.50" height="7.00" fill="#fbfaf6" stroke="#666" stroke-width="0.40"/><rect x="13.00" y="79.50" width="7.50" height="4.00" fill="none" stroke="#999" stroke-width="0.30"/><rect x="26.00" y="80.00" width="8.50" height="12.00" fill="#f8f6f0" stroke="#777" stroke-width="0.40" rx="1.00"/><circle cx="24.50" cy="83.00" r="1.80" fill="#f8f6f0" stroke="#777" stroke-width="0.30"/><circle cx="24.50" cy="89.00" r="1.80" fill="#f8f6f0" stroke="#777" stroke-width="0.30"/><rect x="37.00" y="77.00" width="5.50" height="18.00" fill="#f8f6f0" stroke="#666" stroke-width="0.40"/><line x1="37.00" y1="83.00" x2="42.50" y2="83.00" stroke="#666" stroke-width="0.30"/><line x1="37.00" y1="89.00" x2="42.50" y2="89.00" stroke="#666" stroke-width="0.30"/><rect x="9.00" y="93.00" width="10.00" height="2.20" fill="#f8f6f0" stroke="#555" stroke-width="0.30"/><line x1="0.00" y1="95.70" x2="43.00" y2="95.70" stroke="#2b2620" stroke-width="1.20"/><rect x="4.00" y="97.00" width="14.00" height="2.60" fill="#f8f6f0" stroke="#555" stroke-width="0.40"/><rect x="10.00" y="105.50" width="8.00" height="2.40" fill="#f8f6f0" stroke="#999" stroke-width="0.30" rx="1.00"/><rect x="6.50" y="109.80" width="15.30" height="11.50" fill="#fbfaf6" stroke="#b8ae9c" stroke-width="0.40"/><rect x="6.50" y="118.30" width="15.30" height="3.00" fill="#efece4" stroke="#b8ae9c" stroke-width="0.30"/><rect x="4.00" y="121.50" width="3.00" height="3.00" fill="#f8f6f0"/><rect x="21.00" y="121.50" width="3.00" height="3.00" fill="#f8f6f0"/><circle cx="2.80" cy="107.50" r="2.40" fill="#f8f6f0" stroke="#777" stroke-width="0.30"/><line x1="27.30" y1="96.00" x2="27.30" y2="130.00" stroke="#2b2620" stroke-width="1.00"/><rect x="28.00" y="97.00" width="14.50" height="5.00" fill="#f8f6f0" stroke="#2b2620" stroke-width="0.50"/><line x1="30.90" y1="97.00" x2="30.90" y2="102.00" stroke="#444" stroke-width="0.40"/><line x1="33.80" y1="97.00" x2="33.80" y2="102.00" stroke="#444" stroke-width="0.40"/><line x1="36.70" y1="97.00" x2="36.70" y2="102.00" stroke="#444" stroke-width="0.40"/><line x1="39.60" y1="97.00" x2="39.60" y2="102.00" stroke="#444" stroke-width="0.40"/><line x1="27.30" y1="108.00" x2="36.00" y2="108.00" stroke="#2b2620" stroke-width="0.80"/><rect x="37.50" y="103.00" width="5.00" height="5.00" fill="#f8f6f0" stroke="#555" stroke-width="0.40"/><rect x="37.50" y="110.00" width="4.50" height="4.00" fill="#f8f6f0" stroke="#777" stroke-width="0.30" rx="1.00"/><circle cx="38.50" cy="117.50" r="1.80" fill="#f8f6f0" stroke="#777" stroke-width="0.30"/><rect x="29.00" y="121.00" width="10.50" height="6.00" fill="#fbfaf6" stroke="#666" stroke-width="0.40" rx="1.50"/><rect x="0.00" y="127.80" width="43.00" height="2.20" fill="#2b2620"/><rect x="8.00" y="127.60" width="14.00" height="2.20" fill="#f8f6f0" stroke="#555" stroke-width="0.40"/><rect x="28.00" y="127.40" width="12.00" height="2.40" fill="#f8f6f0" stroke="#2b2620" stroke-width="0.40"/><line x1="31.00" y1="127.40" x2="31.00" y2="129.80" stroke="#444" stroke-width="0.40"/><line x1="34.00" y1="127.40" x2="34.00" y2="129.80" stroke="#444" stroke-width="0.40"/><line x1="37.00" y1="127.40" x2="37.00" y2="129.80" stroke="#444" stroke-width="0.40"/><rect x="0.00" y="0.00" width="43.00" height="130.00" fill="none" stroke="#2b2620" stroke-width="1.15"/></g>
<g transform="matrix(1.00000 0 0 1.03175 550.000 383.500)"><rect x="0.00" y="0.00" width="43.00" height="63.00" fill="#a48e4a"/><rect x="-6.00" y="5.00" width="6.50" height="22.00" fill="#f8f6f0" stroke="#8a8a88" stroke-width="0.45"/><rect x="-4.50" y="8.00" width="2.20" height="16.00" fill="none" stroke="#777" stroke-width="0.40"/><line x1="-6.00" y1="16.00" x2="-2.00" y2="16.00" stroke="#777" stroke-width="0.40"/><rect x="2.00" y="0.80" width="19.00" height="3.20" fill="#f8f6f0" stroke="#666" stroke-width="0.40"/><rect x="23.00" y="0.80" width="18.50" height="3.60" fill="#f8f6f0" stroke="#2b2620" stroke-width="0.50"/><line x1="26.10" y1="0.80" x2="26.10" y2="4.40" stroke="#444" stroke-width="0.40"/><line x1="29.20" y1="0.80" x2="29.20" y2="4.40" stroke="#444" stroke-width="0.40"/><line x1="32.30" y1="0.80" x2="32.30" y2="4.40" stroke="#444" stroke-width="0.40"/><line x1="35.40" y1="0.80" x2="35.40" y2="4.40" stroke="#444" stroke-width="0.40"/><line x1="38.50" y1="0.80" x2="38.50" y2="4.40" stroke="#444" stroke-width="0.40"/><rect x="5.00" y="5.50" width="12.50" height="13.00" fill="#fbfaf6" stroke="#b8ae9c" stroke-width="0.40"/><rect x="5.00" y="5.50" width="12.50" height="3.00" fill="#efece4" stroke="#b8ae9c" stroke-width="0.30"/><rect x="2.50" y="6.00" width="2.20" height="2.50" fill="#f8f6f0"/><rect x="17.80" y="6.00" width="2.20" height="2.50" fill="#f8f6f0"/><rect x="22.00" y="11.50" width="20.00" height="15.50" fill="#aa9556" stroke="#2b2620" stroke-width="0.90" rx="1.20"/><rect x="23.50" y="13.00" width="5.00" height="12.30" fill="#f8f6f0" stroke="#777" stroke-width="0.40" rx="1.50"/><circle cx="26.00" cy="16.00" r="1.50" fill="#fff" stroke="#777" stroke-width="0.30"/><rect x="34.50" y="13.00" width="6.30" height="12.30" fill="#fbfaf6" stroke="#666" stroke-width="0.40" rx="1.00"/><line x1="31.50" y1="12.00" x2="31.50" y2="26.00" stroke="#2b2620" stroke-width="0.60"/><rect x="36.50" y="6.00" width="5.50" height="4.00" fill="#f8f6f0" stroke="#2b2620" stroke-width="0.50"/><rect x="36.00" y="28.00" width="6.00" height="3.60" fill="#f8f6f0" stroke="#2b2620" stroke-width="0.50"/><line x1="0.00" y1="27.50" x2="9.00" y2="27.50" stroke="#2b2620" stroke-width="1.40"/><rect x="1.00" y="25.50" width="6.00" height="5.00" fill="#f8f6f0" stroke="#2b2620" stroke-width="0.50"/><rect x="0.50" y="31.50" width="6.50" height="26.50" fill="#937f42"/><line x1="7.20" y1="31.00" x2="7.20" y2="58.00" stroke="#2b2620" stroke-width="0.90"/><rect x="13.50" y="34.50" width="5.50" height="6.00" fill="#f8f6f0" stroke="#777" stroke-width="0.30" rx="2.00"/><rect x="20.50" y="34.50" width="5.50" height="6.00" fill="#f8f6f0" stroke="#777" stroke-width="0.30" rx="2.00"/><rect x="16.50" y="36.00" width="6.00" height="4.00" fill="#fff" stroke="#999" stroke-width="0.30" rx="1.00"/><rect x="13.50" y="42.00" width="12.50" height="6.00" fill="#f8f6f0" stroke="#666" stroke-width="0.40" rx="1.20"/><line x1="13.50" y1="44.50" x2="26.00" y2="44.50" stroke="#888" stroke-width="0.30"/><rect x="14.50" y="51.00" width="10.50" height="5.20" fill="#fbfaf6" stroke="#666" stroke-width="0.40"/><rect x="16.50" y="52.30" width="6.50" height="2.60" fill="none" stroke="#999" stroke-width="0.30"/><rect x="34.50" y="38.50" width="7.50" height="20.00" fill="#aa9556" stroke="#2b2620" stroke-width="0.50"/><rect x="35.50" y="40.00" width="5.50" height="7.00" fill="#f8f6f0" stroke="#777" stroke-width="0.30"/><rect x="35.50" y="49.00" width="5.50" height="8.00" fill="#f8f6f0" stroke="#777" stroke-width="0.30"/><circle cx="38.20" cy="53.00" r="1.50" fill="#fff" stroke="#777" stroke-width="0.30"/><path d="M34 31.5 A7 7 0 0 0 27 38.5" fill="none" stroke="#555" stroke-width="0.35"/><line x1="32.00" y1="31.50" x2="32.00" y2="38.50" stroke="#2b2620" stroke-width="0.60"/><rect x="0.00" y="60.80" width="43.00" height="2.20" fill="#2b2620"/><rect x="9.50" y="60.60" width="15.50" height="2.20" fill="#f8f6f0" stroke="#555" stroke-width="0.40"/><line x1="14.50" y1="60.60" x2="14.50" y2="62.80" stroke="#555" stroke-width="0.30"/><line x1="20.00" y1="60.60" x2="20.00" y2="62.80" stroke="#555" stroke-width="0.30"/><rect x="1.00" y="56.50" width="5.00" height="4.00" fill="#f8f6f0" stroke="#2b2620" stroke-width="0.50"/><rect x="36.50" y="58.50" width="5.50" height="3.50" fill="#f8f6f0" stroke="#2b2620" stroke-width="0.50"/><rect x="27.50" y="58.50" width="6.00" height="3.50" fill="#f8f6f0" stroke="#2b2620" stroke-width="0.50"/><path d="M-3.3 5.8 Q1 5.8 1 3 V0 M-3.3 26.4 Q1 26.4 1 28.5" fill="none" stroke="#2b2620" stroke-width="1.0"/><rect x="0.00" y="0.00" width="43.00" height="63.00" fill="none" stroke="#2b2620" stroke-width="1.15"/></g>
<line x1="593.00" y1="448.30" x2="609.00" y2="448.30" stroke="#2b2620" stroke-width="1.00"/>
<line x1="593.00" y1="126.30" x2="609.00" y2="126.30" stroke="#2b2620" stroke-width="1.00"/>
<line x1="550.00" y1="361.00" x2="550.00" y2="384.00" stroke="#888" stroke-width="0.50"/>
</g>
<text x="344.5" y="420.4" font-family="Liberation Sans,sans-serif" font-weight="bold" font-size="4.6" fill="#24401c" text-anchor="middle" textLength="51" lengthAdjust="spacingAndGlyphs">SKY GARDEN</text>
<!-- logo -->
<g>
<rect x="560.7" y="7" width="79.5" height="102.5" fill="#231f20"/>
<text transform="translate(576.2 47.2) scale(0.455 1)" font-family="Liberation Sans,sans-serif" font-size="32" fill="#b9b7b6" stroke="#231f20" stroke-width="1.1">THE</text>
<text transform="translate(575.8 76.3) scale(0.545 1)" font-family="Liberation Sans,sans-serif" font-weight="bold" font-size="38" fill="#bdbbba">PRIO</text>
<rect x="576.5" y="79.6" width="49.5" height="0.8" fill="#c8352c"/>
<text x="576.6" y="85.6" font-family="Liberation Sans,sans-serif" font-size="3.9" fill="#c9c7c6" textLength="49" lengthAdjust="spacingAndGlyphs">SIGNATURE CONDO</text>
<text x="576.6" y="90.9" font-family="Liberation Sans,sans-serif" font-weight="bold" font-size="4.1" fill="#d5d3d2" textLength="49" lengthAdjust="spacing">CHIANG MAI</text>
<rect x="576.5" y="93.8" width="49.5" height="0.5" fill="#8a2a24"/>
</g>
<line x1="305.40" y1="152.00" x2="281.00" y2="152.00" stroke="#30309a" stroke-width="1.80"/><circle cx="305.40" cy="152.00" r="4.50" fill="#30309a"/>
<rect x="209.0" y="134.5" width="72.3" height="32.3" fill="url(#lg)" filter="url(#sh)"/><text x="245.2" y="155.2" font-family="Liberation Serif,serif" font-weight="bold" font-size="11.6" fill="#fff" text-anchor="middle">209/421</text>
<line x1="373.60" y1="209.70" x2="398.00" y2="209.70" stroke="#30309a" stroke-width="1.80"/><circle cx="373.60" cy="209.70" r="4.50" fill="#30309a"/>
<rect x="398.2" y="189.2" width="72.4" height="32.2" fill="url(#lg)" filter="url(#sh)"/><text x="434.4" y="209.9" font-family="Liberation Serif,serif" font-weight="bold" font-size="11.6" fill="#fff" text-anchor="middle">209/425</text>
<line x1="567.00" y1="177.70" x2="544.00" y2="177.70" stroke="#30309a" stroke-width="1.80"/><circle cx="567.00" cy="177.70" r="4.50" fill="#30309a"/>
<rect x="471.7" y="157.0" width="72.3" height="32.7" fill="url(#lg)" filter="url(#sh)"/><text x="507.9" y="177.9" font-family="Liberation Serif,serif" font-weight="bold" font-size="11.6" fill="#fff" text-anchor="middle">209/431</text>
<line x1="171.50" y1="320.00" x2="171.50" y2="297.00" stroke="#30309a" stroke-width="1.80"/><circle cx="171.50" cy="320.00" r="4.50" fill="#30309a"/>
<rect x="142.0" y="264.0" width="72.0" height="33.0" fill="url(#lg)" filter="url(#sh)"/><text x="178.0" y="285.1" font-family="Liberation Serif,serif" font-weight="bold" font-size="11.6" fill="#fff" text-anchor="middle">209/416</text>
<line x1="261.00" y1="320.00" x2="261.00" y2="297.00" stroke="#30309a" stroke-width="1.80"/><circle cx="261.00" cy="320.00" r="4.50" fill="#30309a"/>
<rect x="217.0" y="264.0" width="71.5" height="33.0" fill="url(#lg)" filter="url(#sh)"/><text x="252.8" y="285.1" font-family="Liberation Serif,serif" font-weight="bold" font-size="11.6" fill="#fff" text-anchor="middle">209/418</text>
<line x1="427.00" y1="320.00" x2="427.00" y2="293.00" stroke="#30309a" stroke-width="1.80"/><circle cx="427.00" cy="320.00" r="4.50" fill="#30309a"/>
<rect x="400.0" y="261.0" width="72.0" height="32.5" fill="url(#lg)" filter="url(#sh)"/><text x="436.0" y="281.9" font-family="Liberation Serif,serif" font-weight="bold" font-size="11.6" fill="#fff" text-anchor="middle">209/427</text>
<line x1="516.50" y1="320.00" x2="516.50" y2="293.00" stroke="#30309a" stroke-width="1.80"/><circle cx="516.50" cy="320.00" r="4.50" fill="#30309a"/>
<rect x="475.0" y="261.0" width="72.0" height="32.5" fill="url(#lg)" filter="url(#sh)"/><text x="511.0" y="281.9" font-family="Liberation Serif,serif" font-weight="bold" font-size="11.6" fill="#fff" text-anchor="middle">209/429</text>
<line x1="178.00" y1="382.00" x2="178.00" y2="411.00" stroke="#30309a" stroke-width="1.80"/><circle cx="178.00" cy="382.00" r="4.50" fill="#30309a"/>
<rect x="163.0" y="411.0" width="72.0" height="32.3" fill="url(#lg)" filter="url(#sh)"/><text x="199.0" y="431.8" font-family="Liberation Serif,serif" font-weight="bold" font-size="11.6" fill="#fff" text-anchor="middle">209/417</text>
<line x1="569.50" y1="430.00" x2="546.00" y2="430.00" stroke="#30309a" stroke-width="1.80"/><circle cx="569.50" cy="430.00" r="4.50" fill="#30309a"/>
<rect x="474.0" y="414.0" width="72.0" height="33.0" fill="url(#lg)" filter="url(#sh)"/><text x="510.0" y="435.1" font-family="Liberation Serif,serif" font-weight="bold" font-size="11.6" fill="#fff" text-anchor="middle">209/433</text>
<line x1="112.40" y1="486.50" x2="139.00" y2="486.50" stroke="#30309a" stroke-width="1.80"/><circle cx="112.40" cy="486.50" r="4.50" fill="#30309a"/>
<rect x="138.7" y="468.8" width="71.9" height="32.4" fill="url(#lg)" filter="url(#sh)"/><text x="174.6" y="489.6" font-family="Liberation Serif,serif" font-weight="bold" font-size="11.6" fill="#fff" text-anchor="middle">209/415</text>
<!-- executive floor -->
<text x="600.5" y="493.4" font-family="Liberation Serif,serif" font-size="18.6" fill="#977a2b" stroke="#977a2b" stroke-width="0.35" text-anchor="middle" textLength="97" lengthAdjust="spacingAndGlyphs">EXECUTIVE</text>
<text x="600" y="512.6" font-family="Liberation Serif,serif" font-size="18.6" fill="#977a2b" stroke="#977a2b" stroke-width="0.35" text-anchor="middle" textLength="71" lengthAdjust="spacingAndGlyphs">FLOOR 4</text>
<!-- compass -->
<g font-family="Liberation Sans,sans-serif" font-weight="bold" font-size="14" fill="#c0212a" text-anchor="middle">
<text x="712.8" y="429.4">E</text><text x="677.2" y="462.6">N</text><text x="746.5" y="462.6">S</text><text x="713" y="495.4">W</text>
</g>
<g stroke="#1d1a1a" stroke-width="1.4" fill="none" stroke-linecap="round" stroke-linejoin="round">
<path d="M712.8 434 V480.5 M688 457.8 H736"/>
<path d="M709.4 438.6 L712.8 432.6 L716.2 438.6 L712.8 437 Z M709.4 476.2 L712.8 482.2 L716.2 476.2 L712.8 477.8 Z M692.2 454.4 L686.2 457.8 L692.2 461.2 L690.6 457.8 Z M731.8 454.4 L737.8 457.8 L731.8 461.2 L733.4 457.8 Z" fill="#1d1a1a" stroke-width="0.6"/>
</g>
<circle cx="714.7" cy="527.8" r="15.6" fill="#fbfaf5" stroke="#8f887c" stroke-width="3.6"/>
<path d="M702.8 527.8 L714.5 525.3 V530.3 Z" fill="#6c665d"/>
<path d="M724.7 527.8 L714.5 525.3 V530.3 Z" fill="#f4f2ec" stroke="#6c665d" stroke-width="0.7" stroke-linejoin="round"/>
<text x="688.5" y="532.3" font-family="Liberation Sans,sans-serif" font-size="11" fill="#7d786f" text-anchor="middle">N</text>
<!-- title pill -->
<rect x="252.2" y="483.8" width="185" height="35.2" rx="17.6" fill="#fbf9f7" stroke="#111" stroke-width="2.4"/>
<text x="280.5" y="512" font-family="Liberation Sans,Loma,Noto Sans Thai,IBM Plex Sans Thai,DejaVu Sans,sans-serif" font-weight="bold" font-size="23.6" fill="#111" stroke="#111" stroke-width="0.35" textLength="101.5" lengthAdjust="spacingAndGlyphs">แปลนห้องชั้น</text>
<text x="393" y="512" font-family="Liberation Sans,sans-serif" font-weight="bold" font-size="21.3" fill="#111" textLength="19.4" lengthAdjust="spacingAndGlyphs">14</text>
</svg>
</body></html>
